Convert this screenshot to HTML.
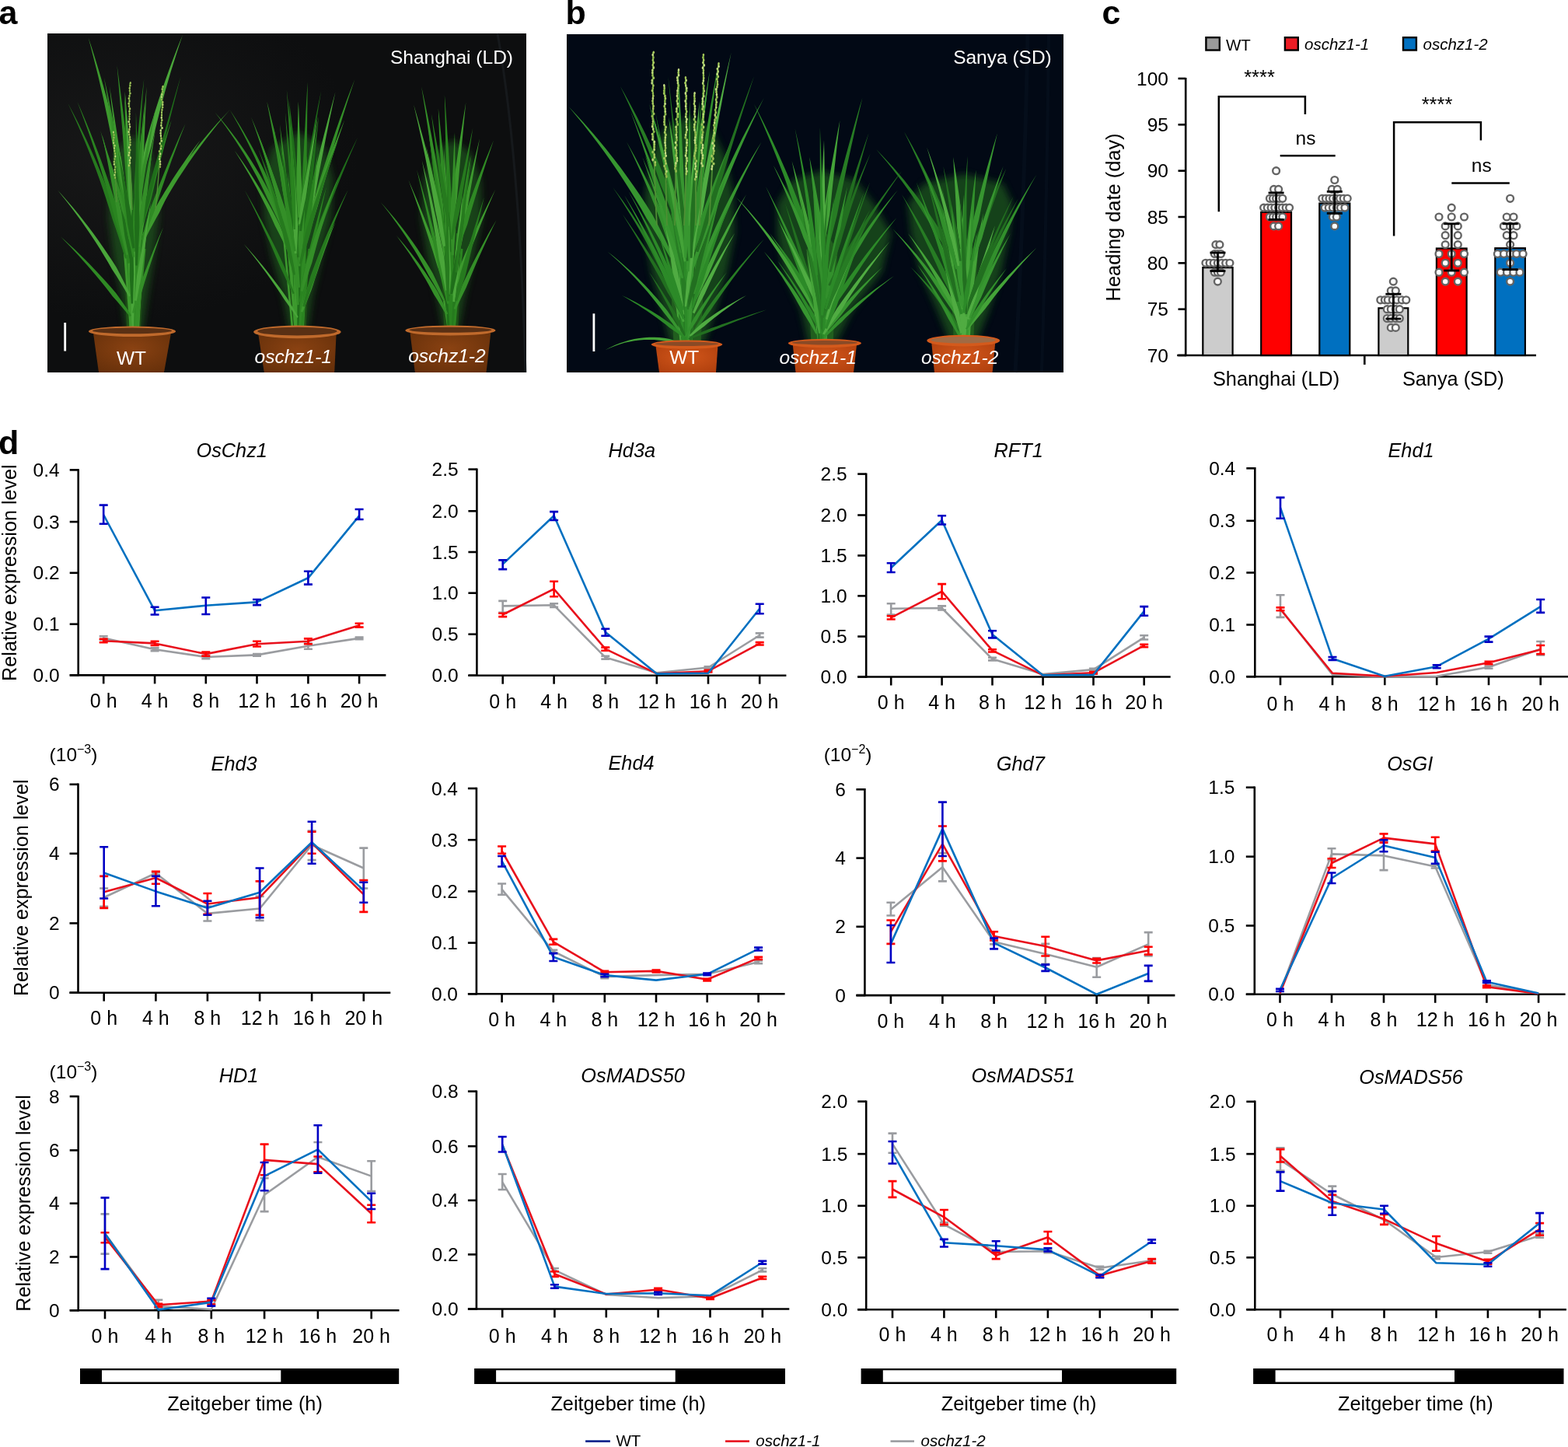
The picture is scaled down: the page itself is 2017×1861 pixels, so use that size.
<!DOCTYPE html>
<html><head><meta charset="utf-8"><title>Figure</title>
<style>
html,body{margin:0;padding:0;background:#fff;}
body{width:2017px;height:1861px;overflow:hidden;}
svg{display:block;font-family:'Liberation Sans', Arial, Helvetica, sans-serif;}
</style></head><body>
<svg width="2017" height="1861" viewBox="0 0 2017 1861">
<rect width="2017" height="1861" fill="#fff"/>
<text x="-1.5" y="31.0" font-size="43" text-anchor="start" fill="#000" font-weight="bold">a</text>
<text x="727.5" y="31.0" font-size="43" text-anchor="start" fill="#000" font-weight="bold">b</text>
<text x="1417.5" y="31.3" font-size="43" text-anchor="start" fill="#000" font-weight="bold">c</text>
<text x="-2.0" y="584.0" font-size="43" text-anchor="start" fill="#000" font-weight="bold">d</text>
<defs><clipPath id="cpa"><rect x="61" y="43" width="616" height="436"/></clipPath><filter id="blur6" x="-20%" y="-20%" width="140%" height="140%"><feGaussianBlur stdDeviation="5"/></filter><clipPath id="cpb"><rect x="729" y="44" width="639" height="435"/></clipPath><radialGradient id="potA" cx="0.5" cy="0.4" r="0.7"><stop offset="0" stop-color="#8a4212"/><stop offset="1" stop-color="#66300a"/></radialGradient><radialGradient id="potB" cx="0.5" cy="0.4" r="0.7"><stop offset="0" stop-color="#d2561a"/><stop offset="1" stop-color="#b0400e"/></radialGradient></defs>
<rect x="61" y="43" width="616" height="436" fill="#0d0e0f"/>
<radialGradient id="bgA" cx="0.15" cy="0.35" r="0.5"><stop offset="0" stop-color="#1c1c1c" stop-opacity="0.7"/><stop offset="1" stop-color="#1c1c1c" stop-opacity="0"/></radialGradient>
<rect x="61" y="43" width="616" height="436" fill="url(#bgA)"/>
<path d="M640,43 Q668,200 676,479" stroke="#1c2224" stroke-width="3" fill="none" opacity="0.6"/>
<g clip-path="url(#cpa)">
<path d="M162.0,423.0 L156.0,380.0 L146.0,330.0 L140.0,280.0 L142.0,230.0 L152.0,190.0 L172.0,175.0 L192.0,190.0 L202.0,230.0 L204.0,280.0 L198.0,330.0 L190.0,380.0 L184.0,423.0Z" fill="#1f541a" opacity="0.75" filter="url(#blur6)"/>
<path d="M162.9,423.0 L159.0,319.0 L172.0,293.0 L185.0,319.0 L181.1,423.0 Z" fill="#1d4f16"/>
<path d="M170.6,423.0 L161.3,258.0" stroke="#3d9a2e" stroke-width="2.7" fill="none"/>
<path d="M173.7,423.0 L179.9,235.5" stroke="#3d9a2e" stroke-width="3.0" fill="none"/>
<path d="M169.2,423.0 L171.3,296.9" stroke="#2a8420" stroke-width="3.4" fill="none"/>
<path d="M168.8,423.0 L162.6,332.1" stroke="#2a8420" stroke-width="2.6" fill="none"/>
<path d="M167.5,423.0 L166.0,338.6" stroke="#2a8420" stroke-width="2.9" fill="none"/>
<path d="M170.7,423.0 L166.9,381.0" stroke="#267a1e" stroke-width="2.9" fill="none"/>
<path d="M168.2,423.0 L168.0,406.4" stroke="#348f28" stroke-width="2.9" fill="none"/>
<path d="M171.4,423.0 L176.9,304.5" stroke="#267a1e" stroke-width="3.3" fill="none"/>
<path d="M176.9,423.0 L186.4,304.7" stroke="#3d9a2e" stroke-width="2.3" fill="none"/>
<path d="M177.7,423.0 L184.1,302.9" stroke="#3d9a2e" stroke-width="2.8" fill="none"/>
<path d="M174.3,423.0 L183.3,308.3" stroke="#348f28" stroke-width="2.3" fill="none"/>
<path d="M174.4,423.0 L183.1,289.1" stroke="#267a1e" stroke-width="2.8" fill="none"/>
<path d="M173.4,423.0 L172.8,322.8" stroke="#1f6e1a" stroke-width="2.2" fill="none"/>
<path d="M171.8,423.0 L162.5,284.8" stroke="#1f6e1a" stroke-width="2.6" fill="none"/>
<path d="M170.7,423.0 L163.9,327.7" stroke="#2a8420" stroke-width="3.1" fill="none"/>
<path d="M170.5,423.0 L171.1,402.5" stroke="#2f8a24" stroke-width="3.2" fill="none"/>
<path d="M172.5,423.0 L169.7,321.7" stroke="#267a1e" stroke-width="2.8" fill="none"/>
<path d="M174.8,423.0 L173.3,289.5" stroke="#267a1e" stroke-width="3.1" fill="none"/>
<path d="M171.2,423.0 L168.8,338.5" stroke="#4aa63a" stroke-width="2.8" fill="none"/>
<path d="M174.7,423.0 L178.4,317.2" stroke="#1f6e1a" stroke-width="3.2" fill="none"/>
<path d="M173.8,423.0 L168.4,279.2" stroke="#4aa63a" stroke-width="2.4" fill="none"/>
<path d="M170.6,423.0 L172.4,323.8" stroke="#3d9a2e" stroke-width="3.1" fill="none"/>
<path d="M169.3,423.0 L168.5,302.0" stroke="#1f6e1a" stroke-width="2.8" fill="none"/>
<path d="M172.7,423.0 L169.8,390.5" stroke="#2a8420" stroke-width="3.1" fill="none"/>
<path d="M172.6,423.0 L174.4,386.8" stroke="#348f28" stroke-width="3.0" fill="none"/>
<path d="M175.7,423.0 L175.2,313.3" stroke="#3d9a2e" stroke-width="3.2" fill="none"/>
<path d="M171.8,423.0 L166.9,307.0" stroke="#267a1e" stroke-width="3.3" fill="none"/>
<path d="M171.1,423.0 L171.8,330.6" stroke="#348f28" stroke-width="2.3" fill="none"/>
<path d="M172.5,423.0 L174.1,284.1" stroke="#267a1e" stroke-width="2.4" fill="none"/>
<path d="M174.4,423.0 L177.5,316.5" stroke="#1f6e1a" stroke-width="3.2" fill="none"/>
<path d="M172.9,423.0 L175.5,341.6" stroke="#2f8a24" stroke-width="2.6" fill="none"/>
<path d="M172.8,423.0 L171.8,319.3" stroke="#4aa63a" stroke-width="3.0" fill="none"/>
<path d="M169.9,423.0 L165.0,300.0" stroke="#3d9a2e" stroke-width="4" fill="none"/>
<path d="M172.0,423.0 L172.0,280.0" stroke="#4aa63a" stroke-width="4" fill="none"/>
<path d="M173.8,423.0 L178.0,300.0" stroke="#2f8a24" stroke-width="4" fill="none"/>
<path d="M170.8,423.0 L168.0,260.0" stroke="#4aa63a" stroke-width="3" fill="none"/>
<path d="M175.0,423.0 L182.0,270.0" stroke="#348f28" stroke-width="3" fill="none"/>
<path d="M168.4,423.0 L160.0,320.0" stroke="#3d9a2e" stroke-width="3" fill="none"/>
<path d="M176.2,423.0 L186.0,320.0" stroke="#348f28" stroke-width="3" fill="none"/>
<path d="M163.1,257.7 L161.5,244.3 L159.8,230.9 L158.0,217.5 L156.1,204.2 L153.2,191.0 L150.2,177.8 L147.1,164.7 L143.9,151.7 L140.5,138.6 L137.1,125.6 L133.5,112.6 L129.8,99.7 L125.9,86.8 L122.0,73.9 L117.9,61.1 L113.6,48.3 L113.6,48.3 L117.0,61.3 L120.4,74.4 L123.7,87.4 L126.9,100.5 L129.9,113.5 L132.9,126.6 L135.7,139.8 L138.5,152.9 L141.1,166.1 L143.6,179.2 L146.0,192.4 L148.2,205.7 L151.2,218.7 L154.1,231.9 L156.9,245.0 L159.5,258.2Z" fill="#3d9a2e"/>
<path d="M181.6,235.9 L184.7,223.9 L187.9,211.9 L191.3,199.9 L194.7,188.0 L197.5,175.9 L200.3,163.9 L203.3,151.9 L206.3,139.9 L209.5,127.9 L212.8,115.9 L216.3,104.0 L219.8,92.1 L223.5,80.3 L227.2,68.4 L231.1,56.6 L235.0,44.8 L235.0,44.8 L230.3,56.3 L225.7,67.9 L221.3,79.5 L217.0,91.2 L212.8,102.9 L208.8,114.7 L204.8,126.5 L201.0,138.3 L197.3,150.2 L193.7,162.1 L190.3,174.1 L187.0,186.1 L184.6,198.3 L182.3,210.6 L180.1,222.9 L178.1,235.2Z" fill="#4aa63a"/>
<path d="M172.8,296.8 L172.2,283.4 L171.5,270.0 L170.8,256.7 L170.1,243.3 L168.6,230.0 L167.1,216.7 L165.6,203.4 L164.0,190.1 L162.4,176.9 L160.8,163.6 L159.2,150.3 L157.5,137.0 L155.8,123.8 L154.1,110.5 L152.3,97.2 L150.5,84.0 L150.5,84.0 L151.6,97.3 L152.7,110.7 L153.8,124.0 L154.9,137.3 L156.0,150.6 L157.1,164.0 L158.1,177.3 L159.2,190.6 L160.2,203.9 L161.2,217.3 L162.2,230.6 L163.1,243.9 L164.8,257.2 L166.5,270.5 L168.1,283.7 L169.7,297.0Z" fill="#2f8a24"/>
<path d="M164.2,331.7 L161.2,318.6 L158.1,305.6 L154.7,292.6 L151.2,279.7 L146.9,267.0 L142.3,254.5 L137.6,242.0 L132.7,229.6 L127.7,217.2 L122.5,204.9 L117.1,192.7 L111.5,180.6 L105.7,168.6 L99.8,156.6 L93.7,144.7 L87.4,132.9 L87.4,132.9 L93.0,145.0 L98.6,157.2 L103.9,169.4 L109.1,181.7 L114.1,194.0 L119.0,206.4 L123.7,218.8 L128.2,231.3 L132.5,243.8 L136.7,256.4 L140.7,269.1 L144.6,281.8 L149.0,294.3 L153.2,307.0 L157.2,319.7 L161.1,332.5Z" fill="#267a1e"/>
<path d="M167.5,338.2 L164.8,324.8 L162.0,311.3 L159.0,298.0 L155.9,284.6 L152.0,271.5 L147.9,258.4 L143.6,245.4 L139.3,232.4 L134.8,219.5 L130.1,206.6 L125.3,193.8 L120.4,181.0 L115.4,168.3 L110.2,155.7 L104.8,143.0 L99.3,130.5 L99.3,130.5 L104.1,143.3 L108.9,156.2 L113.5,169.0 L118.0,181.9 L122.3,194.9 L126.6,207.8 L130.7,220.9 L134.6,233.9 L138.5,247.0 L142.2,260.1 L145.7,273.3 L149.2,286.5 L153.2,299.5 L157.1,312.6 L160.8,325.7 L164.5,338.9Z" fill="#2a8420"/>
<path d="M168.1,380.3 L163.6,371.0 L159.0,361.7 L154.3,352.5 L149.4,343.3 L143.8,334.6 L138.1,325.9 L132.3,317.4 L126.4,309.0 L120.3,300.6 L114.1,292.3 L107.8,284.2 L101.4,276.1 L94.8,268.1 L88.1,260.2 L81.3,252.5 L74.3,244.8 L74.3,244.8 L80.8,252.9 L87.2,261.0 L93.5,269.2 L99.6,277.5 L105.6,285.8 L111.5,294.2 L117.3,302.7 L122.9,311.3 L128.5,320.0 L133.8,328.7 L139.1,337.5 L144.2,346.4 L149.8,355.0 L155.2,363.8 L160.5,372.6 L165.7,381.6Z" fill="#4aa63a"/>
<path d="M169.1,405.7 L164.4,398.5 L159.5,391.4 L154.6,384.4 L149.6,377.5 L144.1,371.0 L138.4,364.5 L132.7,358.2 L126.9,351.9 L121.0,345.7 L115.1,339.6 L109.1,333.5 L103.0,327.5 L96.9,321.6 L90.6,315.7 L84.3,310.0 L77.9,304.3 L77.9,304.3 L83.9,310.4 L89.8,316.6 L95.6,322.8 L101.4,329.0 L107.1,335.4 L112.7,341.7 L118.3,348.2 L123.8,354.7 L129.2,361.2 L134.5,367.8 L139.8,374.5 L144.9,381.2 L150.6,387.6 L156.1,394.1 L161.6,400.6 L167.0,407.2Z" fill="#2f8a24"/>
<path d="M178.3,304.5 L179.3,292.5 L180.4,280.5 L181.5,268.4 L182.5,256.4 L183.0,244.3 L183.5,232.2 L183.9,220.1 L184.4,208.0 L184.9,196.0 L185.4,183.9 L186.0,171.8 L186.5,159.7 L187.0,147.6 L187.6,135.6 L188.1,123.5 L188.6,111.4 L188.6,111.4 L187.5,123.4 L186.4,135.5 L185.3,147.5 L184.3,159.6 L183.2,171.6 L182.2,183.7 L181.2,195.7 L180.3,207.8 L179.3,219.8 L178.4,231.9 L177.5,244.0 L176.5,256.0 L176.3,268.1 L176.0,280.2 L175.8,292.3 L175.6,304.4Z" fill="#3d9a2e"/>
<path d="M187.9,305.3 L191.9,297.3 L196.1,289.4 L200.4,281.5 L204.8,273.8 L208.6,265.7 L212.5,257.7 L216.6,249.8 L220.7,241.9 L225.0,234.0 L229.3,226.2 L233.8,218.5 L238.3,210.8 L243.0,203.2 L247.8,195.6 L252.7,188.0 L257.6,180.5 L257.6,180.5 L252.0,187.6 L246.6,194.8 L241.3,202.0 L236.2,209.4 L231.1,216.8 L226.1,224.3 L221.2,231.8 L216.5,239.4 L211.8,247.1 L207.3,254.9 L202.9,262.7 L198.5,270.6 L195.0,278.9 L191.5,287.2 L188.2,295.6 L185.0,304.1Z" fill="#3d9a2e"/>
<path d="M185.3,303.5 L191.3,292.7 L197.5,282.0 L203.8,271.5 L210.3,261.1 L216.5,250.5 L222.8,240.0 L229.3,229.6 L236.0,219.4 L242.8,209.2 L249.8,199.2 L257.1,189.2 L264.4,179.4 L272.0,169.7 L279.7,160.1 L287.6,150.6 L295.7,141.2 L295.7,141.2 L287.2,150.2 L278.8,159.3 L270.7,168.6 L262.7,178.0 L254.9,187.6 L247.3,197.2 L239.8,207.0 L232.5,217.0 L225.4,227.1 L218.5,237.3 L211.8,247.6 L205.2,258.0 L199.3,268.9 L193.7,280.0 L188.2,291.1 L182.9,302.3Z" fill="#3d9a2e"/>
<path d="M184.6,308.7 L188.0,299.4 L191.5,290.1 L195.0,280.8 L198.6,271.5 L201.6,262.0 L204.7,252.6 L207.9,243.1 L211.1,233.7 L214.3,224.3 L217.7,214.9 L221.0,205.6 L224.5,196.2 L227.9,186.9 L231.4,177.6 L235.0,168.3 L238.6,159.0 L238.6,159.0 L234.4,168.1 L230.3,177.1 L226.3,186.3 L222.4,195.4 L218.5,204.6 L214.7,213.8 L210.9,223.0 L207.2,232.3 L203.5,241.5 L199.9,250.9 L196.4,260.2 L192.9,269.5 L190.1,279.1 L187.4,288.7 L184.7,298.3 L182.0,307.9Z" fill="#2f8a24"/>
<path d="M184.4,289.4 L186.8,281.0 L189.3,272.6 L191.9,264.2 L194.4,255.9 L196.4,247.4 L198.5,238.9 L200.5,230.4 L202.6,221.9 L204.8,213.4 L206.9,204.9 L209.2,196.5 L211.4,188.0 L213.7,179.6 L216.0,171.2 L218.4,162.7 L220.7,154.3 L220.7,154.3 L217.7,162.5 L214.9,170.8 L212.0,179.1 L209.3,187.4 L206.5,195.7 L203.9,204.1 L201.2,212.4 L198.6,220.8 L196.1,229.1 L193.5,237.5 L191.1,245.9 L188.6,254.4 L186.8,262.9 L185.1,271.5 L183.4,280.1 L181.8,288.7Z" fill="#2a8420"/>
<path d="M174.1,322.9 L175.2,310.9 L176.4,298.9 L177.5,286.9 L178.7,274.9 L179.3,262.8 L179.8,250.8 L180.4,238.8 L181.0,226.8 L181.6,214.7 L182.2,202.7 L182.8,190.7 L183.5,178.6 L184.1,166.6 L184.7,154.6 L185.4,142.5 L186.0,130.5 L186.0,130.5 L184.7,142.5 L183.5,154.5 L182.4,166.5 L181.2,178.5 L180.1,190.5 L179.0,202.5 L177.9,214.5 L176.8,226.5 L175.8,238.5 L174.8,250.5 L173.7,262.5 L172.7,274.5 L172.4,286.6 L172.0,298.6 L171.7,310.7 L171.4,322.7Z" fill="#2f8a24"/>
<path d="M164.0,284.7 L163.2,272.9 L162.2,261.2 L161.3,249.5 L160.2,237.8 L158.4,226.2 L156.5,214.6 L154.5,203.1 L152.5,191.5 L150.4,180.0 L148.2,168.4 L146.0,156.9 L143.7,145.4 L141.3,133.9 L138.9,122.4 L136.4,110.9 L133.8,99.5 L133.8,99.5 L135.7,111.1 L137.5,122.7 L139.4,134.2 L141.1,145.8 L142.8,157.4 L144.5,169.0 L146.1,180.6 L147.7,192.2 L149.1,203.9 L150.6,215.5 L152.0,227.1 L153.3,238.7 L155.3,250.3 L157.2,261.8 L159.1,273.4 L160.9,285.0Z" fill="#348f28"/>
<path d="M165.5,327.4 L164.2,317.6 L162.8,307.8 L161.5,298.1 L160.1,288.3 L157.9,278.6 L155.7,269.0 L153.4,259.4 L151.2,249.8 L148.8,240.2 L146.5,230.6 L144.1,221.0 L141.6,211.4 L139.2,201.9 L136.6,192.3 L134.1,182.8 L131.4,173.3 L131.4,173.3 L133.3,183.0 L135.3,192.7 L137.2,202.3 L139.1,212.0 L141.0,221.7 L142.8,231.4 L144.6,241.1 L146.4,250.8 L148.1,260.5 L149.9,270.2 L151.5,279.9 L153.2,289.6 L155.5,299.2 L157.9,308.8 L160.1,318.4 L162.4,328.0Z" fill="#348f28"/>
<path d="M172.2,402.8 L174.7,396.0 L177.1,389.1 L179.7,382.3 L182.3,375.4 L184.4,368.4 L186.5,361.5 L188.7,354.5 L190.9,347.6 L193.2,340.7 L195.5,333.7 L197.8,326.8 L200.2,319.9 L202.6,313.0 L205.0,306.1 L207.5,299.3 L210.0,292.4 L210.0,292.4 L207.0,299.1 L204.1,305.8 L201.3,312.5 L198.4,319.3 L195.7,326.0 L193.0,332.8 L190.3,339.6 L187.6,346.4 L185.0,353.3 L182.5,360.1 L180.0,367.0 L177.5,373.9 L175.6,380.9 L173.7,388.0 L171.8,395.1 L170.0,402.2Z" fill="#348f28"/>
<path d="M171.3,321.6 L171.2,309.0 L171.2,296.3 L171.1,283.7 L171.0,271.1 L170.2,258.5 L169.4,245.9 L168.5,233.3 L167.6,220.7 L166.7,208.1 L165.8,195.5 L164.9,182.9 L164.0,170.3 L163.0,157.7 L162.1,145.2 L161.1,132.6 L160.0,120.0 L160.0,120.0 L160.3,132.6 L160.7,145.2 L161.0,157.9 L161.4,170.5 L161.7,183.1 L162.1,195.7 L162.4,208.3 L162.8,220.9 L163.1,233.5 L163.4,246.2 L163.7,258.8 L164.1,271.4 L165.1,284.0 L166.1,296.5 L167.1,309.1 L168.1,321.7Z" fill="#2a8420"/>
<path d="M174.6,289.7 L176.5,280.4 L178.4,271.1 L180.3,261.8 L182.2,252.5 L183.6,243.1 L184.9,233.7 L186.3,224.3 L187.8,215.0 L189.2,205.6 L190.7,196.2 L192.2,186.8 L193.7,177.5 L195.3,168.1 L196.8,158.7 L198.4,149.4 L200.0,140.0 L200.0,140.0 L197.8,149.2 L195.7,158.5 L193.6,167.8 L191.5,177.0 L189.5,186.3 L187.5,195.6 L185.6,204.9 L183.7,214.2 L181.8,223.5 L179.9,232.9 L178.1,242.2 L176.3,251.5 L175.2,261.0 L174.1,270.4 L173.0,279.8 L171.9,289.3Z" fill="#348f28"/>
<path d="M170.2,338.3 L169.3,329.6 L168.3,320.8 L167.4,312.1 L166.4,303.3 L164.8,294.7 L163.2,286.0 L161.5,277.4 L159.8,268.8 L158.0,260.1 L156.3,251.5 L154.5,242.9 L152.7,234.3 L150.8,225.7 L148.9,217.1 L147.0,208.6 L145.0,200.0 L145.0,200.0 L146.4,208.7 L147.7,217.4 L149.1,226.0 L150.5,234.7 L151.8,243.4 L153.1,252.1 L154.4,260.8 L155.7,269.5 L156.9,278.2 L158.1,286.9 L159.3,295.6 L160.5,304.3 L162.3,312.9 L164.0,321.5 L165.8,330.1 L167.5,338.7Z" fill="#1f6e1a"/>
<path d="M179.7,317.4 L181.0,310.1 L182.4,302.8 L183.7,295.5 L185.1,288.2 L185.8,280.9 L186.6,273.5 L187.4,266.2 L188.2,258.8 L189.0,251.5 L189.8,244.1 L190.7,236.8 L191.5,229.4 L192.4,222.1 L193.3,214.7 L194.1,207.4 L195.0,200.0 L195.0,200.0 L193.5,207.3 L192.1,214.5 L190.7,221.8 L189.3,229.1 L188.0,236.4 L186.6,243.6 L185.3,250.9 L184.0,258.2 L182.8,265.5 L181.5,272.8 L180.3,280.2 L179.1,287.5 L178.6,294.9 L178.0,302.3 L177.5,309.7 L177.0,317.1Z" fill="#3d9a2e"/>
<path d="M169.5,279.2 L169.6,269.0 L169.6,258.9 L169.6,248.7 L169.6,238.6 L169.0,228.5 L168.3,218.3 L167.7,208.2 L167.0,198.1 L166.3,187.9 L165.6,177.8 L164.9,167.7 L164.1,157.6 L163.3,147.5 L162.4,137.4 L161.6,127.3 L160.6,117.2 L160.6,117.2 L161.0,127.3 L161.4,137.4 L161.8,147.6 L162.2,157.7 L162.5,167.8 L162.9,178.0 L163.2,188.1 L163.5,198.2 L163.7,208.4 L164.0,218.5 L164.2,228.6 L164.4,238.8 L165.2,248.9 L165.9,259.0 L166.5,269.1 L167.2,279.3Z" fill="#4aa63a"/>
<path d="M173.8,323.8 L174.5,313.3 L175.2,302.8 L176.0,292.3 L176.9,281.8 L177.2,271.3 L177.5,260.8 L177.9,250.3 L178.4,239.8 L178.9,229.3 L179.5,218.8 L180.1,208.3 L180.8,197.8 L181.5,187.3 L182.3,176.8 L183.1,166.3 L183.9,155.8 L183.9,155.8 L182.5,166.3 L181.1,176.7 L179.8,187.2 L178.5,197.6 L177.4,208.1 L176.2,218.6 L175.2,229.0 L174.2,239.5 L173.3,250.0 L172.4,260.5 L171.6,271.0 L170.9,281.6 L170.8,292.1 L170.9,302.7 L170.9,313.2 L171.1,323.7Z" fill="#2f8a24"/>
<path d="M169.7,301.7 L167.6,293.2 L165.5,284.7 L163.4,276.3 L161.3,267.8 L158.7,259.4 L156.0,251.1 L153.4,242.8 L150.7,234.5 L148.1,226.2 L145.4,217.9 L142.7,209.5 L140.0,201.2 L137.3,192.9 L134.6,184.6 L131.9,176.3 L129.1,168.1 L129.1,168.1 L131.4,176.5 L133.6,184.9 L135.9,193.4 L138.2,201.8 L140.5,210.2 L142.7,218.6 L145.0,227.1 L147.3,235.5 L149.5,243.9 L151.8,252.4 L154.1,260.8 L156.3,269.2 L159.1,277.5 L161.9,285.8 L164.7,294.1 L167.4,302.3Z" fill="#348f28"/>
<path d="M171.1,390.5 L171.3,381.0 L171.5,371.5 L171.8,362.0 L172.1,352.6 L171.9,343.1 L171.7,333.6 L171.6,324.2 L171.5,314.7 L171.4,305.2 L171.3,295.7 L171.3,286.2 L171.3,276.8 L171.4,267.3 L171.5,257.8 L171.6,248.3 L171.7,238.8 L171.7,238.8 L171.0,248.3 L170.4,257.8 L169.8,267.2 L169.3,276.7 L168.8,286.2 L168.4,295.7 L168.0,305.1 L167.7,314.6 L167.4,324.1 L167.1,333.6 L166.9,343.1 L166.7,352.6 L167.1,362.1 L167.6,371.6 L168.1,381.0 L168.6,390.5Z" fill="#1f6e1a"/>
<path d="M175.7,387.0 L177.2,379.2 L178.7,371.3 L180.3,363.5 L181.8,355.6 L182.8,347.7 L183.8,339.8 L184.7,331.9 L185.7,323.9 L186.7,316.0 L187.8,308.1 L188.8,300.2 L189.8,292.3 L190.9,284.3 L191.9,276.4 L193.0,268.5 L194.0,260.6 L194.0,260.6 L192.4,268.4 L190.8,276.2 L189.2,284.1 L187.7,291.9 L186.2,299.8 L184.7,307.6 L183.2,315.5 L181.8,323.3 L180.3,331.2 L178.9,339.0 L177.5,346.9 L176.1,354.8 L175.3,362.7 L174.6,370.7 L173.9,378.7 L173.1,386.6Z" fill="#4aa63a"/>
<path d="M176.4,313.7 L180.2,300.3 L184.1,286.9 L188.0,273.6 L191.9,260.2 L195.2,246.7 L198.5,233.2 L201.9,219.7 L205.3,206.3 L208.6,192.8 L212.0,179.3 L215.4,165.8 L218.8,152.3 L222.2,138.8 L225.6,125.4 L229.0,111.9 L232.4,98.4 L232.4,98.4 L228.4,111.7 L224.5,125.1 L220.6,138.4 L216.8,151.8 L212.9,165.1 L209.1,178.5 L205.3,191.9 L201.5,205.3 L197.7,218.6 L194.0,232.0 L190.2,245.4 L186.5,258.8 L183.3,272.4 L180.2,285.9 L177.1,299.5 L174.0,313.0Z" fill="#1f6e1a"/>
<path d="M168.4,306.8 L167.2,294.5 L166.1,282.2 L164.9,269.9 L163.8,257.6 L161.9,245.4 L160.1,233.2 L158.2,221.0 L156.3,208.8 L154.4,196.6 L152.5,184.4 L150.6,172.2 L148.7,160.0 L146.8,147.8 L144.8,135.6 L142.9,123.4 L140.9,111.2 L140.9,111.2 L142.2,123.5 L143.5,135.8 L144.9,148.0 L146.3,160.3 L147.6,172.6 L149.0,184.8 L150.4,197.1 L151.8,209.4 L153.1,221.6 L154.5,233.9 L155.9,246.2 L157.2,258.4 L159.3,270.6 L161.3,282.8 L163.4,295.0 L165.4,307.2Z" fill="#3d9a2e"/>
<path d="M173.1,330.4 L172.1,321.8 L171.0,313.2 L170.0,304.6 L168.9,295.9 L167.1,287.4 L165.3,279.0 L163.5,270.5 L161.6,262.0 L159.7,253.6 L157.7,245.1 L155.7,236.7 L153.6,228.3 L151.5,219.8 L149.4,211.4 L147.2,203.1 L144.9,194.7 L144.9,194.7 L146.6,203.2 L148.3,211.7 L149.9,220.2 L151.5,228.7 L153.1,237.2 L154.7,245.7 L156.2,254.3 L157.7,262.8 L159.1,271.3 L160.5,279.9 L161.9,288.4 L163.2,297.0 L165.1,305.4 L166.9,313.9 L168.7,322.3 L170.5,330.8Z" fill="#2f8a24"/>
<path d="M175.3,284.1 L175.9,272.6 L176.6,261.2 L177.3,249.8 L178.1,238.4 L178.4,227.0 L178.7,215.5 L179.1,204.1 L179.6,192.7 L180.1,181.2 L180.7,169.8 L181.3,158.4 L182.0,147.0 L182.7,135.6 L183.5,124.1 L184.4,112.7 L185.3,101.3 L185.3,101.3 L183.8,112.7 L182.4,124.0 L181.2,135.4 L180.0,146.8 L178.8,158.2 L177.8,169.6 L176.8,181.0 L175.8,192.4 L174.9,203.9 L174.1,215.3 L173.4,226.7 L172.7,238.2 L172.7,249.6 L172.7,261.1 L172.8,272.6 L172.9,284.0Z" fill="#267a1e"/>
<path d="M178.8,316.7 L180.3,307.3 L181.9,298.0 L183.5,288.7 L185.1,279.4 L186.1,270.0 L187.2,260.6 L188.3,251.2 L189.4,241.9 L190.6,232.5 L191.8,223.1 L193.1,213.8 L194.4,204.4 L195.7,195.0 L197.1,185.7 L198.5,176.3 L199.8,167.0 L199.8,167.0 L197.8,176.2 L195.9,185.5 L194.0,194.7 L192.1,204.0 L190.3,213.3 L188.6,222.6 L186.9,231.9 L185.2,241.2 L183.6,250.6 L182.0,259.9 L180.5,269.2 L179.0,278.6 L178.2,288.0 L177.5,297.5 L176.7,306.9 L176.1,316.4Z" fill="#348f28"/>
<path d="M176.9,341.6 L177.6,329.2 L178.2,316.9 L178.8,304.5 L179.4,292.2 L179.3,279.8 L179.1,267.5 L178.8,255.1 L178.6,242.7 L178.3,230.4 L177.9,218.0 L177.5,205.7 L177.1,193.3 L176.6,181.0 L176.1,168.6 L175.5,156.3 L174.9,144.0 L174.9,144.0 L174.8,156.3 L174.8,168.7 L174.8,181.0 L174.7,193.4 L174.6,205.7 L174.5,218.1 L174.3,230.4 L174.1,242.8 L173.9,255.1 L173.6,267.4 L173.3,279.8 L173.0,292.1 L173.3,304.5 L173.6,316.8 L173.8,329.2 L174.0,341.5Z" fill="#1f6e1a"/>
<path d="M173.3,319.1 L172.7,311.1 L172.1,303.2 L171.4,295.2 L170.7,287.3 L169.3,279.4 L167.9,271.6 L166.4,263.7 L164.9,255.9 L163.4,248.0 L161.8,240.2 L160.2,232.4 L158.6,224.6 L157.0,216.8 L155.3,209.0 L153.6,201.2 L151.9,193.4 L151.9,193.4 L152.9,201.3 L154.0,209.2 L155.1,217.1 L156.2,225.0 L157.2,232.9 L158.3,240.8 L159.3,248.7 L160.3,256.6 L161.2,264.5 L162.2,272.4 L163.1,280.3 L164.0,288.2 L165.6,296.0 L167.2,303.9 L168.8,311.7 L170.3,319.5Z" fill="#1f6e1a"/>
</g>
<path d="M170.0,270.0 Q164.8,188.3 167.0,106.7" stroke="#4f8f34" stroke-width="1.4" fill="none"/>
<ellipse cx="165.9" cy="212.8" rx="1.1" ry="1.6" fill="#a9c95e"/>
<ellipse cx="167.2" cy="209.5" rx="1.1" ry="1.6" fill="#bcd675"/>
<ellipse cx="166.9" cy="206.2" rx="1.1" ry="1.6" fill="#bcd675"/>
<ellipse cx="167.9" cy="202.9" rx="1.1" ry="1.6" fill="#bcd675"/>
<ellipse cx="165.6" cy="199.6" rx="1.1" ry="1.6" fill="#bcd675"/>
<ellipse cx="166.3" cy="196.3" rx="1.1" ry="1.6" fill="#bcd675"/>
<ellipse cx="167.4" cy="192.9" rx="1.1" ry="1.6" fill="#92b84c"/>
<ellipse cx="166.1" cy="189.6" rx="1.1" ry="1.6" fill="#c6dc84"/>
<ellipse cx="167.5" cy="186.3" rx="1.1" ry="1.6" fill="#a9c95e"/>
<ellipse cx="167.6" cy="183.0" rx="1.1" ry="1.6" fill="#92b84c"/>
<ellipse cx="167.5" cy="179.7" rx="1.1" ry="1.6" fill="#9fc258"/>
<ellipse cx="167.2" cy="176.4" rx="1.1" ry="1.6" fill="#9fc258"/>
<ellipse cx="166.2" cy="173.0" rx="1.1" ry="1.6" fill="#9fc258"/>
<ellipse cx="165.5" cy="169.7" rx="1.1" ry="1.6" fill="#bcd675"/>
<ellipse cx="166.4" cy="166.4" rx="1.1" ry="1.6" fill="#a9c95e"/>
<ellipse cx="167.2" cy="163.1" rx="1.1" ry="1.6" fill="#bcd675"/>
<ellipse cx="166.6" cy="159.8" rx="1.1" ry="1.6" fill="#bcd675"/>
<ellipse cx="165.6" cy="156.5" rx="1.1" ry="1.6" fill="#c6dc84"/>
<ellipse cx="166.6" cy="153.1" rx="1.1" ry="1.6" fill="#a9c95e"/>
<ellipse cx="166.5" cy="149.8" rx="1.1" ry="1.6" fill="#92b84c"/>
<ellipse cx="166.8" cy="146.5" rx="1.1" ry="1.6" fill="#9fc258"/>
<ellipse cx="166.5" cy="143.2" rx="1.1" ry="1.6" fill="#a9c95e"/>
<ellipse cx="167.2" cy="139.9" rx="1.1" ry="1.6" fill="#a9c95e"/>
<ellipse cx="165.9" cy="136.6" rx="1.1" ry="1.6" fill="#92b84c"/>
<ellipse cx="165.6" cy="133.2" rx="1.1" ry="1.6" fill="#a9c95e"/>
<ellipse cx="166.5" cy="129.9" rx="1.1" ry="1.6" fill="#9fc258"/>
<ellipse cx="165.7" cy="126.6" rx="1.1" ry="1.6" fill="#a9c95e"/>
<ellipse cx="166.5" cy="123.3" rx="1.1" ry="1.6" fill="#9fc258"/>
<ellipse cx="167.6" cy="120.0" rx="1.1" ry="1.6" fill="#9fc258"/>
<ellipse cx="166.8" cy="116.7" rx="1.1" ry="1.6" fill="#92b84c"/>
<ellipse cx="166.7" cy="113.3" rx="1.1" ry="1.6" fill="#9fc258"/>
<ellipse cx="167.5" cy="110.0" rx="1.1" ry="1.6" fill="#9fc258"/>
<ellipse cx="167.8" cy="106.7" rx="1.1" ry="1.6" fill="#9fc258"/>
<path d="M200.0,270.0 Q208.2,190.7 208.8,111.4" stroke="#4f8f34" stroke-width="1.4" fill="none"/>
<ellipse cx="206.0" cy="214.5" rx="1.1" ry="1.6" fill="#92b84c"/>
<ellipse cx="206.2" cy="211.2" rx="1.1" ry="1.6" fill="#bcd675"/>
<ellipse cx="206.2" cy="207.8" rx="1.1" ry="1.6" fill="#bcd675"/>
<ellipse cx="205.2" cy="204.5" rx="1.1" ry="1.6" fill="#c6dc84"/>
<ellipse cx="205.5" cy="201.2" rx="1.1" ry="1.6" fill="#a9c95e"/>
<ellipse cx="206.3" cy="197.9" rx="1.1" ry="1.6" fill="#c6dc84"/>
<ellipse cx="204.9" cy="194.5" rx="1.1" ry="1.6" fill="#92b84c"/>
<ellipse cx="207.0" cy="191.2" rx="1.1" ry="1.6" fill="#bcd675"/>
<ellipse cx="207.6" cy="187.9" rx="1.1" ry="1.6" fill="#92b84c"/>
<ellipse cx="205.7" cy="184.6" rx="1.1" ry="1.6" fill="#bcd675"/>
<ellipse cx="207.9" cy="181.2" rx="1.1" ry="1.6" fill="#bcd675"/>
<ellipse cx="207.5" cy="177.9" rx="1.1" ry="1.6" fill="#a9c95e"/>
<ellipse cx="206.9" cy="174.6" rx="1.1" ry="1.6" fill="#c6dc84"/>
<ellipse cx="206.5" cy="171.3" rx="1.1" ry="1.6" fill="#bcd675"/>
<ellipse cx="206.6" cy="167.9" rx="1.1" ry="1.6" fill="#c6dc84"/>
<ellipse cx="208.7" cy="164.6" rx="1.1" ry="1.6" fill="#c6dc84"/>
<ellipse cx="207.3" cy="161.3" rx="1.1" ry="1.6" fill="#bcd675"/>
<ellipse cx="207.5" cy="158.0" rx="1.1" ry="1.6" fill="#a9c95e"/>
<ellipse cx="208.4" cy="154.6" rx="1.1" ry="1.6" fill="#a9c95e"/>
<ellipse cx="207.7" cy="151.3" rx="1.1" ry="1.6" fill="#c6dc84"/>
<ellipse cx="208.0" cy="148.0" rx="1.1" ry="1.6" fill="#a9c95e"/>
<ellipse cx="208.0" cy="144.7" rx="1.1" ry="1.6" fill="#9fc258"/>
<ellipse cx="208.5" cy="141.3" rx="1.1" ry="1.6" fill="#9fc258"/>
<ellipse cx="209.3" cy="138.0" rx="1.1" ry="1.6" fill="#a9c95e"/>
<ellipse cx="209.4" cy="134.7" rx="1.1" ry="1.6" fill="#bcd675"/>
<ellipse cx="209.4" cy="131.4" rx="1.1" ry="1.6" fill="#a9c95e"/>
<ellipse cx="207.8" cy="128.0" rx="1.1" ry="1.6" fill="#92b84c"/>
<ellipse cx="207.8" cy="124.7" rx="1.1" ry="1.6" fill="#bcd675"/>
<ellipse cx="208.3" cy="121.4" rx="1.1" ry="1.6" fill="#bcd675"/>
<ellipse cx="209.3" cy="118.1" rx="1.1" ry="1.6" fill="#92b84c"/>
<ellipse cx="208.6" cy="114.7" rx="1.1" ry="1.6" fill="#9fc258"/>
<ellipse cx="209.5" cy="111.4" rx="1.1" ry="1.6" fill="#9fc258"/>
<path d="M150.0,260.0 Q147.9,215.0 146.0,170.0" stroke="#4f8f34" stroke-width="1.3" fill="none"/>
<ellipse cx="148.1" cy="228.5" rx="1.0" ry="1.5" fill="#92b84c"/>
<ellipse cx="147.3" cy="225.1" rx="1.0" ry="1.5" fill="#bcd675"/>
<ellipse cx="148.1" cy="221.6" rx="1.0" ry="1.5" fill="#a9c95e"/>
<ellipse cx="147.6" cy="218.2" rx="1.0" ry="1.5" fill="#a9c95e"/>
<ellipse cx="148.3" cy="214.7" rx="1.0" ry="1.5" fill="#92b84c"/>
<ellipse cx="146.8" cy="211.3" rx="1.0" ry="1.5" fill="#bcd675"/>
<ellipse cx="146.7" cy="207.9" rx="1.0" ry="1.5" fill="#a9c95e"/>
<ellipse cx="147.4" cy="204.4" rx="1.0" ry="1.5" fill="#92b84c"/>
<ellipse cx="148.4" cy="201.0" rx="1.0" ry="1.5" fill="#c6dc84"/>
<ellipse cx="148.1" cy="197.5" rx="1.0" ry="1.5" fill="#92b84c"/>
<ellipse cx="147.3" cy="194.1" rx="1.0" ry="1.5" fill="#a9c95e"/>
<ellipse cx="147.0" cy="190.6" rx="1.0" ry="1.5" fill="#bcd675"/>
<ellipse cx="147.6" cy="187.2" rx="1.0" ry="1.5" fill="#bcd675"/>
<ellipse cx="146.2" cy="183.8" rx="1.0" ry="1.5" fill="#bcd675"/>
<ellipse cx="145.9" cy="180.3" rx="1.0" ry="1.5" fill="#92b84c"/>
<ellipse cx="146.5" cy="176.9" rx="1.0" ry="1.5" fill="#9fc258"/>
<ellipse cx="146.6" cy="173.4" rx="1.0" ry="1.5" fill="#92b84c"/>
<ellipse cx="145.9" cy="170.0" rx="1.0" ry="1.5" fill="#bcd675"/>
<g clip-path="url(#cpa)">
<path d="M372.0,423.0 L364.0,380.0 L350.0,330.0 L340.0,280.0 L338.0,230.0 L350.0,190.0 L384.0,170.0 L418.0,190.0 L428.0,230.0 L426.0,280.0 L414.0,330.0 L402.0,380.0 L396.0,423.0Z" fill="#1f541a" opacity="0.75" filter="url(#blur6)"/>
<path d="M374.0,423.3 L369.8,327.3 L383.8,303.3 L397.8,327.3 L393.6,423.3 Z" fill="#1d4f16"/>
<path d="M376.2,423.3 L364.2,295.3" stroke="#3d9a2e" stroke-width="2.5" fill="none"/>
<path d="M379.9,423.3 L370.3,307.9" stroke="#3d9a2e" stroke-width="2.8" fill="none"/>
<path d="M388.4,423.3 L393.6,312.1" stroke="#1f6e1a" stroke-width="2.4" fill="none"/>
<path d="M388.1,423.3 L388.7,328.4" stroke="#3d9a2e" stroke-width="2.2" fill="none"/>
<path d="M380.7,423.3 L374.4,286.4" stroke="#4aa63a" stroke-width="2.8" fill="none"/>
<path d="M386.9,423.3 L384.1,283.2" stroke="#267a1e" stroke-width="2.7" fill="none"/>
<path d="M389.0,423.3 L392.8,298.0" stroke="#348f28" stroke-width="2.3" fill="none"/>
<path d="M384.1,423.3 L392.9,305.3" stroke="#2f8a24" stroke-width="2.8" fill="none"/>
<path d="M389.5,423.3 L393.9,338.9" stroke="#348f28" stroke-width="2.9" fill="none"/>
<path d="M383.4,423.3 L379.8,338.3" stroke="#267a1e" stroke-width="3.3" fill="none"/>
<path d="M381.3,423.3 L371.3,322.9" stroke="#348f28" stroke-width="2.8" fill="none"/>
<path d="M384.2,423.3 L377.7,377.8" stroke="#3d9a2e" stroke-width="2.2" fill="none"/>
<path d="M380.6,423.3 L382.9,408.3" stroke="#3d9a2e" stroke-width="3.0" fill="none"/>
<path d="M384.5,423.3 L388.2,401.2" stroke="#2f8a24" stroke-width="2.4" fill="none"/>
<path d="M383.2,423.3 L384.9,279.7" stroke="#267a1e" stroke-width="2.3" fill="none"/>
<path d="M380.9,423.3 L377.6,344.6" stroke="#267a1e" stroke-width="3.1" fill="none"/>
<path d="M388.1,423.3 L391.3,308.5" stroke="#2a8420" stroke-width="3.3" fill="none"/>
<path d="M382.3,423.3 L384.8,342.3" stroke="#2a8420" stroke-width="3.3" fill="none"/>
<path d="M382.4,423.3 L383.3,392.2" stroke="#267a1e" stroke-width="2.3" fill="none"/>
<path d="M383.8,423.3 L385.9,388.6" stroke="#4aa63a" stroke-width="2.9" fill="none"/>
<path d="M383.3,423.3 L384.8,369.8" stroke="#3d9a2e" stroke-width="3.1" fill="none"/>
<path d="M384.4,423.3 L378.6,353.5" stroke="#267a1e" stroke-width="2.3" fill="none"/>
<path d="M384.6,423.3 L379.8,315.9" stroke="#267a1e" stroke-width="3.0" fill="none"/>
<path d="M383.7,423.3 L390.6,319.8" stroke="#267a1e" stroke-width="2.7" fill="none"/>
<path d="M382.7,423.3 L383.9,330.8" stroke="#4aa63a" stroke-width="2.6" fill="none"/>
<path d="M387.8,423.3 L388.0,374.6" stroke="#2a8420" stroke-width="3.2" fill="none"/>
<path d="M386.7,423.3 L390.7,394.3" stroke="#1f6e1a" stroke-width="2.9" fill="none"/>
<path d="M385.9,423.3 L386.4,339.4" stroke="#2a8420" stroke-width="3.3" fill="none"/>
<path d="M382.2,423.3 L380.2,325.9" stroke="#1f6e1a" stroke-width="3.1" fill="none"/>
<path d="M385.5,423.3 L386.7,297.2" stroke="#267a1e" stroke-width="2.8" fill="none"/>
<path d="M384.4,423.3 L377.4,315.3" stroke="#1f6e1a" stroke-width="2.4" fill="none"/>
<path d="M382.1,423.3 L378.7,295.1" stroke="#267a1e" stroke-width="2.5" fill="none"/>
<path d="M381.0,423.3 L379.4,323.0" stroke="#2f8a24" stroke-width="3.4" fill="none"/>
<path d="M382.7,423.3 L384.9,288.2" stroke="#2f8a24" stroke-width="2.5" fill="none"/>
<path d="M382.1,423.3 L378.0,300.0" stroke="#3d9a2e" stroke-width="4" fill="none"/>
<path d="M384.2,423.3 L385.0,290.0" stroke="#1f6e1a" stroke-width="4" fill="none"/>
<path d="M386.3,423.3 L392.0,300.0" stroke="#2f8a24" stroke-width="4" fill="none"/>
<path d="M380.3,423.3 L372.0,320.0" stroke="#3d9a2e" stroke-width="3" fill="none"/>
<path d="M388.1,423.3 L398.0,320.0" stroke="#2a8420" stroke-width="3" fill="none"/>
<path d="M365.4,294.8 L361.8,284.3 L358.0,274.0 L354.0,263.7 L349.8,253.6 L344.8,243.8 L339.6,234.2 L334.2,224.6 L328.6,215.3 L322.8,206.0 L316.9,196.9 L310.7,187.9 L304.3,179.0 L297.7,170.2 L290.9,161.6 L283.9,153.1 L276.7,144.8 L276.7,144.8 L283.4,153.5 L290.0,162.3 L296.3,171.3 L302.5,180.3 L308.4,189.4 L314.1,198.6 L319.7,207.9 L325.0,217.4 L330.2,226.9 L335.1,236.5 L339.8,246.3 L344.4,256.1 L349.3,265.8 L354.0,275.7 L358.5,285.6 L362.9,295.7Z" fill="#348f28"/>
<path d="M371.6,307.5 L368.7,296.4 L365.6,285.3 L362.3,274.2 L358.8,263.3 L354.5,252.6 L350.1,242.0 L345.4,231.5 L340.6,221.1 L335.7,210.8 L330.5,200.6 L325.2,190.5 L319.6,180.4 L313.9,170.5 L308.0,160.6 L302.0,150.9 L295.7,141.2 L295.7,141.2 L301.4,151.2 L307.0,161.2 L312.4,171.3 L317.7,181.5 L322.7,191.7 L327.6,202.0 L332.3,212.4 L336.8,222.8 L341.2,233.4 L345.4,243.9 L349.3,254.6 L353.2,265.3 L357.4,275.9 L361.4,286.6 L365.3,297.4 L369.0,308.3Z" fill="#2f8a24"/>
<path d="M395.2,312.5 L398.8,299.2 L402.6,286.0 L406.4,272.9 L410.3,259.8 L413.7,246.5 L417.1,233.2 L420.6,220.0 L424.2,206.8 L427.9,193.6 L431.7,180.4 L435.6,167.3 L439.6,154.2 L443.7,141.1 L447.8,128.0 L452.1,114.9 L456.4,101.9 L456.4,101.9 L451.4,114.7 L446.5,127.5 L441.8,140.4 L437.1,153.3 L432.6,166.3 L428.1,179.3 L423.8,192.3 L419.5,205.4 L415.4,218.5 L411.3,231.6 L407.4,244.8 L403.6,258.0 L400.6,271.4 L397.6,284.8 L394.8,298.3 L392.1,311.8Z" fill="#348f28"/>
<path d="M390.3,328.5 L391.1,314.5 L392.0,300.6 L392.9,286.7 L393.8,272.8 L393.9,258.8 L394.1,244.9 L394.2,231.0 L394.4,217.0 L394.6,203.1 L394.7,189.1 L394.9,175.2 L395.1,161.3 L395.2,147.3 L395.4,133.4 L395.6,119.4 L395.7,105.5 L395.7,105.5 L394.8,119.4 L394.0,133.3 L393.2,147.3 L392.5,161.2 L391.7,175.1 L391.0,189.0 L390.2,202.9 L389.5,216.9 L388.8,230.8 L388.1,244.7 L387.4,258.6 L386.8,272.6 L386.8,286.5 L386.9,300.5 L387.0,314.4 L387.1,328.4Z" fill="#2a8420"/>
<path d="M376.0,286.1 L374.7,276.2 L373.5,266.3 L372.2,256.5 L370.9,246.6 L368.8,236.9 L366.7,227.1 L364.5,217.4 L362.3,207.7 L360.1,198.0 L357.8,188.4 L355.5,178.7 L353.2,169.0 L350.8,159.4 L348.3,149.7 L345.9,140.1 L343.3,130.5 L343.3,130.5 L345.1,140.3 L347.0,150.0 L348.8,159.8 L350.6,169.6 L352.4,179.3 L354.1,189.1 L355.9,198.9 L357.5,208.7 L359.2,218.5 L360.8,228.3 L362.4,238.1 L364.0,247.9 L366.3,257.5 L368.5,267.2 L370.7,276.9 L372.9,286.6Z" fill="#348f28"/>
<path d="M385.7,283.1 L385.5,273.5 L385.3,263.8 L385.1,254.1 L384.9,244.5 L383.9,234.9 L382.9,225.3 L381.9,215.6 L380.8,206.0 L379.8,196.4 L378.7,186.8 L377.7,177.2 L376.6,167.6 L375.4,158.1 L374.3,148.5 L373.1,138.9 L371.9,129.3 L371.9,129.3 L372.4,138.9 L372.9,148.6 L373.4,158.2 L374.0,167.9 L374.5,177.5 L375.0,187.1 L375.5,196.8 L376.0,206.4 L376.5,216.1 L377.0,225.7 L377.4,235.3 L377.9,245.0 L379.1,254.6 L380.2,264.2 L381.4,273.7 L382.5,283.3Z" fill="#1f6e1a"/>
<path d="M394.3,298.3 L396.9,287.1 L399.5,275.9 L402.2,264.8 L404.9,253.6 L406.9,242.3 L408.9,231.1 L411.0,219.8 L413.1,208.5 L415.3,197.3 L417.5,186.0 L419.7,174.8 L422.0,163.5 L424.3,152.3 L426.7,141.1 L429.0,129.8 L431.4,118.6 L431.4,118.6 L428.3,129.7 L425.3,140.7 L422.4,151.8 L419.5,162.9 L416.6,174.1 L413.8,185.2 L411.1,196.3 L408.4,207.5 L405.7,218.7 L403.1,229.9 L400.5,241.0 L398.0,252.2 L396.2,263.6 L394.5,275.0 L392.8,286.3 L391.2,297.7Z" fill="#4aa63a"/>
<path d="M394.4,305.8 L397.6,296.3 L400.9,286.9 L404.2,277.5 L407.6,268.2 L410.3,258.6 L413.1,249.1 L415.9,239.5 L418.7,230.0 L421.6,220.5 L424.6,211.0 L427.6,201.5 L430.7,192.1 L433.8,182.6 L436.9,173.2 L440.1,163.7 L443.3,154.3 L443.3,154.3 L439.4,163.5 L435.6,172.7 L431.9,181.9 L428.2,191.2 L424.6,200.5 L421.1,209.8 L417.6,219.1 L414.1,228.5 L410.7,237.9 L407.4,247.3 L404.1,256.7 L400.9,266.1 L398.4,275.8 L396.0,285.5 L393.7,295.2 L391.4,304.9Z" fill="#3d9a2e"/>
<path d="M395.2,339.3 L399.2,329.2 L403.3,319.0 L407.4,308.9 L411.6,298.8 L415.3,288.5 L419.0,278.3 L422.9,268.0 L426.7,257.8 L430.7,247.6 L434.7,237.5 L438.8,227.3 L442.9,217.2 L447.1,207.1 L451.3,197.0 L455.7,187.0 L460.0,176.9 L460.0,176.9 L455.1,186.7 L450.3,196.5 L445.5,206.4 L440.8,216.3 L436.2,226.2 L431.7,236.2 L427.3,246.2 L422.9,256.2 L418.6,266.3 L414.3,276.4 L410.1,286.5 L406.0,296.7 L402.5,307.1 L399.2,317.5 L395.9,328.0 L392.6,338.5Z" fill="#1f6e1a"/>
<path d="M381.3,338.0 L379.1,325.8 L376.8,313.8 L374.4,301.7 L371.8,289.7 L368.4,277.8 L364.9,266.1 L361.3,254.3 L357.5,242.7 L353.7,231.0 L349.7,219.4 L345.6,207.8 L341.3,196.3 L337.0,184.8 L332.5,173.4 L327.9,162.0 L323.1,150.7 L323.1,150.7 L327.2,162.3 L331.2,173.9 L335.1,185.5 L338.9,197.2 L342.5,208.8 L346.1,220.6 L349.6,232.3 L352.9,244.1 L356.1,255.9 L359.2,267.7 L362.2,279.5 L365.0,291.4 L368.5,303.1 L371.9,314.9 L375.1,326.8 L378.2,338.6Z" fill="#348f28"/>
<path d="M372.6,322.3 L369.4,313.7 L366.1,305.0 L362.7,296.4 L359.2,287.9 L355.0,279.7 L350.7,271.5 L346.3,263.4 L341.8,255.4 L337.2,247.4 L332.4,239.5 L327.6,231.7 L322.6,223.9 L317.6,216.2 L312.4,208.6 L307.1,201.1 L301.7,193.6 L301.7,193.6 L306.6,201.4 L311.4,209.3 L316.1,217.2 L320.7,225.1 L325.2,233.1 L329.6,241.1 L333.9,249.2 L338.1,257.4 L342.2,265.6 L346.2,273.8 L350.0,282.1 L353.8,290.4 L358.0,298.6 L362.1,306.8 L366.2,315.0 L370.1,323.4Z" fill="#3d9a2e"/>
<path d="M378.7,377.3 L375.6,368.7 L372.4,360.0 L369.1,351.4 L365.7,342.8 L361.9,334.5 L357.9,326.1 L353.9,317.8 L349.8,309.6 L345.7,301.4 L341.4,293.2 L337.2,285.0 L332.8,276.9 L328.4,268.8 L324.0,260.8 L319.4,252.8 L314.8,244.8 L314.8,244.8 L319.0,253.0 L323.1,261.2 L327.2,269.5 L331.2,277.8 L335.1,286.0 L339.0,294.4 L342.9,302.7 L346.7,311.1 L350.4,319.5 L354.0,327.9 L357.6,336.3 L361.2,344.8 L365.1,353.1 L369.0,361.4 L372.9,369.8 L376.6,378.2Z" fill="#267a1e"/>
<path d="M383.7,407.8 L380.1,401.4 L376.3,395.1 L372.6,388.8 L368.7,382.5 L364.5,376.5 L360.2,370.6 L355.8,364.7 L351.3,358.8 L346.8,353.0 L342.3,347.2 L337.7,341.5 L333.0,335.9 L328.2,330.3 L323.4,324.7 L318.6,319.2 L313.6,313.8 L313.6,313.8 L318.2,319.5 L322.8,325.2 L327.3,331.0 L331.8,336.8 L336.2,342.7 L340.6,348.5 L344.9,354.5 L349.1,360.4 L353.3,366.5 L357.4,372.5 L361.4,378.6 L365.4,384.7 L369.7,390.7 L373.9,396.7 L378.1,402.7 L382.2,408.8Z" fill="#4aa63a"/>
<path d="M389.4,401.6 L392.2,394.4 L395.0,387.2 L397.8,380.0 L400.7,372.8 L403.1,365.4 L405.4,358.1 L407.9,350.7 L410.3,343.4 L412.8,336.1 L415.4,328.8 L417.9,321.5 L420.6,314.2 L423.2,307.0 L425.9,299.7 L428.7,292.5 L431.4,285.2 L431.4,285.2 L428.1,292.2 L424.8,299.2 L421.6,306.3 L418.5,313.4 L415.4,320.5 L412.4,327.6 L409.4,334.8 L406.4,342.0 L403.5,349.2 L400.6,356.4 L397.8,363.6 L395.1,370.8 L392.9,378.3 L390.9,385.8 L388.8,393.3 L386.9,400.8Z" fill="#3d9a2e"/>
<path d="M386.5,279.7 L386.9,270.4 L387.4,261.1 L387.8,251.7 L388.2,242.4 L387.9,233.1 L387.5,223.7 L387.2,214.4 L386.8,205.1 L386.5,195.8 L386.1,186.4 L385.8,177.1 L385.4,167.8 L385.0,158.5 L384.7,149.1 L384.3,139.8 L383.8,130.5 L383.8,130.5 L383.5,139.8 L383.3,149.2 L383.0,158.5 L382.8,167.8 L382.6,177.1 L382.4,186.5 L382.2,195.8 L382.0,205.1 L381.8,214.5 L381.6,223.8 L381.4,233.1 L381.2,242.4 L381.7,251.8 L382.3,261.1 L382.8,270.4 L383.4,279.7Z" fill="#3d9a2e"/>
<path d="M379.2,344.5 L378.7,332.9 L378.2,321.3 L377.7,309.7 L377.2,298.1 L375.9,286.6 L374.6,275.1 L373.2,263.6 L371.9,252.0 L370.5,240.5 L369.1,229.0 L367.6,217.5 L366.2,206.0 L364.7,194.5 L363.2,183.0 L361.6,171.5 L360.0,160.0 L360.0,160.0 L360.9,171.6 L361.8,183.1 L362.7,194.7 L363.6,206.3 L364.5,217.8 L365.3,229.4 L366.2,240.9 L367.0,252.5 L367.8,264.1 L368.6,275.6 L369.4,287.2 L370.2,298.8 L371.7,310.3 L373.2,321.8 L374.6,333.3 L376.1,344.8Z" fill="#348f28"/>
<path d="M392.9,308.6 L394.4,298.8 L395.9,288.9 L397.4,279.0 L399.0,269.2 L399.8,259.2 L400.7,249.3 L401.5,239.4 L402.4,229.4 L403.3,219.5 L404.3,209.6 L405.2,199.7 L406.1,189.7 L407.1,179.8 L408.1,169.9 L409.1,159.9 L410.0,150.0 L410.0,150.0 L408.3,159.8 L406.7,169.7 L405.1,179.5 L403.6,189.4 L402.0,199.3 L400.5,209.1 L399.1,219.0 L397.6,228.9 L396.2,238.8 L394.8,248.6 L393.4,258.5 L392.0,268.4 L391.4,278.4 L390.9,288.4 L390.3,298.3 L389.8,308.3Z" fill="#1f6e1a"/>
<path d="M386.4,342.4 L387.4,333.5 L388.5,324.6 L389.5,315.8 L390.6,306.9 L390.9,298.0 L391.3,289.1 L391.6,280.2 L392.0,271.3 L392.4,262.4 L392.7,253.5 L393.1,244.6 L393.5,235.6 L393.9,226.7 L394.3,217.8 L394.7,208.9 L395.0,200.0 L395.0,200.0 L393.9,208.9 L392.9,217.7 L391.9,226.6 L390.9,235.5 L389.9,244.3 L389.0,253.2 L388.1,262.1 L387.1,270.9 L386.2,279.8 L385.3,288.7 L384.5,297.6 L383.6,306.5 L383.5,315.4 L383.4,324.3 L383.3,333.2 L383.3,342.2Z" fill="#348f28"/>
<path d="M384.7,392.1 L384.3,381.3 L384.0,370.5 L383.7,359.7 L383.3,348.9 L382.3,338.2 L381.3,327.4 L380.3,316.7 L379.2,305.9 L378.1,295.2 L377.0,284.4 L375.9,273.7 L374.8,262.9 L373.6,252.2 L372.5,241.5 L371.3,230.7 L370.0,220.0 L370.0,220.0 L370.6,230.8 L371.3,241.6 L371.9,252.3 L372.6,263.1 L373.2,273.9 L373.8,284.7 L374.4,295.5 L375.0,306.2 L375.6,317.0 L376.2,327.8 L376.8,338.6 L377.3,349.4 L378.5,360.1 L379.7,370.8 L380.8,381.6 L382.0,392.3Z" fill="#348f28"/>
<path d="M387.2,388.8 L389.4,379.6 L391.7,370.3 L394.1,361.1 L396.5,351.8 L398.2,342.5 L400.1,333.1 L401.9,323.8 L403.8,314.5 L405.7,305.1 L407.7,295.8 L409.7,286.5 L411.7,277.2 L413.7,267.9 L415.8,258.6 L417.9,249.3 L420.0,240.0 L420.0,240.0 L417.3,249.1 L414.6,258.3 L412.1,267.5 L409.5,276.7 L407.0,285.9 L404.5,295.1 L402.1,304.3 L399.7,313.5 L397.4,322.8 L395.1,332.0 L392.8,341.3 L390.6,350.6 L389.0,360.0 L387.5,369.4 L386.0,378.9 L384.5,388.3Z" fill="#2a8420"/>
<path d="M386.0,369.6 L385.4,361.3 L384.8,353.0 L384.1,344.7 L383.3,336.4 L381.9,328.1 L380.5,319.9 L379.0,311.7 L377.4,303.5 L375.8,295.4 L374.1,287.2 L372.4,279.1 L370.5,270.9 L368.6,262.8 L366.7,254.7 L364.6,246.6 L362.5,238.6 L362.5,238.6 L364.1,246.8 L365.7,254.9 L367.2,263.1 L368.7,271.3 L370.1,279.5 L371.4,287.7 L372.7,295.9 L374.0,304.1 L375.1,312.3 L376.2,320.6 L377.3,328.8 L378.3,337.0 L379.7,345.2 L381.1,353.4 L382.4,361.6 L383.7,369.9Z" fill="#348f28"/>
<path d="M379.9,353.3 L378.2,342.8 L376.3,332.3 L374.3,321.9 L372.3,311.5 L369.5,301.3 L366.6,291.1 L363.6,280.9 L360.5,270.8 L357.3,260.7 L354.1,250.6 L350.7,240.5 L347.2,230.5 L343.6,220.6 L339.9,210.6 L336.1,200.8 L332.2,190.9 L332.2,190.9 L335.5,201.0 L338.8,211.0 L342.0,221.1 L345.1,231.2 L348.1,241.4 L351.0,251.5 L353.8,261.7 L356.5,271.9 L359.1,282.1 L361.6,292.4 L364.1,302.6 L366.4,312.9 L369.3,323.1 L372.0,333.3 L374.7,343.5 L377.3,353.8Z" fill="#267a1e"/>
<path d="M381.2,315.8 L380.6,307.3 L380.0,298.8 L379.4,290.3 L378.7,281.8 L377.3,273.4 L375.9,265.0 L374.4,256.6 L372.9,248.2 L371.4,239.9 L369.8,231.5 L368.2,223.2 L366.6,214.8 L364.9,206.5 L363.1,198.1 L361.3,189.8 L359.5,181.5 L359.5,181.5 L360.7,189.9 L361.9,198.4 L363.1,206.8 L364.3,215.2 L365.4,223.6 L366.5,232.0 L367.6,240.5 L368.6,248.9 L369.6,257.3 L370.6,265.8 L371.5,274.2 L372.5,282.6 L374.0,291.0 L375.5,299.3 L377.0,307.7 L378.4,316.1Z" fill="#1f6e1a"/>
<path d="M392.1,320.1 L393.8,312.5 L395.5,304.9 L397.1,297.3 L398.8,289.8 L399.7,282.1 L400.6,274.4 L401.5,266.7 L402.4,259.0 L403.2,251.3 L404.1,243.6 L404.9,235.9 L405.7,228.2 L406.6,220.5 L407.3,212.8 L408.1,205.1 L408.8,197.3 L408.8,197.3 L407.4,205.0 L406.0,212.6 L404.6,220.2 L403.2,227.8 L401.8,235.4 L400.4,243.0 L399.0,250.7 L397.6,258.3 L396.2,265.9 L394.8,273.5 L393.4,281.1 L391.9,288.7 L391.2,296.4 L390.5,304.1 L389.8,311.8 L389.0,319.6Z" fill="#2a8420"/>
<path d="M385.1,330.7 L384.3,319.0 L383.5,307.3 L382.8,295.7 L382.0,284.0 L380.7,272.4 L379.4,260.7 L378.1,249.1 L376.9,237.5 L375.6,225.9 L374.3,214.2 L373.1,202.6 L371.9,191.0 L370.6,179.3 L369.4,167.7 L368.2,156.1 L366.9,144.4 L366.9,144.4 L367.6,156.1 L368.3,167.8 L369.1,179.5 L369.9,191.1 L370.7,202.8 L371.5,214.5 L372.3,226.2 L373.1,237.8 L374.0,249.5 L374.9,261.2 L375.8,272.8 L376.7,284.5 L378.1,296.1 L379.6,307.7 L381.2,319.3 L382.7,330.9Z" fill="#267a1e"/>
<path d="M389.5,375.0 L392.3,365.7 L395.3,356.4 L398.2,347.1 L401.3,337.9 L403.8,328.5 L406.3,319.2 L408.9,309.8 L411.6,300.5 L414.3,291.2 L417.2,281.9 L420.1,272.7 L423.1,263.4 L426.2,254.2 L429.3,245.0 L432.6,235.8 L435.8,226.6 L435.8,226.6 L431.9,235.5 L428.0,244.5 L424.3,253.5 L420.7,262.5 L417.1,271.6 L413.6,280.7 L410.2,289.8 L406.9,299.0 L403.7,308.2 L400.6,317.5 L397.6,326.7 L394.6,336.0 L392.4,345.6 L390.4,355.1 L388.4,364.7 L386.5,374.2Z" fill="#348f28"/>
<path d="M392.1,394.7 L395.3,385.1 L398.6,375.6 L402.0,366.2 L405.5,356.8 L408.4,347.2 L411.5,337.6 L414.7,328.1 L418.0,318.6 L421.3,309.2 L424.8,299.8 L428.4,290.4 L432.1,281.0 L435.9,271.7 L439.8,262.4 L443.8,253.2 L447.8,243.9 L447.8,243.9 L443.2,252.9 L438.7,261.9 L434.3,271.0 L430.0,280.1 L425.8,289.3 L421.7,298.5 L417.8,307.8 L413.9,317.1 L410.2,326.4 L406.5,335.9 L403.0,345.3 L399.5,354.8 L396.8,364.5 L394.2,374.3 L391.7,384.1 L389.3,393.9Z" fill="#267a1e"/>
<path d="M387.8,339.7 L390.6,329.6 L393.4,319.5 L396.4,309.4 L399.4,299.4 L401.9,289.2 L404.5,279.1 L407.2,269.0 L410.0,258.9 L412.9,248.8 L415.9,238.8 L418.9,228.7 L422.1,218.7 L425.3,208.7 L428.7,198.8 L432.1,188.8 L435.6,178.9 L435.6,178.9 L431.5,188.6 L427.5,198.4 L423.6,208.1 L419.9,218.0 L416.2,227.8 L412.6,237.7 L409.2,247.6 L405.8,257.6 L402.5,267.6 L399.4,277.6 L396.3,287.7 L393.3,297.8 L391.1,308.1 L389.0,318.4 L386.9,328.7 L385.0,339.1Z" fill="#267a1e"/>
<path d="M381.6,325.9 L382.1,317.5 L382.5,309.0 L382.9,300.5 L383.2,292.1 L382.9,283.6 L382.5,275.2 L382.0,266.7 L381.5,258.3 L381.0,249.9 L380.4,241.4 L379.7,233.0 L379.1,224.6 L378.3,216.2 L377.5,207.8 L376.7,199.4 L375.7,191.0 L375.7,191.0 L376.0,199.4 L376.3,207.8 L376.5,216.3 L376.7,224.7 L376.9,233.1 L377.1,241.6 L377.2,250.0 L377.2,258.4 L377.2,266.9 L377.2,275.3 L377.2,283.7 L377.0,292.2 L377.6,300.6 L378.0,309.0 L378.4,317.4 L378.8,325.9Z" fill="#4aa63a"/>
<path d="M387.9,297.3 L389.5,286.1 L391.1,274.8 L392.8,263.6 L394.5,252.3 L395.7,241.0 L397.0,229.8 L398.3,218.5 L399.8,207.2 L401.2,195.9 L402.8,184.7 L404.3,173.4 L406.0,162.2 L407.7,150.9 L409.5,139.7 L411.3,128.5 L413.1,117.2 L413.1,117.2 L410.7,128.4 L408.4,139.5 L406.1,150.7 L404.0,161.8 L401.9,173.0 L399.8,184.2 L397.9,195.4 L396.0,206.6 L394.1,217.9 L392.3,229.1 L390.6,240.4 L389.0,251.7 L388.0,263.0 L387.1,274.4 L386.2,285.7 L385.4,297.1Z" fill="#1f6e1a"/>
<path d="M378.9,314.9 L376.7,305.5 L374.4,296.1 L372.2,286.7 L369.8,277.3 L366.7,268.1 L363.6,259.0 L360.5,249.8 L357.3,240.7 L354.1,231.6 L350.8,222.5 L347.5,213.4 L344.2,204.4 L340.8,195.3 L337.4,186.3 L334.0,177.3 L330.4,168.3 L330.4,168.3 L333.3,177.5 L336.1,186.7 L338.9,196.0 L341.8,205.2 L344.5,214.4 L347.3,223.7 L350.0,232.9 L352.7,242.2 L355.4,251.5 L358.0,260.7 L360.6,270.0 L363.1,279.3 L366.4,288.4 L369.6,297.5 L372.8,306.6 L375.9,315.8Z" fill="#348f28"/>
<path d="M379.9,295.0 L380.1,283.8 L380.2,272.5 L380.2,261.3 L380.2,250.0 L379.6,238.8 L378.9,227.5 L378.2,216.3 L377.4,205.1 L376.5,193.9 L375.6,182.7 L374.6,171.5 L373.6,160.3 L372.5,149.1 L371.3,137.9 L370.1,126.7 L368.8,115.5 L368.8,115.5 L369.6,126.7 L370.3,138.0 L370.9,149.2 L371.6,160.4 L372.1,171.6 L372.7,182.8 L373.2,194.1 L373.6,205.3 L374.0,216.5 L374.3,227.7 L374.6,239.0 L374.8,250.2 L375.5,261.4 L376.2,272.6 L376.9,283.8 L377.5,295.1Z" fill="#2a8420"/>
<path d="M380.6,322.8 L379.2,312.8 L377.8,302.8 L376.4,292.8 L375.0,282.8 L373.0,272.8 L371.1,262.9 L369.1,253.0 L367.2,243.1 L365.3,233.2 L363.4,223.2 L361.4,213.3 L359.5,203.4 L357.7,193.4 L355.8,183.5 L353.9,173.6 L352.0,163.7 L352.0,163.7 L353.3,173.7 L354.7,183.7 L356.1,193.7 L357.5,203.7 L359.0,213.7 L360.4,223.7 L361.9,233.7 L363.4,243.7 L364.9,253.7 L366.4,263.7 L368.0,273.7 L369.5,283.7 L371.6,293.6 L373.8,303.5 L376.0,313.4 L378.2,323.3Z" fill="#2f8a24"/>
<path d="M386.1,288.4 L387.9,279.8 L389.7,271.2 L391.5,262.6 L393.4,254.0 L394.7,245.3 L396.0,236.6 L397.2,227.9 L398.5,219.2 L399.8,210.5 L401.1,201.9 L402.4,193.2 L403.7,184.5 L405.0,175.8 L406.2,167.1 L407.5,158.4 L408.7,149.7 L408.7,149.7 L406.9,158.3 L405.2,166.9 L403.5,175.5 L401.8,184.1 L400.1,192.8 L398.4,201.4 L396.7,210.0 L395.0,218.6 L393.3,227.2 L391.6,235.9 L389.9,244.5 L388.3,253.1 L387.1,261.8 L386.0,270.5 L384.9,279.2 L383.8,288.0Z" fill="#4aa63a"/>
</g>
<g clip-path="url(#cpa)">
<path d="M570.0,423.0 L562.0,380.0 L550.0,330.0 L542.0,280.0 L545.0,230.0 L560.0,195.0 L582.0,180.0 L604.0,195.0 L618.0,230.0 L620.0,280.0 L610.0,330.0 L598.0,380.0 L590.0,423.0Z" fill="#1f541a" opacity="0.75" filter="url(#blur6)"/>
<path d="M571.1,422.1 L567.2,334.1 L580.2,312.1 L593.2,334.1 L589.3,422.1 Z" fill="#1d4f16"/>
<path d="M578.9,422.1 L572.6,314.3" stroke="#3d9a2e" stroke-width="3.2" fill="none"/>
<path d="M583.1,422.1 L580.3,321.5" stroke="#3d9a2e" stroke-width="2.4" fill="none"/>
<path d="M577.2,422.1 L580.0,296.2" stroke="#267a1e" stroke-width="2.3" fill="none"/>
<path d="M580.9,422.1 L584.2,350.0" stroke="#2a8420" stroke-width="2.9" fill="none"/>
<path d="M583.8,422.1 L587.1,323.5" stroke="#3d9a2e" stroke-width="2.6" fill="none"/>
<path d="M582.4,422.1 L581.1,379.2" stroke="#4aa63a" stroke-width="3.2" fill="none"/>
<path d="M579.2,422.1 L585.0,397.6" stroke="#2f8a24" stroke-width="2.8" fill="none"/>
<path d="M576.7,422.1 L571.1,386.3" stroke="#3d9a2e" stroke-width="2.4" fill="none"/>
<path d="M577.8,422.1 L575.0,404.2" stroke="#3d9a2e" stroke-width="2.2" fill="none"/>
<path d="M578.8,422.1 L577.3,379.3" stroke="#4aa63a" stroke-width="3.0" fill="none"/>
<path d="M577.8,422.1 L574.1,334.8" stroke="#3d9a2e" stroke-width="2.2" fill="none"/>
<path d="M577.8,422.1 L580.9,324.1" stroke="#2a8420" stroke-width="2.5" fill="none"/>
<path d="M580.6,422.1 L576.5,390.5" stroke="#1f6e1a" stroke-width="2.6" fill="none"/>
<path d="M579.5,422.1 L582.3,328.2" stroke="#1f6e1a" stroke-width="2.3" fill="none"/>
<path d="M583.2,422.1 L585.4,350.2" stroke="#2f8a24" stroke-width="2.6" fill="none"/>
<path d="M577.9,422.1 L577.0,381.0" stroke="#2a8420" stroke-width="3.1" fill="none"/>
<path d="M581.8,422.1 L583.8,388.2" stroke="#4aa63a" stroke-width="3.0" fill="none"/>
<path d="M581.9,422.1 L576.9,346.0" stroke="#2a8420" stroke-width="3.2" fill="none"/>
<path d="M576.6,422.1 L576.0,295.6" stroke="#2f8a24" stroke-width="3.3" fill="none"/>
<path d="M581.3,422.1 L574.7,373.5" stroke="#3d9a2e" stroke-width="3.1" fill="none"/>
<path d="M581.5,422.1 L576.2,339.3" stroke="#4aa63a" stroke-width="2.8" fill="none"/>
<path d="M581.7,422.1 L576.8,378.5" stroke="#348f28" stroke-width="2.2" fill="none"/>
<path d="M580.2,422.1 L571.7,316.8" stroke="#267a1e" stroke-width="3.2" fill="none"/>
<path d="M580.7,422.1 L576.4,387.2" stroke="#1f6e1a" stroke-width="2.5" fill="none"/>
<path d="M584.3,422.1 L586.5,386.9" stroke="#3d9a2e" stroke-width="2.6" fill="none"/>
<path d="M581.2,422.1 L577.9,291.3" stroke="#2a8420" stroke-width="2.8" fill="none"/>
<path d="M579.7,422.1 L580.7,378.4" stroke="#348f28" stroke-width="2.5" fill="none"/>
<path d="M579.5,422.1 L586.6,350.4" stroke="#2a8420" stroke-width="2.8" fill="none"/>
<path d="M580.7,422.1 L580.8,307.8" stroke="#348f28" stroke-width="3.4" fill="none"/>
<path d="M578.6,422.1 L575.0,300.0" stroke="#2a8420" stroke-width="4" fill="none"/>
<path d="M580.7,422.1 L582.0,290.0" stroke="#2a8420" stroke-width="4" fill="none"/>
<path d="M582.8,422.1 L589.0,300.0" stroke="#267a1e" stroke-width="4" fill="none"/>
<path d="M577.1,422.1 L570.0,320.0" stroke="#1f6e1a" stroke-width="3" fill="none"/>
<path d="M584.3,422.1 L594.0,320.0" stroke="#2a8420" stroke-width="3" fill="none"/>
<path d="M574.2,314.2 L573.2,301.3 L572.2,288.5 L571.1,275.7 L570.0,262.9 L568.1,250.2 L566.0,237.5 L564.0,224.9 L561.8,212.2 L559.6,199.5 L557.3,186.9 L555.0,174.3 L552.6,161.7 L550.1,149.1 L547.5,136.5 L544.9,123.9 L542.1,111.4 L542.1,111.4 L544.1,124.1 L546.1,136.8 L548.1,149.4 L550.0,162.1 L551.8,174.8 L553.6,187.5 L555.4,200.2 L557.0,212.9 L558.6,225.6 L560.2,238.4 L561.6,251.1 L563.1,263.8 L565.1,276.5 L567.2,289.1 L569.1,301.8 L571.0,314.5Z" fill="#348f28"/>
<path d="M581.9,321.4 L581.9,308.9 L581.9,296.5 L581.9,284.0 L581.9,271.5 L581.2,259.0 L580.4,246.6 L579.6,234.1 L578.8,221.7 L578.0,209.2 L577.2,196.8 L576.4,184.3 L575.5,171.9 L574.7,159.4 L573.8,147.0 L572.9,134.5 L571.9,122.1 L571.9,122.1 L572.1,134.6 L572.4,147.0 L572.7,159.5 L572.9,172.0 L573.2,184.5 L573.5,196.9 L573.7,209.4 L574.0,221.9 L574.2,234.4 L574.5,246.8 L574.7,259.3 L574.9,271.8 L575.9,284.2 L576.9,296.6 L577.8,309.1 L578.7,321.5Z" fill="#2a8420"/>
<path d="M581.6,296.3 L583.1,286.1 L584.6,275.8 L586.2,265.6 L587.8,255.4 L588.7,245.1 L589.6,234.7 L590.5,224.4 L591.4,214.1 L592.3,203.8 L593.3,193.5 L594.3,183.2 L595.3,172.9 L596.3,162.6 L597.3,152.3 L598.3,142.0 L599.3,131.7 L599.3,131.7 L597.6,141.9 L595.9,152.1 L594.3,162.4 L592.7,172.6 L591.1,182.8 L589.6,193.1 L588.1,203.3 L586.6,213.6 L585.1,223.8 L583.7,234.1 L582.2,244.3 L580.8,254.6 L580.2,265.0 L579.6,275.3 L579.0,285.6 L578.4,296.0Z" fill="#3d9a2e"/>
<path d="M585.8,350.3 L588.0,339.5 L590.3,328.8 L592.7,318.2 L595.0,307.5 L596.7,296.7 L598.4,285.9 L600.1,275.1 L601.9,264.3 L603.7,253.5 L605.5,242.7 L607.4,231.9 L609.3,221.2 L611.2,210.4 L613.2,199.6 L615.1,188.9 L617.1,178.1 L617.1,178.1 L614.4,188.7 L611.8,199.3 L609.3,210.0 L606.8,220.7 L604.3,231.3 L601.9,242.0 L599.5,252.7 L597.1,263.4 L594.8,274.1 L592.6,284.8 L590.3,295.5 L588.1,306.3 L586.7,317.1 L585.3,328.0 L584.0,338.9 L582.7,349.7Z" fill="#3d9a2e"/>
<path d="M588.6,323.9 L591.7,315.0 L594.9,306.1 L598.0,297.2 L601.3,288.4 L603.8,279.3 L606.4,270.3 L609.1,261.2 L611.8,252.2 L614.5,243.2 L617.3,234.2 L620.2,225.3 L623.1,216.3 L626.0,207.3 L629.0,198.4 L632.0,189.4 L635.0,180.5 L635.0,180.5 L631.3,189.2 L627.7,197.9 L624.1,206.6 L620.6,215.4 L617.2,224.2 L613.8,233.0 L610.5,241.8 L607.2,250.7 L603.9,259.6 L600.8,268.4 L597.6,277.4 L594.6,286.3 L592.3,295.5 L590.0,304.6 L587.8,313.8 L585.6,323.0Z" fill="#2f8a24"/>
<path d="M582.4,379.7 L585.8,371.2 L589.4,362.7 L593.0,354.3 L596.6,345.8 L599.7,337.2 L602.9,328.6 L606.1,320.0 L609.3,311.5 L612.7,302.9 L616.1,294.4 L619.5,285.9 L623.0,277.4 L626.5,268.9 L630.1,260.5 L633.7,252.0 L637.4,243.6 L637.4,243.6 L633.2,251.8 L629.0,260.0 L624.9,268.2 L620.9,276.5 L617.0,284.8 L613.1,293.1 L609.3,301.5 L605.5,309.9 L601.8,318.3 L598.1,326.7 L594.5,335.2 L591.0,343.7 L588.1,352.4 L585.3,361.2 L582.5,370.0 L579.8,378.8Z" fill="#3d9a2e"/>
<path d="M586.2,398.1 L589.5,390.9 L592.9,383.8 L596.4,376.6 L599.8,369.5 L602.8,362.2 L605.8,354.9 L608.9,347.6 L612.0,340.3 L615.1,333.1 L618.3,325.9 L621.6,318.7 L624.9,311.5 L628.3,304.3 L631.7,297.2 L635.1,290.0 L638.6,282.9 L638.6,282.9 L634.6,289.7 L630.6,296.6 L626.7,303.5 L622.9,310.5 L619.2,317.5 L615.4,324.5 L611.8,331.5 L608.2,338.6 L604.6,345.7 L601.2,352.8 L597.7,360.0 L594.3,367.2 L591.6,374.6 L588.9,382.1 L586.3,389.6 L583.7,397.1Z" fill="#348f28"/>
<path d="M572.3,385.7 L568.6,377.0 L564.7,368.3 L560.7,359.7 L556.6,351.2 L551.8,343.1 L546.8,335.1 L541.7,327.2 L536.5,319.3 L531.1,311.6 L525.6,304.0 L520.0,296.4 L514.2,289.0 L508.3,281.6 L502.3,274.4 L496.1,267.2 L489.8,260.2 L489.8,260.2 L495.6,267.6 L501.4,275.1 L507.0,282.7 L512.4,290.3 L517.8,298.0 L523.0,305.8 L528.0,313.7 L533.0,321.6 L537.8,329.6 L542.4,337.7 L547.0,345.9 L551.3,354.1 L556.2,362.2 L560.9,370.3 L565.4,378.5 L569.9,386.8Z" fill="#348f28"/>
<path d="M576.2,403.6 L573.2,396.6 L570.0,389.7 L566.8,382.9 L563.5,376.0 L559.6,369.6 L555.5,363.2 L551.4,356.9 L547.2,350.6 L542.8,344.5 L538.4,338.3 L533.9,332.3 L529.3,326.3 L524.7,320.4 L519.9,314.5 L515.0,308.8 L510.0,303.1 L510.0,303.1 L514.5,309.2 L518.9,315.3 L523.3,321.4 L527.5,327.6 L531.7,333.9 L535.8,340.2 L539.8,346.5 L543.7,352.9 L547.5,359.3 L551.2,365.8 L554.8,372.4 L558.3,379.0 L562.3,385.3 L566.2,391.7 L570.0,398.2 L573.8,404.8Z" fill="#348f28"/>
<path d="M578.6,378.9 L576.1,369.4 L573.6,359.9 L571.1,350.5 L568.5,341.0 L565.2,331.8 L561.9,322.6 L558.5,313.4 L555.1,304.2 L551.6,295.1 L548.0,285.9 L544.4,276.8 L540.8,267.8 L537.1,258.7 L533.3,249.7 L529.4,240.7 L525.5,231.7 L525.5,231.7 L528.8,240.9 L532.2,250.1 L535.4,259.3 L538.7,268.5 L541.9,277.8 L545.0,287.0 L548.1,296.3 L551.1,305.6 L554.1,314.9 L557.1,324.2 L559.9,333.5 L562.8,342.9 L566.2,352.1 L569.5,361.2 L572.8,370.5 L576.0,379.7Z" fill="#3d9a2e"/>
<path d="M575.6,334.5 L574.7,325.2 L573.7,315.9 L572.7,306.6 L571.7,297.3 L569.9,288.1 L568.1,278.9 L566.3,269.8 L564.4,260.6 L562.5,251.5 L560.5,242.3 L558.6,233.2 L556.5,224.0 L554.5,214.9 L552.4,205.8 L550.3,196.7 L548.1,187.6 L548.1,187.6 L549.6,196.8 L551.1,206.1 L552.5,215.3 L554.0,224.5 L555.4,233.7 L556.8,243.0 L558.2,252.2 L559.6,261.5 L560.9,270.7 L562.2,279.9 L563.5,289.2 L564.8,298.4 L566.8,307.6 L568.7,316.7 L570.6,325.9 L572.5,335.0Z" fill="#3d9a2e"/>
<path d="M582.5,323.9 L582.0,315.6 L581.4,307.2 L580.9,298.9 L580.3,290.6 L578.9,282.4 L577.5,274.2 L576.1,266.0 L574.7,257.8 L573.3,249.6 L571.8,241.4 L570.3,233.2 L568.8,225.1 L567.3,216.9 L565.7,208.7 L564.1,200.5 L562.4,192.4 L562.4,192.4 L563.3,200.7 L564.3,208.9 L565.3,217.2 L566.2,225.4 L567.2,233.7 L568.1,242.0 L569.0,250.2 L569.9,258.5 L570.8,266.7 L571.6,275.0 L572.5,283.3 L573.3,291.5 L574.9,299.7 L576.4,307.9 L577.9,316.1 L579.4,324.2Z" fill="#1f6e1a"/>
<path d="M577.8,390.3 L576.0,379.4 L574.2,368.5 L572.3,357.6 L570.4,346.7 L567.8,335.9 L565.2,325.2 L562.5,314.5 L559.8,303.8 L557.0,293.1 L554.2,282.4 L551.3,271.7 L548.4,261.1 L545.4,250.4 L542.4,239.8 L539.4,229.2 L536.2,218.6 L536.2,218.6 L538.7,229.4 L541.3,240.1 L543.8,250.9 L546.2,261.6 L548.7,272.4 L551.0,283.2 L553.4,293.9 L555.7,304.7 L558.0,315.5 L560.2,326.3 L562.4,337.1 L564.5,347.9 L567.3,358.6 L569.9,369.3 L572.6,380.1 L575.2,390.8Z" fill="#2f8a24"/>
<path d="M583.9,328.2 L584.5,318.3 L585.1,308.5 L585.8,298.6 L586.4,288.7 L586.3,278.8 L586.2,268.9 L586.1,259.0 L586.0,249.1 L585.9,239.2 L585.8,229.4 L585.7,219.5 L585.6,209.6 L585.4,199.7 L585.3,189.8 L585.2,179.9 L585.0,170.0 L585.0,170.0 L584.4,179.9 L583.9,189.8 L583.4,199.6 L582.9,209.5 L582.5,219.4 L582.0,229.3 L581.6,239.2 L581.1,249.1 L580.7,258.9 L580.2,268.8 L579.8,278.7 L579.4,288.6 L579.7,298.5 L580.0,308.4 L580.4,318.3 L580.7,328.2Z" fill="#348f28"/>
<path d="M587.0,350.4 L588.5,341.1 L590.1,331.7 L591.6,322.4 L593.3,313.0 L594.1,303.6 L595.0,294.2 L596.0,284.8 L596.9,275.3 L597.9,265.9 L598.9,256.5 L599.9,247.1 L600.9,237.7 L601.9,228.3 L602.9,218.8 L604.0,209.4 L605.0,200.0 L605.0,200.0 L603.2,209.3 L601.6,218.6 L599.9,228.0 L598.3,237.3 L596.7,246.7 L595.1,256.0 L593.6,265.4 L592.1,274.7 L590.6,284.1 L589.2,293.4 L587.7,302.8 L586.3,312.2 L585.7,321.7 L585.0,331.1 L584.4,340.6 L583.8,350.1Z" fill="#2f8a24"/>
<path d="M578.4,380.9 L578.4,372.1 L578.4,363.3 L578.5,354.4 L578.5,345.6 L577.8,336.8 L577.2,328.0 L576.5,319.2 L575.8,310.4 L575.2,301.6 L574.5,292.8 L573.8,284.0 L573.1,275.2 L572.3,266.4 L571.6,257.6 L570.8,248.8 L570.0,240.0 L570.0,240.0 L570.2,248.8 L570.4,257.7 L570.6,266.5 L570.8,275.3 L571.0,284.1 L571.3,292.9 L571.5,301.8 L571.7,310.6 L571.9,319.4 L572.1,328.2 L572.3,337.1 L572.5,345.9 L573.3,354.7 L574.1,363.5 L574.9,372.3 L575.7,381.1Z" fill="#1f6e1a"/>
<path d="M585.1,388.3 L586.1,379.7 L587.2,371.1 L588.2,362.5 L589.3,353.9 L589.7,345.2 L590.2,336.6 L590.6,327.9 L591.1,319.3 L591.5,310.6 L592.0,301.9 L592.5,293.3 L593.0,284.6 L593.5,276.0 L594.0,267.3 L594.5,258.7 L595.0,250.0 L595.0,250.0 L593.9,258.6 L592.8,267.2 L591.8,275.8 L590.8,284.4 L589.8,293.1 L588.8,301.7 L587.9,310.3 L586.9,318.9 L586.0,327.5 L585.1,336.2 L584.2,344.8 L583.3,353.4 L583.1,362.1 L582.8,370.8 L582.6,379.5 L582.4,388.1Z" fill="#4aa63a"/>
<path d="M578.2,346.0 L578.3,336.3 L578.4,326.7 L578.5,317.1 L578.6,307.4 L578.1,297.8 L577.5,288.2 L576.9,278.6 L576.4,269.0 L575.8,259.4 L575.2,249.7 L574.6,240.1 L574.0,230.5 L573.3,220.9 L572.7,211.3 L572.0,201.7 L571.3,192.1 L571.3,192.1 L571.4,201.7 L571.5,211.3 L571.7,221.0 L571.8,230.6 L572.0,240.2 L572.1,249.9 L572.3,259.5 L572.4,269.1 L572.5,278.7 L572.6,288.4 L572.7,298.0 L572.9,307.6 L573.6,317.2 L574.3,326.8 L575.0,336.4 L575.6,346.1Z" fill="#4aa63a"/>
<path d="M577.5,295.5 L577.2,285.7 L576.9,275.9 L576.5,266.1 L576.2,256.3 L575.2,246.5 L574.1,236.8 L573.1,227.0 L572.0,217.3 L571.0,207.5 L570.0,197.8 L569.0,188.1 L567.9,178.3 L566.9,168.6 L565.9,158.8 L564.9,149.1 L563.8,139.3 L563.8,139.3 L564.1,149.1 L564.5,158.9 L564.9,168.7 L565.4,178.5 L565.8,188.3 L566.3,198.1 L566.8,207.9 L567.2,217.7 L567.7,227.5 L568.2,237.2 L568.8,247.0 L569.3,256.8 L570.6,266.6 L571.8,276.3 L573.1,286.0 L574.4,295.7Z" fill="#2f8a24"/>
<path d="M576.2,373.3 L575.0,362.6 L573.8,352.0 L572.5,341.3 L571.2,330.7 L569.1,320.2 L566.9,309.7 L564.7,299.2 L562.5,288.8 L560.2,278.3 L557.9,267.9 L555.5,257.4 L553.0,247.0 L550.5,236.6 L547.9,226.2 L545.3,215.9 L542.6,205.5 L542.6,205.5 L544.6,216.0 L546.6,226.5 L548.6,237.0 L550.6,247.5 L552.5,258.1 L554.3,268.6 L556.1,279.1 L557.9,289.7 L559.6,300.2 L561.3,310.7 L563.0,321.3 L564.5,331.9 L566.8,342.3 L569.0,352.8 L571.1,363.2 L573.2,373.7Z" fill="#4aa63a"/>
<path d="M577.5,339.2 L576.4,328.6 L575.2,318.0 L574.1,307.4 L573.0,296.7 L571.2,286.2 L569.4,275.7 L567.7,265.2 L565.9,254.7 L564.1,244.2 L562.4,233.7 L560.6,223.2 L558.8,212.7 L557.0,202.2 L555.3,191.7 L553.4,181.2 L551.6,170.7 L551.6,170.7 L552.8,181.2 L554.1,191.8 L555.4,202.4 L556.7,213.0 L558.0,223.6 L559.3,234.1 L560.6,244.7 L561.9,255.3 L563.2,265.9 L564.6,276.4 L565.9,287.0 L567.2,297.6 L569.1,308.1 L571.1,318.6 L573.0,329.0 L574.9,339.5Z" fill="#2a8420"/>
<path d="M578.3,378.6 L578.8,372.0 L579.3,365.4 L579.8,358.8 L580.2,352.1 L579.9,345.5 L579.6,338.9 L579.2,332.3 L578.8,325.8 L578.4,319.2 L578.0,312.6 L577.5,306.0 L577.0,299.4 L576.5,292.8 L575.9,286.2 L575.3,279.7 L574.6,273.1 L574.6,273.1 L574.6,279.7 L574.5,286.3 L574.5,292.9 L574.5,299.5 L574.4,306.1 L574.4,312.7 L574.3,319.3 L574.2,325.8 L574.0,332.4 L573.9,339.0 L573.7,345.6 L573.5,352.2 L574.0,358.8 L574.4,365.3 L574.9,371.9 L575.3,378.5Z" fill="#4aa63a"/>
<path d="M573.2,316.5 L571.7,305.0 L570.1,293.4 L568.5,281.9 L566.8,270.3 L564.3,258.9 L561.7,247.6 L559.1,236.2 L556.4,224.9 L553.6,213.5 L550.8,202.2 L547.9,191.0 L544.9,179.7 L541.8,168.4 L538.7,157.2 L535.5,146.0 L532.2,134.8 L532.2,134.8 L534.8,146.2 L537.4,157.5 L539.9,168.9 L542.4,180.3 L544.9,191.7 L547.2,203.0 L549.5,214.4 L551.8,225.9 L554.0,237.3 L556.1,248.7 L558.1,260.2 L560.1,271.6 L562.7,282.9 L565.3,294.3 L567.8,305.7 L570.2,317.1Z" fill="#4aa63a"/>
<path d="M577.7,387.1 L577.8,376.5 L577.9,366.0 L578.1,355.4 L578.3,344.8 L577.9,334.3 L577.6,323.7 L577.4,313.2 L577.2,302.6 L577.0,292.1 L576.9,281.5 L576.9,270.9 L576.9,260.4 L576.9,249.8 L577.0,239.2 L577.2,228.7 L577.3,218.1 L577.3,218.1 L576.6,228.6 L575.9,239.2 L575.3,249.7 L574.7,260.3 L574.3,270.9 L573.8,281.4 L573.5,292.0 L573.2,302.6 L572.9,313.2 L572.7,323.8 L572.6,334.3 L572.5,344.9 L573.1,355.5 L573.7,366.1 L574.4,376.6 L575.1,387.2Z" fill="#267a1e"/>
<path d="M588.0,387.3 L590.7,379.1 L593.3,370.9 L596.0,362.7 L598.7,354.5 L600.7,346.1 L602.7,337.7 L604.6,329.3 L606.6,320.9 L608.6,312.6 L610.6,304.2 L612.7,295.8 L614.7,287.4 L616.7,279.0 L618.7,270.6 L620.7,262.2 L622.7,253.8 L622.7,253.8 L620.0,262.0 L617.4,270.3 L614.8,278.5 L612.2,286.7 L609.6,294.9 L607.1,303.2 L604.5,311.4 L602.0,319.7 L599.5,327.9 L597.0,336.2 L594.5,344.4 L592.0,352.7 L590.2,361.2 L588.5,369.6 L586.7,378.1 L585.0,386.5Z" fill="#267a1e"/>
<path d="M579.2,291.1 L578.1,282.0 L577.0,272.8 L576.0,263.7 L574.9,254.6 L573.2,245.6 L571.6,236.6 L569.9,227.5 L568.2,218.5 L566.5,209.5 L564.9,200.5 L563.2,191.5 L561.6,182.4 L559.9,173.4 L558.2,164.4 L556.6,155.4 L554.8,146.4 L554.8,146.4 L555.9,155.5 L557.0,164.6 L558.2,173.7 L559.3,182.8 L560.5,191.9 L561.7,201.0 L562.9,210.1 L564.1,219.2 L565.3,228.3 L566.5,237.4 L567.7,246.5 L569.0,255.6 L570.8,264.6 L572.7,273.5 L574.6,282.5 L576.5,291.5Z" fill="#267a1e"/>
<path d="M582.1,378.6 L583.6,372.0 L585.0,365.3 L586.6,358.7 L588.1,352.1 L588.9,345.3 L589.8,338.6 L590.6,331.9 L591.5,325.1 L592.3,318.4 L593.2,311.7 L594.0,304.9 L594.9,298.2 L595.7,291.5 L596.6,284.7 L597.4,278.0 L598.2,271.2 L598.2,271.2 L596.7,277.9 L595.3,284.5 L593.9,291.2 L592.6,297.8 L591.2,304.5 L589.8,311.1 L588.5,317.8 L587.1,324.4 L585.8,331.1 L584.5,337.8 L583.2,344.4 L581.8,351.1 L581.2,357.8 L580.5,364.6 L579.9,371.4 L579.3,378.2Z" fill="#1f6e1a"/>
<path d="M587.8,350.5 L589.2,341.1 L590.7,331.6 L592.2,322.2 L593.7,312.7 L594.7,303.2 L595.7,293.7 L596.7,284.2 L597.8,274.7 L598.8,265.1 L599.9,255.6 L601.0,246.1 L602.1,236.6 L603.2,227.1 L604.3,217.6 L605.4,208.1 L606.5,198.6 L606.5,198.6 L604.8,208.0 L603.3,217.5 L601.7,226.9 L600.2,236.4 L598.7,245.8 L597.2,255.3 L595.7,264.7 L594.3,274.2 L592.9,283.7 L591.4,293.1 L590.1,302.6 L588.7,312.1 L587.9,321.6 L587.1,331.2 L586.3,340.7 L585.5,350.3Z" fill="#267a1e"/>
<path d="M582.2,308.1 L584.4,299.3 L586.6,290.4 L588.8,281.6 L590.9,272.7 L592.5,263.8 L594.0,254.8 L595.4,245.8 L596.9,236.8 L598.4,227.8 L599.8,218.9 L601.3,209.9 L602.7,200.9 L604.1,191.9 L605.5,182.9 L606.9,173.9 L608.2,164.9 L608.2,164.9 L606.2,173.8 L604.3,182.7 L602.4,191.6 L600.4,200.4 L598.5,209.3 L596.5,218.2 L594.6,227.1 L592.6,236.0 L590.7,244.9 L588.7,253.8 L586.7,262.7 L584.8,271.5 L583.4,280.6 L582.1,289.6 L580.8,298.6 L579.4,307.6Z" fill="#267a1e"/>
</g>
<path d="M120.0,428.2 L127.0,479.0 L211.0,479.0 L220.0,428.2 Z" fill="url(#potA)"/>
<ellipse cx="170.0" cy="426.2" rx="56.0" ry="6.8" fill="#c06a2c"/>
<ellipse cx="170.0" cy="425.4" rx="51.0" ry="3.8" fill="#5a3014"/>
<path d="M332.2,428.9 L339.8,479.0 L430.2,479.0 L432.6,428.9 Z" fill="url(#potA)"/>
<ellipse cx="382.4" cy="426.9" rx="56.2" ry="8.3" fill="#c06a2c"/>
<ellipse cx="382.4" cy="426.1" rx="51.2" ry="5.3" fill="#5a3014"/>
<path d="M527.4,427.1 L533.8,479.0 L625.5,479.0 L631.4,427.1 Z" fill="url(#potA)"/>
<ellipse cx="579.4" cy="425.1" rx="58.0" ry="6.5" fill="#c06a2c"/>
<ellipse cx="579.4" cy="424.3" rx="53.0" ry="3.5" fill="#5a3014"/>
<rect x="82.3" y="415" width="2.8" height="36.5" fill="#fff"/>
<text x="169.0" y="469.0" font-size="24.5" text-anchor="middle" fill="#fff">WT</text>
<text x="377.3" y="467.4" font-size="24.5" text-anchor="middle" fill="#fff" font-style="italic">oschz1-1</text>
<text x="574.9" y="466.2" font-size="24.5" text-anchor="middle" fill="#fff" font-style="italic">oschz1-2</text>
<text x="660.0" y="81.7" font-size="24.5" text-anchor="end" fill="#fff">Shanghai (LD)</text>
<rect x="729" y="44" width="639" height="435" fill="#020915"/>
<path d="M1322,44 Q1318,250 1306,479" stroke="#0b1626" stroke-width="5" fill="none" opacity="0.4"/>
<path d="M1349,44 Q1347,250 1340,479" stroke="#0b1626" stroke-width="4" fill="none" opacity="0.4"/>
<g clip-path="url(#cpb)">
<path d="M862.0,442.0 L852.0,400.0 L838.0,350.0 L830.0,300.0 L830.0,250.0 L838.0,200.0 L855.0,165.0 L885.0,150.0 L915.0,165.0 L932.0,200.0 L943.0,250.0 L945.0,300.0 L935.0,350.0 L920.0,400.0 L906.0,442.0Z" fill="#1c561c" opacity="0.75" filter="url(#blur6)"/>
<path d="M866.5,442.0 L859.0,282.0 L884.0,242.0 L909.0,282.0 L901.5,442.0 Z" fill="#215e1e"/>
<path d="M876.1,442.0 L863.7,330.4" stroke="#44a338" stroke-width="2.4" fill="none"/>
<path d="M882.1,442.0 L868.8,280.8" stroke="#32902c" stroke-width="2.6" fill="none"/>
<path d="M882.0,442.0 L879.6,330.8" stroke="#50ac42" stroke-width="3.1" fill="none"/>
<path d="M883.7,442.0 L890.6,329.6" stroke="#226f20" stroke-width="2.3" fill="none"/>
<path d="M888.3,442.0 L891.3,311.1" stroke="#50ac42" stroke-width="2.7" fill="none"/>
<path d="M886.3,442.0 L891.1,344.4" stroke="#32902c" stroke-width="3.3" fill="none"/>
<path d="M885.5,442.0 L896.9,361.2" stroke="#226f20" stroke-width="3.0" fill="none"/>
<path d="M880.5,442.0 L874.6,346.7" stroke="#50ac42" stroke-width="2.6" fill="none"/>
<path d="M879.8,442.0 L872.6,389.6" stroke="#277c24" stroke-width="2.9" fill="none"/>
<path d="M881.1,442.0 L877.1,430.5" stroke="#50ac42" stroke-width="2.3" fill="none"/>
<path d="M881.3,442.0 L880.6,443.3" stroke="#226f20" stroke-width="3.1" fill="none"/>
<path d="M883.2,442.0 L890.2,430.7" stroke="#50ac42" stroke-width="2.8" fill="none"/>
<path d="M883.4,442.0 L885.8,435.7" stroke="#50ac42" stroke-width="2.9" fill="none"/>
<path d="M883.2,442.0 L878.0,307.4" stroke="#277c24" stroke-width="3.1" fill="none"/>
<path d="M884.6,442.0 L881.1,303.0" stroke="#379630" stroke-width="2.4" fill="none"/>
<path d="M885.8,442.0 L887.6,295.8" stroke="#44a338" stroke-width="2.7" fill="none"/>
<path d="M885.3,442.0 L891.2,324.9" stroke="#2c8a28" stroke-width="2.4" fill="none"/>
<path d="M880.3,442.0 L877.3,349.1" stroke="#32902c" stroke-width="2.3" fill="none"/>
<path d="M883.9,442.0 L892.7,377.8" stroke="#226f20" stroke-width="2.6" fill="none"/>
<path d="M880.1,442.0 L878.8,404.9" stroke="#277c24" stroke-width="2.8" fill="none"/>
<path d="M883.8,442.0 L885.0,395.2" stroke="#277c24" stroke-width="2.9" fill="none"/>
<path d="M884.8,442.0 L892.7,388.9" stroke="#226f20" stroke-width="3.2" fill="none"/>
<path d="M880.6,442.0 L879.4,413.8" stroke="#2c8a28" stroke-width="3.3" fill="none"/>
<path d="M884.9,442.0 L892.1,402.6" stroke="#379630" stroke-width="2.7" fill="none"/>
<path d="M880.6,442.0 L881.3,432.3" stroke="#379630" stroke-width="3.2" fill="none"/>
<path d="M885.0,442.0 L881.8,433.0" stroke="#44a338" stroke-width="3.2" fill="none"/>
<path d="M886.0,442.0 L881.3,434.3" stroke="#2c8a28" stroke-width="3.0" fill="none"/>
<path d="M885.4,442.0 L887.5,432.0" stroke="#277c24" stroke-width="2.9" fill="none"/>
<path d="M882.9,442.0 L878.7,354.4" stroke="#226f20" stroke-width="3.3" fill="none"/>
<path d="M884.5,442.0 L880.9,336.4" stroke="#379630" stroke-width="2.4" fill="none"/>
<path d="M878.4,442.0 L875.3,325.0" stroke="#2c8a28" stroke-width="2.8" fill="none"/>
<path d="M883.4,442.0 L883.7,346.4" stroke="#379630" stroke-width="2.4" fill="none"/>
<path d="M885.3,442.0 L880.0,409.2" stroke="#2c8a28" stroke-width="2.2" fill="none"/>
<path d="M884.7,442.0 L885.3,397.9" stroke="#379630" stroke-width="2.4" fill="none"/>
<path d="M881.6,442.0 L881.9,394.3" stroke="#226f20" stroke-width="3.0" fill="none"/>
<path d="M885.3,442.0 L885.2,349.3" stroke="#44a338" stroke-width="3.2" fill="none"/>
<path d="M882.4,442.0 L885.3,290.4" stroke="#277c24" stroke-width="2.3" fill="none"/>
<path d="M884.9,442.0 L884.4,335.7" stroke="#32902c" stroke-width="3.1" fill="none"/>
<path d="M889.1,442.0 L896.8,323.9" stroke="#2c8a28" stroke-width="2.7" fill="none"/>
<path d="M885.6,442.0 L890.6,396.5" stroke="#44a338" stroke-width="2.3" fill="none"/>
<path d="M886.5,442.0 L889.1,331.7" stroke="#379630" stroke-width="2.5" fill="none"/>
<path d="M881.0,442.0 L881.8,331.7" stroke="#379630" stroke-width="3.0" fill="none"/>
<path d="M879.9,442.0 L877.8,357.8" stroke="#32902c" stroke-width="3.3" fill="none"/>
<path d="M885.2,442.0 L879.1,410.4" stroke="#277c24" stroke-width="3.1" fill="none"/>
<path d="M881.1,442.0 L878.9,398.6" stroke="#226f20" stroke-width="3.0" fill="none"/>
<path d="M883.2,442.0 L877.7,406.5" stroke="#226f20" stroke-width="3.4" fill="none"/>
<path d="M881.6,442.0 L876.0,300.0" stroke="#277c24" stroke-width="4" fill="none"/>
<path d="M884.0,442.0 L884.0,280.0" stroke="#32902c" stroke-width="4" fill="none"/>
<path d="M886.4,442.0 L892.0,300.0" stroke="#379630" stroke-width="4" fill="none"/>
<path d="M879.8,442.0 L870.0,330.0" stroke="#2c8a28" stroke-width="3" fill="none"/>
<path d="M888.2,442.0 L898.0,330.0" stroke="#226f20" stroke-width="3" fill="none"/>
<path d="M882.8,442.0 L880.0,250.0" stroke="#2c8a28" stroke-width="3" fill="none"/>
<path d="M865.5,329.5 L859.3,316.0 L853.0,302.7 L846.4,289.5 L839.5,276.4 L831.7,263.9 L823.6,251.6 L815.3,239.4 L806.8,227.4 L798.2,215.5 L789.3,203.9 L780.1,192.3 L770.8,180.9 L761.3,169.7 L751.6,158.7 L741.6,147.8 L731.4,137.1 L731.4,137.1 L740.9,148.4 L750.2,159.8 L759.3,171.4 L768.2,183.0 L776.9,194.8 L785.4,206.7 L793.6,218.8 L801.7,230.9 L809.5,243.2 L817.2,255.7 L824.6,268.2 L831.8,280.9 L839.6,293.3 L847.2,305.8 L854.7,318.5 L861.9,331.3Z" fill="#379630"/>
<path d="M870.5,280.2 L867.5,269.1 L864.4,257.9 L861.2,246.8 L857.8,235.7 L853.5,225.0 L849.1,214.3 L844.6,203.7 L839.9,193.2 L835.1,182.7 L830.2,172.3 L825.1,161.9 L820.0,151.6 L814.7,141.4 L809.2,131.2 L803.6,121.1 L797.9,111.1 L797.9,111.1 L802.9,121.5 L807.8,131.9 L812.6,142.4 L817.3,152.9 L821.8,163.5 L826.3,174.0 L830.6,184.7 L834.8,195.3 L838.8,206.1 L842.8,216.8 L846.6,227.6 L850.3,238.5 L854.7,249.1 L858.9,259.8 L863.1,270.5 L867.1,281.3Z" fill="#277c24"/>
<path d="M881.2,330.8 L881.3,315.6 L881.4,300.4 L881.5,285.3 L881.5,270.1 L880.9,255.0 L880.2,239.8 L879.5,224.7 L878.8,209.5 L878.0,194.4 L877.3,179.2 L876.5,164.1 L875.8,149.0 L875.0,133.8 L874.2,118.7 L873.4,103.5 L872.5,88.4 L872.5,88.4 L872.6,103.6 L872.8,118.7 L873.0,133.9 L873.2,149.0 L873.4,164.2 L873.5,179.4 L873.7,194.5 L873.9,209.7 L874.1,224.8 L874.2,240.0 L874.4,255.1 L874.5,270.3 L875.4,285.4 L876.3,300.6 L877.2,315.7 L878.1,330.9Z" fill="#379630"/>
<path d="M892.1,329.9 L895.3,313.5 L898.6,297.1 L901.9,280.8 L905.3,264.4 L907.9,247.9 L910.7,231.5 L913.5,215.0 L916.3,198.6 L919.2,182.2 L922.1,165.7 L925.1,149.3 L928.2,132.9 L931.2,116.5 L934.4,100.1 L937.5,83.7 L940.7,67.3 L940.7,67.3 L936.8,83.5 L933.0,99.8 L929.3,116.1 L925.6,132.4 L922.0,148.7 L918.4,165.0 L915.0,181.3 L911.5,197.7 L908.2,214.0 L904.8,230.4 L901.6,246.8 L898.4,263.2 L895.9,279.7 L893.6,296.3 L891.3,312.8 L889.0,329.4Z" fill="#50ac42"/>
<path d="M892.9,311.3 L895.1,296.8 L897.5,282.3 L899.8,267.8 L902.2,253.4 L903.9,238.8 L905.6,224.2 L907.4,209.7 L909.2,195.1 L911.0,180.5 L912.8,166.0 L914.7,151.4 L916.6,136.9 L918.6,122.3 L920.5,107.8 L922.5,93.2 L924.5,78.7 L924.5,78.7 L921.8,93.1 L919.2,107.6 L916.6,122.0 L914.0,136.5 L911.6,151.0 L909.1,165.4 L906.7,179.9 L904.3,194.4 L902.0,208.9 L899.7,223.4 L897.5,237.9 L895.3,252.4 L893.8,267.1 L892.4,281.7 L891.1,296.3 L889.7,310.9Z" fill="#32902c"/>
<path d="M892.8,344.9 L897.9,330.9 L903.1,317.0 L908.4,303.2 L913.9,289.5 L918.8,275.5 L923.9,261.6 L929.1,247.7 L934.4,234.0 L939.9,220.2 L945.6,206.6 L951.4,192.9 L957.4,179.4 L963.6,165.9 L969.9,152.5 L976.3,139.1 L982.9,125.7 L982.9,125.7 L975.6,138.7 L968.5,151.7 L961.5,164.9 L954.7,178.1 L948.1,191.4 L941.7,204.8 L935.4,218.3 L929.3,231.8 L923.3,245.4 L917.5,259.1 L911.9,272.9 L906.4,286.7 L901.9,300.9 L897.6,315.2 L893.4,329.5 L889.4,343.9Z" fill="#379630"/>
<path d="M898.4,361.7 L902.9,350.3 L907.7,338.9 L912.5,327.5 L917.5,316.3 L921.9,304.9 L926.5,293.5 L931.2,282.1 L936.0,270.8 L941.0,259.6 L946.1,248.4 L951.4,237.3 L956.8,226.2 L962.3,215.2 L967.9,204.3 L973.7,193.4 L979.6,182.5 L979.6,182.5 L973.1,193.0 L966.7,203.6 L960.5,214.3 L954.5,225.0 L948.5,235.9 L942.8,246.8 L937.1,257.7 L931.6,268.8 L926.3,279.9 L921.0,291.1 L915.9,302.4 L911.0,313.7 L906.9,325.4 L902.9,337.1 L899.1,348.9 L895.4,360.7Z" fill="#379630"/>
<path d="M876.1,346.2 L873.1,335.4 L870.1,324.7 L866.9,313.9 L863.6,303.2 L859.5,292.9 L855.2,282.5 L850.9,272.3 L846.4,262.0 L841.8,251.9 L837.0,241.8 L832.2,231.8 L827.2,221.8 L822.1,211.9 L816.9,202.0 L811.5,192.2 L806.0,182.5 L806.0,182.5 L810.9,192.6 L815.6,202.6 L820.3,212.7 L824.9,222.9 L829.3,233.1 L833.6,243.3 L837.8,253.6 L841.9,263.9 L845.9,274.3 L849.7,284.7 L853.4,295.1 L857.0,305.6 L861.2,315.9 L865.3,326.3 L869.2,336.7 L873.1,347.2Z" fill="#32902c"/>
<path d="M873.9,389.1 L869.9,379.0 L865.8,369.1 L861.6,359.2 L857.3,349.4 L852.2,339.9 L847.0,330.5 L841.7,321.2 L836.3,311.9 L830.7,302.8 L825.0,293.7 L819.2,284.7 L813.3,275.7 L807.2,266.9 L801.0,258.1 L794.7,249.5 L788.2,240.9 L788.2,240.9 L794.2,249.8 L800.0,258.8 L805.8,267.9 L811.4,276.9 L816.9,286.1 L822.3,295.3 L827.5,304.6 L832.7,314.0 L837.7,323.4 L842.5,332.9 L847.3,342.4 L851.9,352.0 L856.9,361.4 L861.9,370.9 L866.7,380.5 L871.4,390.1Z" fill="#277c24"/>
<path d="M878.0,429.9 L873.3,422.1 L868.4,414.5 L863.4,407.0 L858.3,399.5 L852.6,392.6 L846.8,385.7 L840.8,378.9 L834.8,372.3 L828.6,365.8 L822.3,359.4 L815.8,353.1 L809.3,347.0 L802.6,341.0 L795.7,335.1 L788.8,329.3 L781.7,323.7 L781.7,323.7 L788.4,329.7 L795.1,335.8 L801.6,342.0 L808.0,348.3 L814.2,354.7 L820.3,361.3 L826.3,367.9 L832.2,374.6 L837.9,381.4 L843.5,388.4 L849.0,395.4 L854.3,402.6 L859.9,409.5 L865.4,416.6 L870.8,423.8 L876.1,431.1Z" fill="#379630"/>
<path d="M880.9,442.5 L874.3,440.0 L867.8,437.9 L861.3,436.1 L854.7,434.7 L848.1,434.0 L841.6,433.7 L835.1,433.8 L828.6,434.2 L822.2,435.0 L815.8,436.1 L809.5,437.6 L803.2,439.4 L796.9,441.6 L790.7,444.1 L784.5,447.0 L778.4,450.3 L778.4,450.3 L784.7,447.4 L791.0,444.9 L797.3,442.7 L803.6,440.8 L809.9,439.4 L816.2,438.2 L822.5,437.4 L828.8,437.0 L835.1,436.9 L841.5,437.1 L847.8,437.7 L854.1,438.6 L860.6,439.5 L867.1,440.7 L873.6,442.2 L880.2,444.2Z" fill="#44a338"/>
<path d="M891.2,431.3 L896.6,423.3 L902.2,415.4 L907.8,407.6 L913.5,399.8 L918.8,391.8 L924.3,383.9 L929.8,376.0 L935.4,368.2 L941.0,360.4 L946.8,352.7 L952.6,345.0 L958.5,337.4 L964.5,329.9 L970.6,322.4 L976.7,314.9 L982.9,307.5 L982.9,307.5 L976.3,314.6 L969.8,321.7 L963.4,328.9 L957.1,336.2 L950.8,343.6 L944.7,351.0 L938.6,358.5 L932.6,366.1 L926.7,373.7 L920.8,381.4 L915.1,389.2 L909.4,397.0 L904.2,405.2 L899.2,413.4 L894.2,421.7 L889.3,430.1Z" fill="#277c24"/>
<path d="M886.2,436.6 L892.5,434.3 L898.8,432.0 L905.1,429.8 L911.4,427.6 L917.6,425.1 L923.8,422.5 L930.0,420.0 L936.2,417.5 L942.4,415.1 L948.6,412.6 L954.8,410.2 L961.1,407.8 L967.3,405.4 L973.6,403.0 L979.8,400.7 L986.1,398.3 L986.1,398.3 L979.7,400.3 L973.3,402.3 L966.9,404.3 L960.6,406.4 L954.2,408.5 L947.9,410.6 L941.5,412.7 L935.2,414.9 L928.9,417.1 L922.5,419.4 L916.2,421.6 L909.9,423.9 L903.8,426.6 L897.7,429.4 L891.6,432.1 L885.5,434.9Z" fill="#226f20"/>
<path d="M879.8,307.0 L878.0,296.0 L876.2,284.9 L874.3,273.9 L872.3,262.8 L869.5,252.0 L866.6,241.2 L863.7,230.4 L860.8,219.6 L857.8,208.8 L854.7,198.0 L851.6,187.3 L848.4,176.6 L845.2,165.8 L842.0,155.1 L838.6,144.5 L835.2,133.8 L835.2,133.8 L837.8,144.7 L840.4,155.6 L843.0,166.4 L845.6,177.3 L848.1,188.2 L850.6,199.1 L853.0,210.0 L855.4,220.9 L857.7,231.8 L860.0,242.8 L862.3,253.7 L864.5,264.6 L867.5,275.4 L870.5,286.2 L873.4,297.0 L876.3,307.8Z" fill="#379630"/>
<path d="M882.9,302.8 L882.3,293.1 L881.7,283.5 L881.0,273.8 L880.4,264.2 L878.8,254.6 L877.3,245.1 L875.7,235.5 L874.0,226.0 L872.4,216.5 L870.7,207.0 L869.0,197.5 L867.3,188.0 L865.5,178.5 L863.7,169.0 L861.9,159.5 L860.0,150.0 L860.0,150.0 L861.1,159.6 L862.2,169.2 L863.3,178.8 L864.4,188.4 L865.4,198.0 L866.5,207.6 L867.5,217.2 L868.5,226.8 L869.5,236.4 L870.5,246.0 L871.5,255.6 L872.4,265.2 L874.2,274.7 L875.9,284.2 L877.6,293.7 L879.3,303.2Z" fill="#44a338"/>
<path d="M889.4,296.0 L890.6,285.6 L891.8,275.3 L893.1,265.0 L894.4,254.6 L894.8,244.3 L895.2,233.9 L895.7,223.5 L896.1,213.1 L896.6,202.7 L897.1,192.3 L897.6,181.9 L898.1,171.6 L898.6,161.2 L899.1,150.8 L899.5,140.4 L900.0,130.0 L900.0,130.0 L898.7,140.3 L897.5,150.7 L896.3,161.0 L895.1,171.3 L893.9,181.7 L892.8,192.0 L891.7,202.3 L890.6,212.7 L889.5,223.0 L888.5,233.4 L887.4,243.7 L886.4,254.1 L886.2,264.5 L886.1,274.9 L885.9,285.3 L885.8,295.7Z" fill="#50ac42"/>
<path d="M892.9,325.4 L896.6,315.1 L900.4,304.9 L904.3,294.6 L908.2,284.4 L911.4,274.0 L914.6,263.5 L917.9,253.1 L921.3,242.7 L924.7,232.3 L928.1,221.9 L931.6,211.6 L935.2,201.2 L938.9,190.9 L942.5,180.6 L946.3,170.3 L950.0,160.0 L950.0,160.0 L945.5,170.0 L941.1,180.0 L936.7,190.1 L932.4,200.2 L928.2,210.3 L924.1,220.4 L920.0,230.6 L916.0,240.8 L912.1,251.1 L908.2,261.3 L904.4,271.6 L900.6,281.9 L897.7,292.5 L894.9,303.1 L892.1,313.7 L889.4,324.4Z" fill="#32902c"/>
<path d="M879.0,348.6 L876.9,339.0 L874.8,329.4 L872.7,319.9 L870.5,310.3 L867.4,301.0 L864.3,291.7 L861.1,282.4 L857.9,273.2 L854.6,264.0 L851.2,254.8 L847.9,245.6 L844.4,236.4 L840.9,227.3 L837.4,218.1 L833.7,209.1 L830.0,200.0 L830.0,200.0 L832.9,209.3 L835.8,218.7 L838.7,228.0 L841.6,237.4 L844.4,246.7 L847.2,256.1 L849.9,265.5 L852.6,274.9 L855.2,284.3 L857.8,293.7 L860.3,303.1 L862.8,312.5 L866.0,321.8 L869.3,331.0 L872.4,340.3 L875.5,349.5Z" fill="#32902c"/>
<path d="M894.2,378.2 L897.0,368.3 L899.8,358.5 L902.7,348.7 L905.6,338.9 L907.8,329.0 L910.1,319.0 L912.4,309.1 L914.8,299.1 L917.2,289.2 L919.6,279.3 L922.1,269.4 L924.6,259.5 L927.2,249.6 L929.8,239.8 L932.4,229.9 L935.0,220.0 L935.0,220.0 L931.7,229.7 L928.4,239.4 L925.2,249.1 L922.1,258.8 L919.0,268.6 L916.0,278.3 L913.0,288.1 L910.1,297.9 L907.2,307.7 L904.3,317.5 L901.5,327.4 L898.8,337.2 L896.8,347.3 L894.9,357.3 L893.0,367.4 L891.1,377.5Z" fill="#32902c"/>
<path d="M880.3,404.6 L879.2,395.4 L878.1,386.3 L876.9,377.1 L875.8,367.9 L873.8,358.8 L871.8,349.8 L869.8,340.8 L867.8,331.8 L865.7,322.8 L863.6,313.8 L861.4,304.8 L859.2,295.8 L857.0,286.8 L854.7,277.9 L852.4,268.9 L850.0,260.0 L850.0,260.0 L851.7,269.1 L853.3,278.2 L855.0,287.3 L856.7,296.3 L858.3,305.4 L859.9,314.5 L861.4,323.6 L863.0,332.7 L864.5,341.8 L866.0,350.9 L867.4,360.0 L868.9,369.2 L871.0,378.1 L873.1,387.1 L875.2,396.1 L877.2,405.2Z" fill="#50ac42"/>
<path d="M886.5,395.5 L888.9,387.7 L891.3,380.0 L893.7,372.2 L896.2,364.5 L898.0,356.6 L899.9,348.7 L901.7,340.8 L903.6,332.9 L905.6,325.0 L907.6,317.1 L909.6,309.3 L911.6,301.4 L913.7,293.6 L915.8,285.7 L917.9,277.9 L920.0,270.0 L920.0,270.0 L917.2,277.6 L914.4,285.3 L911.8,293.0 L909.1,300.7 L906.5,308.4 L904.0,316.1 L901.4,323.8 L899.0,331.6 L896.5,339.4 L894.1,347.1 L891.8,354.9 L889.5,362.7 L887.9,370.7 L886.4,378.8 L884.9,386.8 L883.4,394.8Z" fill="#226f20"/>
<path d="M894.0,389.4 L898.1,380.7 L902.2,372.0 L906.4,363.3 L910.7,354.7 L914.5,345.8 L918.3,336.9 L922.2,328.1 L926.1,319.3 L930.1,310.6 L934.2,301.9 L938.4,293.2 L942.6,284.5 L946.9,275.8 L951.2,267.2 L955.6,258.6 L960.0,250.0 L960.0,250.0 L955.0,258.3 L950.1,266.6 L945.3,275.0 L940.6,283.4 L935.9,291.9 L931.4,300.4 L926.8,309.0 L922.4,317.5 L918.0,326.1 L913.7,334.8 L909.4,343.5 L905.2,352.2 L901.7,361.2 L898.2,370.3 L894.8,379.3 L891.5,388.4Z" fill="#44a338"/>
<path d="M880.6,413.3 L878.3,405.9 L875.9,398.5 L873.5,391.1 L871.0,383.7 L867.9,376.6 L864.7,369.5 L861.5,362.4 L858.2,355.4 L854.8,348.4 L851.5,341.4 L848.0,334.4 L844.5,327.5 L841.0,320.5 L837.4,313.7 L833.7,306.8 L830.0,300.0 L830.0,300.0 L833.2,307.1 L836.3,314.2 L839.4,321.3 L842.5,328.4 L845.5,335.5 L848.5,342.7 L851.5,349.9 L854.4,357.0 L857.2,364.2 L860.0,371.5 L862.7,378.7 L865.4,385.9 L868.7,393.0 L871.9,400.1 L875.0,407.1 L878.1,414.3Z" fill="#44a338"/>
<path d="M893.4,403.2 L896.7,396.7 L900.0,390.3 L903.4,384.0 L906.8,377.6 L909.7,371.0 L912.7,364.5 L915.7,357.9 L918.8,351.4 L921.9,344.9 L925.1,338.4 L928.3,332.0 L931.5,325.6 L934.8,319.1 L938.2,312.8 L941.6,306.4 L945.0,300.0 L945.0,300.0 L941.0,306.1 L937.2,312.2 L933.3,318.3 L929.6,324.5 L925.9,330.7 L922.2,336.9 L918.6,343.2 L915.1,349.5 L911.6,355.8 L908.1,362.2 L904.8,368.6 L901.4,375.0 L898.7,381.8 L896.1,388.5 L893.5,395.3 L890.9,402.1Z" fill="#50ac42"/>
<path d="M882.3,431.9 L880.1,426.4 L877.8,420.9 L875.4,415.4 L873.0,410.0 L870.1,404.8 L867.1,399.7 L864.1,394.6 L861.1,389.5 L858.0,384.5 L854.8,379.5 L851.7,374.5 L848.4,369.5 L845.2,364.6 L841.8,359.7 L838.5,354.8 L835.0,350.0 L835.0,350.0 L838.0,355.1 L841.0,360.2 L843.9,365.3 L846.8,370.5 L849.7,375.6 L852.5,380.8 L855.3,386.0 L858.1,391.2 L860.8,396.5 L863.4,401.7 L866.0,407.0 L868.6,412.3 L871.6,417.4 L874.5,422.5 L877.4,427.7 L880.3,432.8Z" fill="#226f20"/>
<path d="M882.8,433.5 L886.0,428.3 L889.3,423.1 L892.7,417.9 L896.1,412.8 L899.0,407.4 L902.1,402.0 L905.2,396.7 L908.3,391.4 L911.5,386.2 L914.7,380.9 L918.0,375.7 L921.3,370.5 L924.7,365.4 L928.1,360.2 L931.5,355.1 L935.0,350.0 L935.0,350.0 L931.1,354.8 L927.3,359.6 L923.5,364.5 L919.8,369.5 L916.1,374.4 L912.5,379.4 L908.9,384.5 L905.4,389.6 L901.9,394.7 L898.5,399.8 L895.1,405.0 L891.8,410.2 L888.9,415.7 L886.2,421.3 L883.4,426.9 L880.8,432.5Z" fill="#32902c"/>
<path d="M882.0,433.4 L877.5,429.2 L872.9,425.0 L868.3,421.0 L863.7,416.9 L858.6,413.4 L853.5,410.0 L848.4,406.6 L843.2,403.3 L838.0,400.1 L832.7,397.0 L827.3,394.0 L822.0,391.0 L816.6,388.1 L811.1,385.3 L805.6,382.6 L800.0,380.0 L800.0,380.0 L805.3,383.1 L810.6,386.2 L815.8,389.4 L821.0,392.6 L826.2,395.9 L831.3,399.3 L836.3,402.7 L841.3,406.2 L846.2,409.8 L851.1,413.4 L855.9,417.1 L860.6,420.9 L865.7,424.4 L870.7,427.9 L875.6,431.5 L880.6,435.1Z" fill="#2c8a28"/>
<path d="M888.2,432.8 L892.6,429.4 L897.1,426.0 L901.6,422.7 L906.1,419.4 L910.3,415.8 L914.6,412.3 L918.9,408.8 L923.3,405.4 L927.7,402.0 L932.2,398.7 L936.7,395.4 L941.3,392.2 L945.9,389.1 L950.5,386.0 L955.3,383.0 L960.0,380.0 L960.0,380.0 L955.0,382.5 L950.0,385.2 L945.1,387.9 L940.3,390.7 L935.4,393.5 L930.7,396.5 L925.9,399.5 L921.3,402.5 L916.6,405.7 L912.0,408.9 L907.4,412.2 L902.9,415.5 L898.8,419.3 L894.7,423.2 L890.7,427.2 L886.7,431.2Z" fill="#50ac42"/>
<path d="M879.9,354.2 L878.2,341.0 L876.6,327.8 L874.9,314.6 L873.2,301.4 L870.9,288.3 L868.5,275.2 L866.1,262.1 L863.7,249.0 L861.3,236.0 L858.8,222.9 L856.3,209.8 L853.8,196.8 L851.2,183.7 L848.6,170.7 L845.9,157.7 L843.2,144.7 L843.2,144.7 L845.4,157.8 L847.5,170.9 L849.7,184.0 L851.8,197.1 L853.9,210.3 L856.0,223.4 L858.0,236.5 L860.1,249.7 L862.1,262.8 L864.0,275.9 L866.0,289.1 L867.9,302.2 L870.3,315.3 L872.7,328.4 L875.1,341.5 L877.5,354.5Z" fill="#2c8a28"/>
<path d="M882.1,336.3 L880.6,324.3 L879.0,312.4 L877.3,300.5 L875.5,288.6 L873.1,276.9 L870.5,265.1 L867.9,253.4 L865.2,241.7 L862.4,230.1 L859.5,218.4 L856.5,206.8 L853.4,195.2 L850.2,183.6 L846.9,172.1 L843.6,160.6 L840.0,149.1 L840.0,149.1 L843.0,160.7 L845.9,172.4 L848.7,184.0 L851.5,195.7 L854.1,207.4 L856.7,219.1 L859.2,230.8 L861.6,242.5 L863.9,254.3 L866.1,266.0 L868.2,277.8 L870.2,289.6 L872.7,301.3 L875.1,313.1 L877.4,324.8 L879.7,336.6Z" fill="#44a338"/>
<path d="M876.6,324.6 L873.2,313.0 L869.8,301.4 L866.4,289.8 L863.0,278.2 L858.9,266.8 L854.7,255.5 L850.5,244.1 L846.3,232.8 L842.1,221.5 L837.8,210.2 L833.4,199.0 L829.0,187.7 L824.6,176.5 L820.1,165.2 L815.6,154.0 L811.0,142.8 L811.0,142.8 L815.0,154.3 L819.0,165.6 L823.0,177.1 L826.9,188.5 L830.8,199.9 L834.7,211.3 L838.5,222.8 L842.4,234.2 L846.1,245.7 L849.9,257.2 L853.6,268.7 L857.2,280.1 L861.5,291.5 L865.7,302.8 L869.8,314.1 L874.0,325.5Z" fill="#32902c"/>
<path d="M884.9,346.5 L886.6,331.8 L888.4,317.1 L890.2,302.4 L892.1,287.7 L893.5,273.0 L894.8,258.3 L896.3,243.6 L897.7,228.8 L899.2,214.1 L900.7,199.4 L902.3,184.7 L903.9,170.0 L905.5,155.2 L907.1,140.5 L908.8,125.8 L910.4,111.1 L910.4,111.1 L908.2,125.8 L906.1,140.4 L904.0,155.1 L902.0,169.7 L900.0,184.4 L898.0,199.1 L896.1,213.7 L894.2,228.4 L892.4,243.1 L890.6,257.8 L888.8,272.5 L887.0,287.2 L885.9,302.0 L884.7,316.7 L883.6,331.5 L882.6,346.3Z" fill="#379630"/>
<path d="M881.2,408.6 L877.0,399.8 L872.7,391.0 L868.4,382.3 L864.0,373.5 L859.1,365.2 L854.0,356.8 L849.0,348.5 L843.8,340.2 L838.6,332.0 L833.4,323.8 L828.1,315.6 L822.8,307.5 L817.4,299.4 L811.9,291.4 L806.4,283.4 L800.8,275.4 L800.8,275.4 L805.8,283.7 L810.9,292.0 L815.9,300.3 L820.9,308.7 L825.8,317.1 L830.7,325.5 L835.5,333.9 L840.3,342.3 L845.0,350.8 L849.7,359.3 L854.3,367.9 L858.9,376.4 L864.0,384.7 L869.0,393.0 L873.9,401.4 L878.8,409.8Z" fill="#226f20"/>
<path d="M886.4,397.7 L885.4,389.9 L884.4,382.1 L883.4,374.3 L882.4,366.5 L880.9,358.8 L879.3,351.1 L877.8,343.4 L876.3,335.7 L874.7,328.0 L873.1,320.3 L871.6,312.6 L870.0,304.9 L868.4,297.2 L866.8,289.5 L865.2,281.8 L863.6,274.1 L863.6,274.1 L864.7,281.9 L865.8,289.7 L867.0,297.5 L868.1,305.2 L869.3,313.0 L870.4,320.8 L871.6,328.5 L872.8,336.3 L873.9,344.1 L875.1,351.8 L876.2,359.6 L877.4,367.4 L879.1,375.1 L880.8,382.7 L882.5,390.4 L884.1,398.1Z" fill="#277c24"/>
<path d="M883.1,394.4 L884.3,386.3 L885.6,378.1 L887.0,370.0 L888.4,361.9 L889.3,353.7 L890.2,345.5 L891.2,337.3 L892.3,329.1 L893.3,321.0 L894.5,312.8 L895.6,304.6 L896.9,296.5 L898.1,288.3 L899.4,280.2 L900.7,272.0 L902.1,263.9 L902.1,263.9 L900.2,271.9 L898.4,280.0 L896.7,288.1 L895.0,296.1 L893.3,304.2 L891.8,312.3 L890.2,320.5 L888.7,328.6 L887.3,336.7 L885.9,344.9 L884.6,353.0 L883.3,361.2 L882.6,369.4 L881.9,377.7 L881.3,385.9 L880.7,394.2Z" fill="#50ac42"/>
<path d="M886.7,349.3 L887.4,335.5 L888.0,321.6 L888.7,307.7 L889.3,293.8 L889.2,280.0 L889.1,266.1 L889.0,252.2 L888.9,238.3 L888.7,224.5 L888.6,210.6 L888.4,196.7 L888.2,182.8 L888.0,169.0 L887.7,155.1 L887.5,141.2 L887.2,127.3 L887.2,127.3 L886.8,141.2 L886.4,155.1 L886.1,168.9 L885.7,182.8 L885.4,196.7 L885.0,210.6 L884.7,224.4 L884.3,238.3 L883.9,252.2 L883.5,266.0 L883.1,279.9 L882.7,293.8 L883.0,307.6 L883.3,321.5 L883.5,335.4 L883.8,349.3Z" fill="#379630"/>
<path d="M886.7,290.6 L888.8,278.2 L890.9,265.8 L893.0,253.4 L895.1,241.0 L896.5,228.5 L898.0,216.1 L899.4,203.6 L900.9,191.1 L902.4,178.6 L903.9,166.2 L905.4,153.7 L906.9,141.2 L908.5,128.8 L910.0,116.3 L911.5,103.8 L913.0,91.3 L913.0,91.3 L910.8,103.7 L908.7,116.1 L906.6,128.5 L904.6,140.9 L902.5,153.3 L900.5,165.7 L898.5,178.1 L896.5,190.5 L894.5,202.9 L892.6,215.3 L890.6,227.7 L888.7,240.1 L887.5,252.7 L886.2,265.2 L885.0,277.7 L883.8,290.2Z" fill="#44a338"/>
<path d="M885.6,335.6 L884.4,320.7 L883.2,305.8 L882.0,290.9 L880.8,276.0 L879.1,261.1 L877.3,246.3 L875.6,231.4 L873.8,216.6 L872.0,201.7 L870.3,186.9 L868.5,172.1 L866.7,157.2 L864.9,142.4 L863.1,127.5 L861.3,112.7 L859.4,97.9 L859.4,97.9 L860.8,112.8 L862.1,127.6 L863.5,142.5 L864.8,157.4 L866.2,172.3 L867.6,187.2 L868.9,202.1 L870.3,216.9 L871.7,231.8 L873.0,246.7 L874.4,261.6 L875.7,276.5 L877.6,291.3 L879.5,306.1 L881.4,321.0 L883.3,335.8Z" fill="#226f20"/>
<path d="M898.3,324.3 L903.0,310.3 L907.7,296.2 L912.5,282.1 L917.3,268.1 L921.5,253.9 L925.7,239.7 L930.0,225.4 L934.3,211.2 L938.6,197.1 L943.0,182.9 L947.4,168.7 L951.9,154.6 L956.3,140.4 L960.9,126.3 L965.4,112.2 L970.0,98.0 L970.0,98.0 L964.7,111.9 L959.6,125.8 L954.5,139.8 L949.4,153.8 L944.5,167.7 L939.5,181.7 L934.6,195.8 L929.8,209.8 L925.0,223.8 L920.2,237.9 L915.5,252.0 L910.8,266.1 L906.9,280.4 L903.0,294.8 L899.1,309.1 L895.3,323.5Z" fill="#226f20"/>
<path d="M891.8,396.8 L894.8,388.4 L897.8,380.0 L900.8,371.6 L903.9,363.2 L906.5,354.7 L909.2,346.2 L911.9,337.7 L914.6,329.2 L917.4,320.8 L920.3,312.3 L923.2,303.9 L926.2,295.5 L929.2,287.1 L932.3,278.7 L935.4,270.3 L938.5,262.0 L938.5,262.0 L934.8,270.1 L931.2,278.3 L927.6,286.5 L924.2,294.7 L920.7,303.0 L917.4,311.3 L914.1,319.6 L910.8,327.9 L907.7,336.2 L904.5,344.6 L901.5,353.0 L898.5,361.5 L896.1,370.1 L893.8,378.7 L891.5,387.4 L889.4,396.1Z" fill="#2c8a28"/>
<path d="M890.5,331.7 L891.3,317.6 L892.2,303.5 L893.2,289.4 L894.2,275.4 L894.7,261.3 L895.3,247.2 L896.0,233.1 L896.7,219.0 L897.6,204.9 L898.5,190.8 L899.5,176.7 L900.6,162.7 L901.7,148.6 L902.9,134.5 L904.2,120.4 L905.6,106.4 L905.6,106.4 L903.6,120.4 L901.8,134.4 L900.0,148.4 L898.3,162.4 L896.8,176.5 L895.3,190.5 L893.9,204.6 L892.6,218.7 L891.4,232.8 L890.3,246.9 L889.2,261.0 L888.2,275.1 L888.0,289.2 L887.9,303.4 L887.8,317.5 L887.8,331.7Z" fill="#226f20"/>
<path d="M883.2,331.7 L883.9,322.0 L884.5,312.2 L885.1,302.5 L885.7,292.7 L885.6,283.0 L885.5,273.2 L885.3,263.5 L885.1,253.7 L884.8,244.0 L884.6,234.2 L884.3,224.4 L883.9,214.7 L883.6,204.9 L883.2,195.2 L882.7,185.5 L882.2,175.7 L882.2,175.7 L882.0,185.5 L881.9,195.2 L881.8,205.0 L881.6,214.7 L881.4,224.5 L881.2,234.2 L880.9,244.0 L880.7,253.7 L880.4,263.4 L880.1,273.2 L879.7,282.9 L879.4,292.6 L879.7,302.4 L879.9,312.1 L880.1,321.9 L880.3,331.6Z" fill="#379630"/>
<path d="M879.1,357.4 L876.7,347.4 L874.3,337.4 L871.9,327.4 L869.3,317.5 L866.1,307.7 L862.9,298.0 L859.5,288.3 L856.1,278.6 L852.7,268.9 L849.1,259.3 L845.5,249.7 L841.8,240.1 L838.1,230.6 L834.2,221.1 L830.3,211.6 L826.3,202.1 L826.3,202.1 L829.7,211.8 L833.1,221.5 L836.5,231.2 L839.8,240.9 L843.0,250.6 L846.2,260.3 L849.3,270.1 L852.3,279.9 L855.3,289.6 L858.2,299.5 L861.0,309.3 L863.8,319.1 L867.1,328.8 L870.3,338.6 L873.5,348.3 L876.6,358.1Z" fill="#379630"/>
<path d="M880.4,410.1 L879.1,402.9 L877.7,395.6 L876.3,388.4 L874.8,381.1 L872.7,374.1 L870.5,367.0 L868.3,360.0 L866.0,353.0 L863.7,346.0 L861.4,339.0 L859.0,332.0 L856.5,325.1 L854.0,318.2 L851.4,311.3 L848.8,304.4 L846.1,297.5 L846.1,297.5 L848.2,304.6 L850.3,311.6 L852.4,318.7 L854.4,325.8 L856.4,332.8 L858.4,339.9 L860.3,347.0 L862.2,354.1 L864.0,361.2 L865.8,368.4 L867.5,375.5 L869.2,382.6 L871.4,389.6 L873.6,396.6 L875.8,403.7 L877.9,410.7Z" fill="#2c8a28"/>
<path d="M880.1,398.2 L876.9,388.1 L873.6,378.2 L870.1,368.2 L866.6,358.3 L862.4,348.7 L858.0,339.1 L853.6,329.6 L849.0,320.1 L844.4,310.7 L839.6,301.4 L834.8,292.1 L829.8,282.9 L824.7,273.7 L819.5,264.6 L814.2,255.5 L808.7,246.5 L808.7,246.5 L813.6,255.8 L818.5,265.1 L823.2,274.5 L827.9,283.9 L832.4,293.3 L836.8,302.8 L841.1,312.3 L845.4,321.8 L849.5,331.4 L853.5,341.1 L857.4,350.8 L861.2,360.5 L865.5,370.1 L869.6,379.7 L873.7,389.3 L877.7,399.0Z" fill="#2c8a28"/>
<path d="M879.0,406.0 L875.6,395.8 L871.9,385.6 L868.2,375.4 L864.4,365.2 L859.9,355.4 L855.3,345.6 L850.5,335.9 L845.7,326.2 L840.7,316.6 L835.7,307.1 L830.5,297.6 L825.3,288.2 L819.9,278.8 L814.4,269.4 L808.8,260.2 L803.1,251.0 L803.1,251.0 L808.2,260.5 L813.3,270.1 L818.3,279.6 L823.2,289.3 L828.0,298.9 L832.7,308.6 L837.3,318.4 L841.7,328.1 L846.1,338.0 L850.4,347.8 L854.6,357.8 L858.6,367.7 L863.2,377.5 L867.7,387.3 L872.1,397.1 L876.4,407.1Z" fill="#2c8a28"/>
</g>
<path d="M845.0,290.0 Q838.6,178.7 840.0,67.3" stroke="#4f8f34" stroke-width="1.7" fill="none"/>
<ellipse cx="842.9" cy="212.1" rx="1.3" ry="1.9" fill="#92b84c"/>
<ellipse cx="842.9" cy="208.8" rx="1.3" ry="1.9" fill="#a9c95e"/>
<ellipse cx="839.7" cy="205.5" rx="1.3" ry="1.9" fill="#bcd675"/>
<ellipse cx="841.8" cy="202.2" rx="1.3" ry="1.9" fill="#a9c95e"/>
<ellipse cx="841.7" cy="198.9" rx="1.3" ry="1.9" fill="#a9c95e"/>
<ellipse cx="839.6" cy="195.6" rx="1.3" ry="1.9" fill="#9fc258"/>
<ellipse cx="841.7" cy="192.3" rx="1.3" ry="1.9" fill="#bcd675"/>
<ellipse cx="841.8" cy="189.0" rx="1.3" ry="1.9" fill="#9fc258"/>
<ellipse cx="841.9" cy="185.7" rx="1.3" ry="1.9" fill="#a9c95e"/>
<ellipse cx="841.8" cy="182.4" rx="1.3" ry="1.9" fill="#c6dc84"/>
<ellipse cx="839.4" cy="179.2" rx="1.3" ry="1.9" fill="#bcd675"/>
<ellipse cx="839.6" cy="175.9" rx="1.3" ry="1.9" fill="#a9c95e"/>
<ellipse cx="839.0" cy="172.6" rx="1.3" ry="1.9" fill="#a9c95e"/>
<ellipse cx="841.3" cy="169.3" rx="1.3" ry="1.9" fill="#92b84c"/>
<ellipse cx="840.2" cy="166.0" rx="1.3" ry="1.9" fill="#bcd675"/>
<ellipse cx="839.1" cy="162.7" rx="1.3" ry="1.9" fill="#bcd675"/>
<ellipse cx="839.6" cy="159.4" rx="1.3" ry="1.9" fill="#92b84c"/>
<ellipse cx="839.9" cy="156.1" rx="1.3" ry="1.9" fill="#a9c95e"/>
<ellipse cx="839.7" cy="152.8" rx="1.3" ry="1.9" fill="#92b84c"/>
<ellipse cx="838.8" cy="149.5" rx="1.3" ry="1.9" fill="#92b84c"/>
<ellipse cx="841.1" cy="146.3" rx="1.3" ry="1.9" fill="#9fc258"/>
<ellipse cx="839.9" cy="143.0" rx="1.3" ry="1.9" fill="#92b84c"/>
<ellipse cx="840.2" cy="139.7" rx="1.3" ry="1.9" fill="#a9c95e"/>
<ellipse cx="840.6" cy="136.4" rx="1.3" ry="1.9" fill="#a9c95e"/>
<ellipse cx="839.7" cy="133.1" rx="1.3" ry="1.9" fill="#a9c95e"/>
<ellipse cx="839.4" cy="129.8" rx="1.3" ry="1.9" fill="#a9c95e"/>
<ellipse cx="839.9" cy="126.5" rx="1.3" ry="1.9" fill="#bcd675"/>
<ellipse cx="840.3" cy="123.2" rx="1.3" ry="1.9" fill="#a9c95e"/>
<ellipse cx="839.9" cy="119.9" rx="1.3" ry="1.9" fill="#92b84c"/>
<ellipse cx="839.0" cy="116.6" rx="1.3" ry="1.9" fill="#a9c95e"/>
<ellipse cx="839.8" cy="113.4" rx="1.3" ry="1.9" fill="#92b84c"/>
<ellipse cx="840.4" cy="110.1" rx="1.3" ry="1.9" fill="#a9c95e"/>
<ellipse cx="838.6" cy="106.8" rx="1.3" ry="1.9" fill="#c6dc84"/>
<ellipse cx="838.8" cy="103.5" rx="1.3" ry="1.9" fill="#bcd675"/>
<ellipse cx="840.8" cy="100.2" rx="1.3" ry="1.9" fill="#9fc258"/>
<ellipse cx="839.4" cy="96.9" rx="1.3" ry="1.9" fill="#9fc258"/>
<ellipse cx="839.2" cy="93.6" rx="1.3" ry="1.9" fill="#bcd675"/>
<ellipse cx="839.3" cy="90.3" rx="1.3" ry="1.9" fill="#bcd675"/>
<ellipse cx="840.8" cy="87.0" rx="1.3" ry="1.9" fill="#bcd675"/>
<ellipse cx="839.8" cy="83.7" rx="1.3" ry="1.9" fill="#a9c95e"/>
<ellipse cx="840.8" cy="80.5" rx="1.3" ry="1.9" fill="#a9c95e"/>
<ellipse cx="839.9" cy="77.2" rx="1.3" ry="1.9" fill="#9fc258"/>
<ellipse cx="840.5" cy="73.9" rx="1.3" ry="1.9" fill="#92b84c"/>
<ellipse cx="839.7" cy="70.6" rx="1.3" ry="1.9" fill="#c6dc84"/>
<ellipse cx="840.8" cy="67.3" rx="1.3" ry="1.9" fill="#a9c95e"/>
<path d="M868.0,290.0 Q869.5,190.0 872.5,90.0" stroke="#4f8f34" stroke-width="1.7" fill="none"/>
<ellipse cx="869.7" cy="220.0" rx="1.3" ry="1.9" fill="#92b84c"/>
<ellipse cx="868.3" cy="216.7" rx="1.3" ry="1.9" fill="#92b84c"/>
<ellipse cx="869.1" cy="213.3" rx="1.3" ry="1.9" fill="#9fc258"/>
<ellipse cx="869.4" cy="210.0" rx="1.3" ry="1.9" fill="#c6dc84"/>
<ellipse cx="871.0" cy="206.7" rx="1.3" ry="1.9" fill="#bcd675"/>
<ellipse cx="870.9" cy="203.3" rx="1.3" ry="1.9" fill="#bcd675"/>
<ellipse cx="869.7" cy="200.0" rx="1.3" ry="1.9" fill="#9fc258"/>
<ellipse cx="870.2" cy="196.7" rx="1.3" ry="1.9" fill="#92b84c"/>
<ellipse cx="870.0" cy="193.3" rx="1.3" ry="1.9" fill="#9fc258"/>
<ellipse cx="868.8" cy="190.0" rx="1.3" ry="1.9" fill="#c6dc84"/>
<ellipse cx="870.4" cy="186.7" rx="1.3" ry="1.9" fill="#92b84c"/>
<ellipse cx="869.1" cy="183.3" rx="1.3" ry="1.9" fill="#c6dc84"/>
<ellipse cx="870.6" cy="180.0" rx="1.3" ry="1.9" fill="#92b84c"/>
<ellipse cx="870.4" cy="176.7" rx="1.3" ry="1.9" fill="#bcd675"/>
<ellipse cx="869.8" cy="173.3" rx="1.3" ry="1.9" fill="#bcd675"/>
<ellipse cx="870.3" cy="170.0" rx="1.3" ry="1.9" fill="#92b84c"/>
<ellipse cx="869.9" cy="166.7" rx="1.3" ry="1.9" fill="#9fc258"/>
<ellipse cx="869.6" cy="163.3" rx="1.3" ry="1.9" fill="#bcd675"/>
<ellipse cx="871.8" cy="160.0" rx="1.3" ry="1.9" fill="#92b84c"/>
<ellipse cx="870.9" cy="156.7" rx="1.3" ry="1.9" fill="#92b84c"/>
<ellipse cx="869.9" cy="153.3" rx="1.3" ry="1.9" fill="#92b84c"/>
<ellipse cx="872.0" cy="150.0" rx="1.3" ry="1.9" fill="#92b84c"/>
<ellipse cx="872.1" cy="146.7" rx="1.3" ry="1.9" fill="#a9c95e"/>
<ellipse cx="870.2" cy="143.3" rx="1.3" ry="1.9" fill="#a9c95e"/>
<ellipse cx="870.3" cy="140.0" rx="1.3" ry="1.9" fill="#bcd675"/>
<ellipse cx="872.4" cy="136.7" rx="1.3" ry="1.9" fill="#92b84c"/>
<ellipse cx="871.8" cy="133.3" rx="1.3" ry="1.9" fill="#c6dc84"/>
<ellipse cx="870.8" cy="130.0" rx="1.3" ry="1.9" fill="#a9c95e"/>
<ellipse cx="871.8" cy="126.7" rx="1.3" ry="1.9" fill="#a9c95e"/>
<ellipse cx="871.0" cy="123.3" rx="1.3" ry="1.9" fill="#c6dc84"/>
<ellipse cx="871.5" cy="120.0" rx="1.3" ry="1.9" fill="#a9c95e"/>
<ellipse cx="871.5" cy="116.7" rx="1.3" ry="1.9" fill="#c6dc84"/>
<ellipse cx="872.2" cy="113.3" rx="1.3" ry="1.9" fill="#9fc258"/>
<ellipse cx="873.0" cy="110.0" rx="1.3" ry="1.9" fill="#92b84c"/>
<ellipse cx="871.9" cy="106.7" rx="1.3" ry="1.9" fill="#bcd675"/>
<ellipse cx="871.6" cy="103.3" rx="1.3" ry="1.9" fill="#c6dc84"/>
<ellipse cx="871.2" cy="100.0" rx="1.3" ry="1.9" fill="#bcd675"/>
<ellipse cx="873.1" cy="96.7" rx="1.3" ry="1.9" fill="#c6dc84"/>
<ellipse cx="872.8" cy="93.3" rx="1.3" ry="1.9" fill="#9fc258"/>
<ellipse cx="873.0" cy="90.0" rx="1.3" ry="1.9" fill="#c6dc84"/>
<path d="M880.0,290.0 Q884.5,195.0 882.0,100.0" stroke="#4f8f34" stroke-width="1.7" fill="none"/>
<ellipse cx="882.8" cy="223.5" rx="1.3" ry="1.9" fill="#9fc258"/>
<ellipse cx="883.5" cy="220.2" rx="1.3" ry="1.9" fill="#bcd675"/>
<ellipse cx="882.9" cy="216.8" rx="1.3" ry="1.9" fill="#c6dc84"/>
<ellipse cx="882.3" cy="213.5" rx="1.3" ry="1.9" fill="#92b84c"/>
<ellipse cx="882.9" cy="210.1" rx="1.3" ry="1.9" fill="#a9c95e"/>
<ellipse cx="883.8" cy="206.8" rx="1.3" ry="1.9" fill="#bcd675"/>
<ellipse cx="883.5" cy="203.5" rx="1.3" ry="1.9" fill="#bcd675"/>
<ellipse cx="881.9" cy="200.1" rx="1.3" ry="1.9" fill="#c6dc84"/>
<ellipse cx="882.7" cy="196.8" rx="1.3" ry="1.9" fill="#a9c95e"/>
<ellipse cx="883.1" cy="193.5" rx="1.3" ry="1.9" fill="#c6dc84"/>
<ellipse cx="882.8" cy="190.1" rx="1.3" ry="1.9" fill="#bcd675"/>
<ellipse cx="883.9" cy="186.8" rx="1.3" ry="1.9" fill="#92b84c"/>
<ellipse cx="883.6" cy="183.4" rx="1.3" ry="1.9" fill="#c6dc84"/>
<ellipse cx="883.8" cy="180.1" rx="1.3" ry="1.9" fill="#a9c95e"/>
<ellipse cx="881.6" cy="176.8" rx="1.3" ry="1.9" fill="#9fc258"/>
<ellipse cx="882.1" cy="173.4" rx="1.3" ry="1.9" fill="#bcd675"/>
<ellipse cx="882.9" cy="170.1" rx="1.3" ry="1.9" fill="#a9c95e"/>
<ellipse cx="883.8" cy="166.8" rx="1.3" ry="1.9" fill="#c6dc84"/>
<ellipse cx="883.0" cy="163.4" rx="1.3" ry="1.9" fill="#c6dc84"/>
<ellipse cx="882.9" cy="160.1" rx="1.3" ry="1.9" fill="#92b84c"/>
<ellipse cx="882.9" cy="156.7" rx="1.3" ry="1.9" fill="#c6dc84"/>
<ellipse cx="883.5" cy="153.4" rx="1.3" ry="1.9" fill="#c6dc84"/>
<ellipse cx="882.1" cy="150.1" rx="1.3" ry="1.9" fill="#bcd675"/>
<ellipse cx="882.5" cy="146.7" rx="1.3" ry="1.9" fill="#a9c95e"/>
<ellipse cx="883.3" cy="143.4" rx="1.3" ry="1.9" fill="#9fc258"/>
<ellipse cx="882.4" cy="140.1" rx="1.3" ry="1.9" fill="#a9c95e"/>
<ellipse cx="882.1" cy="136.7" rx="1.3" ry="1.9" fill="#c6dc84"/>
<ellipse cx="882.4" cy="133.4" rx="1.3" ry="1.9" fill="#a9c95e"/>
<ellipse cx="881.6" cy="130.0" rx="1.3" ry="1.9" fill="#c6dc84"/>
<ellipse cx="882.8" cy="126.7" rx="1.3" ry="1.9" fill="#92b84c"/>
<ellipse cx="882.7" cy="123.4" rx="1.3" ry="1.9" fill="#a9c95e"/>
<ellipse cx="881.8" cy="120.0" rx="1.3" ry="1.9" fill="#c6dc84"/>
<ellipse cx="883.3" cy="116.7" rx="1.3" ry="1.9" fill="#9fc258"/>
<ellipse cx="883.3" cy="113.4" rx="1.3" ry="1.9" fill="#c6dc84"/>
<ellipse cx="882.2" cy="110.0" rx="1.3" ry="1.9" fill="#bcd675"/>
<ellipse cx="881.4" cy="106.7" rx="1.3" ry="1.9" fill="#a9c95e"/>
<ellipse cx="882.7" cy="103.3" rx="1.3" ry="1.9" fill="#bcd675"/>
<ellipse cx="881.9" cy="100.0" rx="1.3" ry="1.9" fill="#9fc258"/>
<path d="M900.0,290.0 Q904.7,180.3 905.0,70.6" stroke="#4f8f34" stroke-width="1.7" fill="none"/>
<ellipse cx="903.8" cy="213.2" rx="1.3" ry="1.9" fill="#bcd675"/>
<ellipse cx="902.4" cy="209.9" rx="1.3" ry="1.9" fill="#c6dc84"/>
<ellipse cx="902.8" cy="206.6" rx="1.3" ry="1.9" fill="#92b84c"/>
<ellipse cx="903.9" cy="203.3" rx="1.3" ry="1.9" fill="#bcd675"/>
<ellipse cx="904.0" cy="199.9" rx="1.3" ry="1.9" fill="#c6dc84"/>
<ellipse cx="902.8" cy="196.6" rx="1.3" ry="1.9" fill="#bcd675"/>
<ellipse cx="902.6" cy="193.3" rx="1.3" ry="1.9" fill="#c6dc84"/>
<ellipse cx="903.9" cy="190.0" rx="1.3" ry="1.9" fill="#c6dc84"/>
<ellipse cx="904.0" cy="186.7" rx="1.3" ry="1.9" fill="#c6dc84"/>
<ellipse cx="902.0" cy="183.4" rx="1.3" ry="1.9" fill="#92b84c"/>
<ellipse cx="903.2" cy="180.0" rx="1.3" ry="1.9" fill="#92b84c"/>
<ellipse cx="903.2" cy="176.7" rx="1.3" ry="1.9" fill="#c6dc84"/>
<ellipse cx="903.5" cy="173.4" rx="1.3" ry="1.9" fill="#a9c95e"/>
<ellipse cx="904.3" cy="170.1" rx="1.3" ry="1.9" fill="#92b84c"/>
<ellipse cx="902.9" cy="166.8" rx="1.3" ry="1.9" fill="#92b84c"/>
<ellipse cx="905.0" cy="163.5" rx="1.3" ry="1.9" fill="#a9c95e"/>
<ellipse cx="902.9" cy="160.1" rx="1.3" ry="1.9" fill="#9fc258"/>
<ellipse cx="905.2" cy="156.8" rx="1.3" ry="1.9" fill="#bcd675"/>
<ellipse cx="904.2" cy="153.5" rx="1.3" ry="1.9" fill="#92b84c"/>
<ellipse cx="904.6" cy="150.2" rx="1.3" ry="1.9" fill="#a9c95e"/>
<ellipse cx="904.7" cy="146.9" rx="1.3" ry="1.9" fill="#bcd675"/>
<ellipse cx="905.5" cy="143.6" rx="1.3" ry="1.9" fill="#92b84c"/>
<ellipse cx="903.7" cy="140.2" rx="1.3" ry="1.9" fill="#a9c95e"/>
<ellipse cx="904.6" cy="136.9" rx="1.3" ry="1.9" fill="#bcd675"/>
<ellipse cx="903.7" cy="133.6" rx="1.3" ry="1.9" fill="#c6dc84"/>
<ellipse cx="904.1" cy="130.3" rx="1.3" ry="1.9" fill="#bcd675"/>
<ellipse cx="903.8" cy="127.0" rx="1.3" ry="1.9" fill="#c6dc84"/>
<ellipse cx="905.3" cy="123.7" rx="1.3" ry="1.9" fill="#bcd675"/>
<ellipse cx="904.9" cy="120.3" rx="1.3" ry="1.9" fill="#9fc258"/>
<ellipse cx="905.8" cy="117.0" rx="1.3" ry="1.9" fill="#a9c95e"/>
<ellipse cx="905.1" cy="113.7" rx="1.3" ry="1.9" fill="#9fc258"/>
<ellipse cx="905.4" cy="110.4" rx="1.3" ry="1.9" fill="#92b84c"/>
<ellipse cx="904.1" cy="107.1" rx="1.3" ry="1.9" fill="#bcd675"/>
<ellipse cx="904.9" cy="103.8" rx="1.3" ry="1.9" fill="#c6dc84"/>
<ellipse cx="905.2" cy="100.4" rx="1.3" ry="1.9" fill="#a9c95e"/>
<ellipse cx="905.0" cy="97.1" rx="1.3" ry="1.9" fill="#92b84c"/>
<ellipse cx="904.7" cy="93.8" rx="1.3" ry="1.9" fill="#bcd675"/>
<ellipse cx="904.9" cy="90.5" rx="1.3" ry="1.9" fill="#9fc258"/>
<ellipse cx="904.0" cy="87.2" rx="1.3" ry="1.9" fill="#c6dc84"/>
<ellipse cx="905.8" cy="83.9" rx="1.3" ry="1.9" fill="#c6dc84"/>
<ellipse cx="904.4" cy="80.5" rx="1.3" ry="1.9" fill="#bcd675"/>
<ellipse cx="905.1" cy="77.2" rx="1.3" ry="1.9" fill="#a9c95e"/>
<ellipse cx="904.3" cy="73.9" rx="1.3" ry="1.9" fill="#92b84c"/>
<ellipse cx="904.9" cy="70.6" rx="1.3" ry="1.9" fill="#9fc258"/>
<path d="M912.0,290.0 Q918.0,186.0 924.0,82.0" stroke="#4f8f34" stroke-width="1.7" fill="none"/>
<ellipse cx="915.5" cy="217.2" rx="1.3" ry="1.9" fill="#c6dc84"/>
<ellipse cx="916.0" cy="213.9" rx="1.3" ry="1.9" fill="#c6dc84"/>
<ellipse cx="918.2" cy="210.6" rx="1.3" ry="1.9" fill="#a9c95e"/>
<ellipse cx="915.7" cy="207.3" rx="1.3" ry="1.9" fill="#92b84c"/>
<ellipse cx="917.4" cy="204.0" rx="1.3" ry="1.9" fill="#a9c95e"/>
<ellipse cx="915.6" cy="200.7" rx="1.3" ry="1.9" fill="#a9c95e"/>
<ellipse cx="917.9" cy="197.4" rx="1.3" ry="1.9" fill="#92b84c"/>
<ellipse cx="918.5" cy="194.1" rx="1.3" ry="1.9" fill="#a9c95e"/>
<ellipse cx="917.7" cy="190.8" rx="1.3" ry="1.9" fill="#c6dc84"/>
<ellipse cx="918.7" cy="187.5" rx="1.3" ry="1.9" fill="#bcd675"/>
<ellipse cx="916.7" cy="184.2" rx="1.3" ry="1.9" fill="#c6dc84"/>
<ellipse cx="918.6" cy="180.9" rx="1.3" ry="1.9" fill="#92b84c"/>
<ellipse cx="917.3" cy="177.6" rx="1.3" ry="1.9" fill="#92b84c"/>
<ellipse cx="918.2" cy="174.3" rx="1.3" ry="1.9" fill="#9fc258"/>
<ellipse cx="919.0" cy="171.0" rx="1.3" ry="1.9" fill="#bcd675"/>
<ellipse cx="918.4" cy="167.7" rx="1.3" ry="1.9" fill="#92b84c"/>
<ellipse cx="919.0" cy="164.4" rx="1.3" ry="1.9" fill="#9fc258"/>
<ellipse cx="918.2" cy="161.1" rx="1.3" ry="1.9" fill="#92b84c"/>
<ellipse cx="919.1" cy="157.8" rx="1.3" ry="1.9" fill="#c6dc84"/>
<ellipse cx="919.5" cy="154.5" rx="1.3" ry="1.9" fill="#9fc258"/>
<ellipse cx="921.3" cy="151.2" rx="1.3" ry="1.9" fill="#9fc258"/>
<ellipse cx="919.8" cy="148.0" rx="1.3" ry="1.9" fill="#bcd675"/>
<ellipse cx="920.8" cy="144.7" rx="1.3" ry="1.9" fill="#a9c95e"/>
<ellipse cx="920.1" cy="141.4" rx="1.3" ry="1.9" fill="#92b84c"/>
<ellipse cx="921.3" cy="138.1" rx="1.3" ry="1.9" fill="#bcd675"/>
<ellipse cx="921.2" cy="134.8" rx="1.3" ry="1.9" fill="#a9c95e"/>
<ellipse cx="921.8" cy="131.5" rx="1.3" ry="1.9" fill="#a9c95e"/>
<ellipse cx="921.1" cy="128.2" rx="1.3" ry="1.9" fill="#9fc258"/>
<ellipse cx="922.4" cy="124.9" rx="1.3" ry="1.9" fill="#9fc258"/>
<ellipse cx="921.9" cy="121.6" rx="1.3" ry="1.9" fill="#c6dc84"/>
<ellipse cx="921.4" cy="118.3" rx="1.3" ry="1.9" fill="#a9c95e"/>
<ellipse cx="921.1" cy="115.0" rx="1.3" ry="1.9" fill="#c6dc84"/>
<ellipse cx="922.5" cy="111.7" rx="1.3" ry="1.9" fill="#a9c95e"/>
<ellipse cx="923.1" cy="108.4" rx="1.3" ry="1.9" fill="#9fc258"/>
<ellipse cx="922.9" cy="105.1" rx="1.3" ry="1.9" fill="#9fc258"/>
<ellipse cx="922.1" cy="101.8" rx="1.3" ry="1.9" fill="#9fc258"/>
<ellipse cx="923.8" cy="98.5" rx="1.3" ry="1.9" fill="#a9c95e"/>
<ellipse cx="922.6" cy="95.2" rx="1.3" ry="1.9" fill="#c6dc84"/>
<ellipse cx="923.7" cy="91.9" rx="1.3" ry="1.9" fill="#bcd675"/>
<ellipse cx="922.8" cy="88.6" rx="1.3" ry="1.9" fill="#bcd675"/>
<ellipse cx="924.6" cy="85.3" rx="1.3" ry="1.9" fill="#c6dc84"/>
<ellipse cx="924.5" cy="82.0" rx="1.3" ry="1.9" fill="#a9c95e"/>
<path d="M858.0,290.0 Q855.2,200.0 855.0,110.0" stroke="#4f8f34" stroke-width="1.7" fill="none"/>
<ellipse cx="857.4" cy="227.0" rx="1.3" ry="1.9" fill="#92b84c"/>
<ellipse cx="856.5" cy="223.7" rx="1.3" ry="1.9" fill="#92b84c"/>
<ellipse cx="857.4" cy="220.3" rx="1.3" ry="1.9" fill="#bcd675"/>
<ellipse cx="855.9" cy="217.0" rx="1.3" ry="1.9" fill="#92b84c"/>
<ellipse cx="854.6" cy="213.6" rx="1.3" ry="1.9" fill="#9fc258"/>
<ellipse cx="856.5" cy="210.3" rx="1.3" ry="1.9" fill="#a9c95e"/>
<ellipse cx="856.0" cy="206.9" rx="1.3" ry="1.9" fill="#9fc258"/>
<ellipse cx="854.5" cy="203.6" rx="1.3" ry="1.9" fill="#a9c95e"/>
<ellipse cx="856.7" cy="200.3" rx="1.3" ry="1.9" fill="#c6dc84"/>
<ellipse cx="856.0" cy="196.9" rx="1.3" ry="1.9" fill="#c6dc84"/>
<ellipse cx="855.6" cy="193.6" rx="1.3" ry="1.9" fill="#a9c95e"/>
<ellipse cx="856.2" cy="190.2" rx="1.3" ry="1.9" fill="#9fc258"/>
<ellipse cx="855.9" cy="186.9" rx="1.3" ry="1.9" fill="#bcd675"/>
<ellipse cx="855.5" cy="183.5" rx="1.3" ry="1.9" fill="#c6dc84"/>
<ellipse cx="855.7" cy="180.2" rx="1.3" ry="1.9" fill="#a9c95e"/>
<ellipse cx="855.9" cy="176.9" rx="1.3" ry="1.9" fill="#bcd675"/>
<ellipse cx="856.5" cy="173.5" rx="1.3" ry="1.9" fill="#a9c95e"/>
<ellipse cx="855.2" cy="170.2" rx="1.3" ry="1.9" fill="#a9c95e"/>
<ellipse cx="855.9" cy="166.8" rx="1.3" ry="1.9" fill="#a9c95e"/>
<ellipse cx="856.6" cy="163.5" rx="1.3" ry="1.9" fill="#a9c95e"/>
<ellipse cx="854.6" cy="160.1" rx="1.3" ry="1.9" fill="#a9c95e"/>
<ellipse cx="854.3" cy="156.8" rx="1.3" ry="1.9" fill="#a9c95e"/>
<ellipse cx="854.7" cy="153.5" rx="1.3" ry="1.9" fill="#9fc258"/>
<ellipse cx="854.6" cy="150.1" rx="1.3" ry="1.9" fill="#bcd675"/>
<ellipse cx="856.2" cy="146.8" rx="1.3" ry="1.9" fill="#92b84c"/>
<ellipse cx="855.8" cy="143.4" rx="1.3" ry="1.9" fill="#bcd675"/>
<ellipse cx="855.7" cy="140.1" rx="1.3" ry="1.9" fill="#a9c95e"/>
<ellipse cx="854.6" cy="136.7" rx="1.3" ry="1.9" fill="#9fc258"/>
<ellipse cx="855.6" cy="133.4" rx="1.3" ry="1.9" fill="#c6dc84"/>
<ellipse cx="855.4" cy="130.1" rx="1.3" ry="1.9" fill="#92b84c"/>
<ellipse cx="856.0" cy="126.7" rx="1.3" ry="1.9" fill="#a9c95e"/>
<ellipse cx="855.5" cy="123.4" rx="1.3" ry="1.9" fill="#a9c95e"/>
<ellipse cx="854.1" cy="120.0" rx="1.3" ry="1.9" fill="#9fc258"/>
<ellipse cx="854.2" cy="116.7" rx="1.3" ry="1.9" fill="#92b84c"/>
<ellipse cx="854.6" cy="113.3" rx="1.3" ry="1.9" fill="#9fc258"/>
<ellipse cx="854.3" cy="110.0" rx="1.3" ry="1.9" fill="#c6dc84"/>
<path d="M895.0,290.0 Q895.1,205.0 893.0,120.0" stroke="#4f8f34" stroke-width="1.7" fill="none"/>
<ellipse cx="894.2" cy="230.5" rx="1.3" ry="1.9" fill="#9fc258"/>
<ellipse cx="895.5" cy="227.2" rx="1.3" ry="1.9" fill="#c6dc84"/>
<ellipse cx="895.3" cy="223.8" rx="1.3" ry="1.9" fill="#bcd675"/>
<ellipse cx="896.2" cy="220.5" rx="1.3" ry="1.9" fill="#a9c95e"/>
<ellipse cx="894.3" cy="217.1" rx="1.3" ry="1.9" fill="#bcd675"/>
<ellipse cx="895.0" cy="213.8" rx="1.3" ry="1.9" fill="#c6dc84"/>
<ellipse cx="894.5" cy="210.4" rx="1.3" ry="1.9" fill="#c6dc84"/>
<ellipse cx="895.9" cy="207.1" rx="1.3" ry="1.9" fill="#9fc258"/>
<ellipse cx="894.0" cy="203.7" rx="1.3" ry="1.9" fill="#92b84c"/>
<ellipse cx="893.2" cy="200.4" rx="1.3" ry="1.9" fill="#9fc258"/>
<ellipse cx="894.0" cy="197.0" rx="1.3" ry="1.9" fill="#9fc258"/>
<ellipse cx="895.0" cy="193.7" rx="1.3" ry="1.9" fill="#a9c95e"/>
<ellipse cx="895.3" cy="190.3" rx="1.3" ry="1.9" fill="#9fc258"/>
<ellipse cx="895.2" cy="187.0" rx="1.3" ry="1.9" fill="#9fc258"/>
<ellipse cx="894.1" cy="183.6" rx="1.3" ry="1.9" fill="#bcd675"/>
<ellipse cx="893.9" cy="180.3" rx="1.3" ry="1.9" fill="#c6dc84"/>
<ellipse cx="894.4" cy="176.9" rx="1.3" ry="1.9" fill="#bcd675"/>
<ellipse cx="894.9" cy="173.6" rx="1.3" ry="1.9" fill="#92b84c"/>
<ellipse cx="894.5" cy="170.2" rx="1.3" ry="1.9" fill="#92b84c"/>
<ellipse cx="893.4" cy="166.9" rx="1.3" ry="1.9" fill="#c6dc84"/>
<ellipse cx="893.1" cy="163.5" rx="1.3" ry="1.9" fill="#a9c95e"/>
<ellipse cx="893.3" cy="160.2" rx="1.3" ry="1.9" fill="#bcd675"/>
<ellipse cx="894.6" cy="156.8" rx="1.3" ry="1.9" fill="#9fc258"/>
<ellipse cx="892.9" cy="153.5" rx="1.3" ry="1.9" fill="#9fc258"/>
<ellipse cx="894.1" cy="150.1" rx="1.3" ry="1.9" fill="#c6dc84"/>
<ellipse cx="893.3" cy="146.8" rx="1.3" ry="1.9" fill="#a9c95e"/>
<ellipse cx="893.6" cy="143.4" rx="1.3" ry="1.9" fill="#c6dc84"/>
<ellipse cx="894.1" cy="140.1" rx="1.3" ry="1.9" fill="#bcd675"/>
<ellipse cx="894.0" cy="136.7" rx="1.3" ry="1.9" fill="#bcd675"/>
<ellipse cx="892.9" cy="133.4" rx="1.3" ry="1.9" fill="#a9c95e"/>
<ellipse cx="893.6" cy="130.0" rx="1.3" ry="1.9" fill="#c6dc84"/>
<ellipse cx="893.6" cy="126.7" rx="1.3" ry="1.9" fill="#92b84c"/>
<ellipse cx="893.3" cy="123.3" rx="1.3" ry="1.9" fill="#a9c95e"/>
<ellipse cx="893.6" cy="120.0" rx="1.3" ry="1.9" fill="#c6dc84"/>
<g clip-path="url(#cpb)">
<path d="M1040.0,442.0 L1031.0,400.0 L1008.0,350.0 L1000.0,300.0 L1000.0,262.0 L1018.0,232.0 L1057.0,220.0 L1100.0,232.0 L1124.0,262.0 L1146.0,300.0 L1134.0,350.0 L1096.0,400.0 L1075.0,442.0Z" fill="#1c561c" opacity="0.75" filter="url(#blur6)"/>
<path d="M1043.5,442.0 L1037.5,322.0 L1057.5,292.0 L1077.5,322.0 L1071.5,442.0 Z" fill="#215e1e"/>
<path d="M1056.4,442.0 L1050.5,343.3" stroke="#32902c" stroke-width="3.2" fill="none"/>
<path d="M1059.3,442.0 L1061.9,327.6" stroke="#379630" stroke-width="2.2" fill="none"/>
<path d="M1058.9,442.0 L1058.4,316.1" stroke="#226f20" stroke-width="2.7" fill="none"/>
<path d="M1059.1,442.0 L1058.3,325.1" stroke="#2c8a28" stroke-width="2.8" fill="none"/>
<path d="M1058.6,442.0 L1064.1,362.6" stroke="#277c24" stroke-width="3.2" fill="none"/>
<path d="M1062.1,442.0 L1065.4,385.1" stroke="#44a338" stroke-width="2.3" fill="none"/>
<path d="M1060.2,442.0 L1068.4,399.7" stroke="#50ac42" stroke-width="2.8" fill="none"/>
<path d="M1057.7,442.0 L1050.6,428.8" stroke="#277c24" stroke-width="2.5" fill="none"/>
<path d="M1058.9,442.0 L1060.8,428.3" stroke="#277c24" stroke-width="2.2" fill="none"/>
<path d="M1055.9,442.0 L1048.0,400.5" stroke="#226f20" stroke-width="2.9" fill="none"/>
<path d="M1052.7,442.0 L1051.5,356.0" stroke="#226f20" stroke-width="3.3" fill="none"/>
<path d="M1060.3,442.0 L1057.3,346.8" stroke="#2c8a28" stroke-width="2.3" fill="none"/>
<path d="M1058.9,442.0 L1057.9,386.9" stroke="#50ac42" stroke-width="3.2" fill="none"/>
<path d="M1061.7,442.0 L1063.2,384.0" stroke="#50ac42" stroke-width="3.1" fill="none"/>
<path d="M1054.1,442.0 L1048.6,397.5" stroke="#50ac42" stroke-width="3.3" fill="none"/>
<path d="M1058.0,442.0 L1063.3,410.7" stroke="#2c8a28" stroke-width="3.3" fill="none"/>
<path d="M1056.4,442.0 L1054.0,400.3" stroke="#226f20" stroke-width="2.2" fill="none"/>
<path d="M1059.9,442.0 L1059.5,432.6" stroke="#379630" stroke-width="2.2" fill="none"/>
<path d="M1060.8,442.0 L1059.2,429.9" stroke="#379630" stroke-width="2.9" fill="none"/>
<path d="M1056.3,442.0 L1060.3,433.5" stroke="#277c24" stroke-width="2.5" fill="none"/>
<path d="M1057.5,442.0 L1051.1,403.1" stroke="#2c8a28" stroke-width="2.2" fill="none"/>
<path d="M1060.3,442.0 L1058.3,408.3" stroke="#32902c" stroke-width="2.4" fill="none"/>
<path d="M1053.9,442.0 L1055.0,402.7" stroke="#226f20" stroke-width="3.0" fill="none"/>
<path d="M1060.0,442.0 L1066.5,367.1" stroke="#379630" stroke-width="3.0" fill="none"/>
<path d="M1054.5,442.0 L1055.4,397.3" stroke="#50ac42" stroke-width="2.3" fill="none"/>
<path d="M1056.0,442.0 L1058.8,392.2" stroke="#277c24" stroke-width="2.3" fill="none"/>
<path d="M1057.7,442.0 L1058.3,393.8" stroke="#226f20" stroke-width="3.1" fill="none"/>
<path d="M1054.8,442.0 L1056.2,401.2" stroke="#2c8a28" stroke-width="2.7" fill="none"/>
<path d="M1054.4,442.0 L1054.3,411.8" stroke="#226f20" stroke-width="2.5" fill="none"/>
<path d="M1057.0,442.0 L1061.3,398.6" stroke="#32902c" stroke-width="2.9" fill="none"/>
<path d="M1059.7,442.0 L1059.9,354.2" stroke="#379630" stroke-width="3.3" fill="none"/>
<path d="M1054.4,442.0 L1056.9,409.6" stroke="#32902c" stroke-width="2.7" fill="none"/>
<path d="M1058.3,442.0 L1061.9,397.7" stroke="#50ac42" stroke-width="2.9" fill="none"/>
<path d="M1057.9,442.0 L1068.0,349.7" stroke="#2c8a28" stroke-width="3.1" fill="none"/>
<path d="M1056.5,442.0 L1057.4,405.6" stroke="#379630" stroke-width="3.2" fill="none"/>
<path d="M1057.8,442.0 L1054.2,428.8" stroke="#50ac42" stroke-width="3.4" fill="none"/>
<path d="M1056.3,442.0 L1047.5,335.3" stroke="#277c24" stroke-width="3.2" fill="none"/>
<path d="M1061.1,442.0 L1062.6,422.4" stroke="#2c8a28" stroke-width="2.6" fill="none"/>
<path d="M1057.7,442.0 L1065.2,397.4" stroke="#32902c" stroke-width="3.3" fill="none"/>
<path d="M1054.0,442.0 L1050.7,353.8" stroke="#44a338" stroke-width="3.0" fill="none"/>
<path d="M1055.8,442.0 L1052.0,320.0" stroke="#2c8a28" stroke-width="4" fill="none"/>
<path d="M1057.7,442.0 L1058.0,300.0" stroke="#277c24" stroke-width="4" fill="none"/>
<path d="M1059.5,442.0 L1064.0,320.0" stroke="#2c8a28" stroke-width="4" fill="none"/>
<path d="M1054.0,442.0 L1046.0,340.0" stroke="#226f20" stroke-width="3" fill="none"/>
<path d="M1061.2,442.0 L1070.0,340.0" stroke="#379630" stroke-width="3" fill="none"/>
<path d="M1052.2,342.8 L1048.8,329.1 L1045.3,315.5 L1041.6,301.9 L1037.7,288.3 L1032.9,275.1 L1027.9,261.9 L1022.8,248.8 L1017.6,235.7 L1012.2,222.8 L1006.6,209.9 L1000.9,197.0 L995.0,184.2 L989.0,171.5 L982.9,158.9 L976.5,146.3 L970.0,133.8 L970.0,133.8 L975.8,146.7 L981.4,159.5 L986.9,172.5 L992.3,185.4 L997.5,198.4 L1002.6,211.5 L1007.6,224.6 L1012.4,237.7 L1017.0,250.9 L1021.5,264.2 L1025.9,277.5 L1030.1,290.8 L1035.0,304.0 L1039.7,317.2 L1044.3,330.5 L1048.8,343.8Z" fill="#2c8a28"/>
<path d="M1063.7,328.0 L1066.8,315.4 L1070.0,302.8 L1073.2,290.3 L1076.5,277.7 L1079.0,265.0 L1081.5,252.3 L1084.1,239.6 L1086.8,226.9 L1089.4,214.2 L1092.2,201.6 L1094.9,188.9 L1097.8,176.3 L1100.6,163.6 L1103.5,151.0 L1106.5,138.3 L1109.4,125.7 L1109.4,125.7 L1105.6,138.1 L1102.0,150.6 L1098.4,163.0 L1094.9,175.5 L1091.4,188.0 L1088.0,200.6 L1084.7,213.1 L1081.4,225.6 L1078.1,238.2 L1074.9,250.8 L1071.8,263.4 L1068.7,276.0 L1066.5,288.8 L1064.3,301.6 L1062.2,314.4 L1060.2,327.3Z" fill="#277c24"/>
<path d="M1060.2,316.3 L1061.9,306.3 L1063.7,296.3 L1065.5,286.3 L1067.3,276.3 L1068.3,266.2 L1069.3,256.1 L1070.3,245.9 L1071.4,235.8 L1072.5,225.7 L1073.6,215.6 L1074.7,205.5 L1075.8,195.4 L1076.9,185.3 L1078.1,175.2 L1079.3,165.1 L1080.4,155.0 L1080.4,155.0 L1078.4,165.0 L1076.5,175.0 L1074.7,185.0 L1072.9,195.0 L1071.1,205.0 L1069.3,215.0 L1067.6,225.1 L1065.9,235.1 L1064.2,245.1 L1062.6,255.2 L1060.9,265.2 L1059.4,275.3 L1058.6,285.4 L1057.9,295.6 L1057.3,305.8 L1056.6,315.9Z" fill="#44a338"/>
<path d="M1060.1,324.9 L1059.7,317.1 L1059.3,309.3 L1058.9,301.5 L1058.4,293.7 L1057.1,286.1 L1055.8,278.4 L1054.5,270.7 L1053.1,263.1 L1051.7,255.4 L1050.3,247.8 L1048.9,240.1 L1047.5,232.5 L1046.0,224.9 L1044.5,217.2 L1042.9,209.6 L1041.3,202.0 L1041.3,202.0 L1042.1,209.7 L1042.9,217.5 L1043.7,225.2 L1044.5,232.9 L1045.3,240.7 L1046.1,248.4 L1046.9,256.1 L1047.6,263.8 L1048.4,271.6 L1049.1,279.3 L1049.8,287.0 L1050.5,294.8 L1052.0,302.4 L1053.5,310.0 L1055.0,317.6 L1056.5,325.3Z" fill="#379630"/>
<path d="M1065.8,363.1 L1069.3,351.1 L1072.8,339.2 L1076.3,327.3 L1080.0,315.4 L1082.8,303.3 L1085.7,291.3 L1088.7,279.2 L1091.7,267.2 L1094.7,255.1 L1097.8,243.1 L1101.0,231.1 L1104.2,219.1 L1107.5,207.1 L1110.8,195.1 L1114.1,183.2 L1117.5,171.2 L1117.5,171.2 L1113.3,182.9 L1109.3,194.7 L1105.3,206.5 L1101.4,218.3 L1097.5,230.1 L1093.7,241.9 L1090.0,253.8 L1086.3,265.7 L1082.7,277.6 L1079.1,289.5 L1075.6,301.4 L1072.2,313.4 L1069.7,325.6 L1067.2,337.8 L1064.7,350.0 L1062.3,362.2Z" fill="#226f20"/>
<path d="M1066.8,385.7 L1071.9,376.6 L1077.1,367.5 L1082.4,358.5 L1087.8,349.6 L1092.7,340.4 L1097.7,331.3 L1102.9,322.3 L1108.2,313.4 L1113.6,304.5 L1119.1,295.7 L1124.8,286.9 L1130.6,278.2 L1136.5,269.6 L1142.6,261.1 L1148.7,252.6 L1155.0,244.2 L1155.0,244.2 L1148.2,252.2 L1141.5,260.3 L1134.9,268.4 L1128.5,276.7 L1122.2,285.1 L1116.0,293.6 L1110.0,302.1 L1104.1,310.7 L1098.3,319.5 L1092.6,328.3 L1087.1,337.2 L1081.7,346.2 L1077.1,355.6 L1072.6,365.2 L1068.2,374.7 L1064.0,384.4Z" fill="#32902c"/>
<path d="M1069.5,400.4 L1074.6,392.7 L1079.8,385.1 L1085.0,377.6 L1090.3,370.1 L1095.2,362.3 L1100.1,354.6 L1105.1,346.9 L1110.1,339.3 L1115.3,331.7 L1120.5,324.2 L1125.8,316.7 L1131.2,309.2 L1136.7,301.8 L1142.2,294.5 L1147.8,287.2 L1153.4,279.9 L1153.4,279.9 L1147.3,286.8 L1141.2,293.7 L1135.3,300.8 L1129.4,307.9 L1123.6,315.0 L1117.9,322.3 L1112.3,329.5 L1106.8,336.9 L1101.3,344.3 L1095.9,351.7 L1090.5,359.2 L1085.3,366.8 L1080.6,374.8 L1076.1,382.8 L1071.6,390.9 L1067.2,399.0Z" fill="#2c8a28"/>
<path d="M1051.8,428.2 L1048.7,421.0 L1045.4,413.8 L1042.1,406.6 L1038.6,399.6 L1034.5,392.9 L1030.3,386.2 L1026.0,379.6 L1021.6,373.1 L1017.1,366.7 L1012.5,360.4 L1007.8,354.1 L1003.0,347.8 L998.1,341.7 L993.2,335.6 L988.1,329.6 L982.9,323.7 L982.9,323.7 L987.6,330.0 L992.2,336.3 L996.8,342.7 L1001.2,349.2 L1005.6,355.6 L1009.8,362.2 L1014.0,368.8 L1018.1,375.4 L1022.0,382.1 L1025.9,388.9 L1029.7,395.7 L1033.4,402.5 L1037.5,409.1 L1041.6,415.8 L1045.5,422.6 L1049.4,429.4Z" fill="#379630"/>
<path d="M1061.9,429.1 L1066.4,423.6 L1071.0,418.2 L1075.6,412.9 L1080.3,407.6 L1084.6,402.0 L1088.9,396.4 L1093.3,390.9 L1097.7,385.4 L1102.2,380.0 L1106.8,374.6 L1111.4,369.2 L1116.1,364.0 L1120.8,358.7 L1125.6,353.5 L1130.5,348.3 L1135.4,343.2 L1135.4,343.2 L1130.1,347.9 L1124.8,352.7 L1119.6,357.5 L1114.5,362.4 L1109.4,367.4 L1104.4,372.4 L1099.5,377.5 L1094.6,382.6 L1089.8,387.9 L1085.0,393.1 L1080.3,398.5 L1075.6,403.8 L1071.6,409.7 L1067.6,415.6 L1063.6,421.5 L1059.7,427.5Z" fill="#379630"/>
<path d="M1049.2,399.9 L1044.4,389.7 L1039.5,379.6 L1034.4,369.6 L1029.2,359.7 L1023.2,350.2 L1017.1,340.9 L1010.8,331.6 L1004.4,322.5 L997.8,313.5 L991.1,304.6 L984.2,295.9 L977.1,287.2 L969.9,278.7 L962.5,270.3 L954.9,262.0 L947.2,253.9 L947.2,253.9 L954.5,262.5 L961.6,271.1 L968.5,279.8 L975.3,288.6 L982.0,297.5 L988.5,306.5 L994.8,315.7 L1001.0,324.9 L1007.0,334.2 L1012.8,343.6 L1018.5,353.1 L1024.0,362.7 L1029.9,372.2 L1035.7,381.7 L1041.3,391.3 L1046.7,401.1Z" fill="#44a338"/>
<path d="M1053.3,355.7 L1052.0,346.2 L1050.7,336.7 L1049.4,327.2 L1048.1,317.7 L1045.8,308.4 L1043.5,299.1 L1041.2,289.9 L1038.9,280.6 L1036.5,271.3 L1034.1,262.1 L1031.6,252.9 L1029.1,243.6 L1026.6,234.4 L1024.0,225.2 L1021.3,216.1 L1018.6,206.9 L1018.6,206.9 L1020.5,216.3 L1022.4,225.6 L1024.3,235.0 L1026.2,244.3 L1028.1,253.7 L1029.9,263.1 L1031.7,272.4 L1033.5,281.8 L1035.2,291.2 L1036.9,300.6 L1038.6,309.9 L1040.2,319.3 L1042.7,328.6 L1045.1,337.8 L1047.4,347.1 L1049.8,356.3Z" fill="#44a338"/>
<path d="M1059.1,346.8 L1059.8,336.4 L1060.5,326.0 L1061.2,315.5 L1061.9,305.1 L1061.8,294.7 L1061.7,284.3 L1061.5,273.8 L1061.4,263.4 L1061.2,253.0 L1061.1,242.6 L1060.9,232.1 L1060.8,221.7 L1060.6,211.3 L1060.4,200.9 L1060.2,190.4 L1060.0,180.0 L1060.0,180.0 L1059.4,190.4 L1058.8,200.8 L1058.3,211.2 L1057.8,221.7 L1057.3,232.1 L1056.8,242.5 L1056.3,252.9 L1055.8,263.3 L1055.3,273.8 L1054.9,284.2 L1054.4,294.6 L1053.9,305.0 L1054.3,315.4 L1054.7,325.9 L1055.1,336.3 L1055.5,346.7Z" fill="#50ac42"/>
<path d="M1059.6,386.6 L1058.7,377.9 L1057.7,369.2 L1056.6,360.5 L1055.6,351.8 L1053.6,343.2 L1051.6,334.7 L1049.6,326.2 L1047.6,317.7 L1045.5,309.2 L1043.4,300.7 L1041.3,292.2 L1039.1,283.8 L1036.9,275.3 L1034.7,266.8 L1032.4,258.4 L1030.0,250.0 L1030.0,250.0 L1031.5,258.6 L1033.1,267.2 L1034.7,275.8 L1036.2,284.4 L1037.8,293.0 L1039.3,301.6 L1040.7,310.2 L1042.2,318.8 L1043.6,327.4 L1045.0,336.0 L1046.4,344.6 L1047.7,353.2 L1049.8,361.7 L1052.0,370.2 L1054.0,378.7 L1056.1,387.2Z" fill="#44a338"/>
<path d="M1064.9,384.3 L1066.9,375.4 L1069.0,366.4 L1071.0,357.5 L1073.1,348.6 L1074.4,339.5 L1075.7,330.5 L1077.0,321.4 L1078.4,312.4 L1079.8,303.3 L1081.2,294.3 L1082.6,285.2 L1084.1,276.2 L1085.5,267.1 L1087.0,258.1 L1088.5,249.1 L1090.0,240.0 L1090.0,240.0 L1087.7,248.9 L1085.5,257.8 L1083.3,266.7 L1081.1,275.6 L1079.0,284.5 L1077.0,293.5 L1074.9,302.4 L1072.9,311.3 L1071.0,320.3 L1069.0,329.3 L1067.1,338.2 L1065.2,347.2 L1064.2,356.4 L1063.2,365.5 L1062.3,374.6 L1061.4,383.8Z" fill="#32902c"/>
<path d="M1050.1,396.9 L1047.9,389.3 L1045.6,381.6 L1043.3,374.0 L1040.9,366.4 L1037.8,359.0 L1034.6,351.7 L1031.4,344.4 L1028.1,337.2 L1024.8,329.9 L1021.4,322.7 L1018.0,315.5 L1014.5,308.3 L1011.0,301.2 L1007.4,294.1 L1003.7,287.0 L1000.0,280.0 L1000.0,280.0 L1003.1,287.3 L1006.1,294.7 L1009.2,302.0 L1012.1,309.4 L1015.1,316.8 L1018.0,324.2 L1020.8,331.6 L1023.6,339.0 L1026.4,346.4 L1029.1,353.9 L1031.7,361.4 L1034.4,368.9 L1037.6,376.1 L1040.8,383.4 L1044.0,390.7 L1047.1,398.0Z" fill="#2c8a28"/>
<path d="M1064.8,411.2 L1067.8,403.7 L1070.8,396.2 L1074.0,388.7 L1077.1,381.3 L1079.6,373.6 L1082.2,365.9 L1084.7,358.3 L1087.4,350.6 L1090.1,343.0 L1092.8,335.4 L1095.6,327.8 L1098.4,320.2 L1101.2,312.7 L1104.1,305.1 L1107.1,297.6 L1110.0,290.0 L1110.0,290.0 L1106.4,297.3 L1102.9,304.6 L1099.4,311.9 L1096.0,319.2 L1092.6,326.6 L1089.3,334.0 L1086.1,341.4 L1082.8,348.9 L1079.7,356.3 L1076.6,363.8 L1073.5,371.4 L1070.5,378.9 L1068.3,386.7 L1066.1,394.5 L1063.9,402.4 L1061.8,410.2Z" fill="#50ac42"/>
<path d="M1055.2,399.7 L1052.0,392.9 L1048.7,386.2 L1045.4,379.5 L1042.0,372.8 L1038.0,366.5 L1033.9,360.2 L1029.8,354.0 L1025.6,347.8 L1021.4,341.7 L1017.1,335.6 L1012.7,329.5 L1008.3,323.5 L1003.8,317.6 L999.3,311.7 L994.7,305.8 L990.0,300.0 L990.0,300.0 L994.2,306.2 L998.3,312.4 L1002.4,318.6 L1006.5,324.8 L1010.5,331.1 L1014.4,337.4 L1018.3,343.7 L1022.1,350.1 L1025.9,356.5 L1029.6,362.9 L1033.2,369.3 L1036.8,375.8 L1040.9,382.0 L1044.9,388.3 L1048.9,394.6 L1052.8,400.9Z" fill="#2c8a28"/>
<path d="M1060.5,432.1 L1057.5,425.6 L1054.5,419.1 L1051.3,412.6 L1048.2,406.2 L1044.5,400.0 L1040.7,393.9 L1036.9,387.9 L1033.0,381.8 L1029.1,375.8 L1025.1,369.9 L1021.1,364.0 L1017.0,358.1 L1012.8,352.2 L1008.6,346.4 L1004.4,340.7 L1000.0,335.0 L1000.0,335.0 L1003.9,341.0 L1007.8,347.0 L1011.6,353.0 L1015.4,359.1 L1019.2,365.2 L1022.9,371.3 L1026.5,377.5 L1030.1,383.6 L1033.6,389.8 L1037.0,396.1 L1040.4,402.3 L1043.8,408.6 L1047.6,414.7 L1051.3,420.8 L1054.9,427.0 L1058.5,433.2Z" fill="#2c8a28"/>
<path d="M1060.4,430.6 L1065.5,422.9 L1070.7,415.3 L1076.0,407.8 L1081.4,400.3 L1086.2,392.5 L1091.2,384.7 L1096.2,377.1 L1101.4,369.4 L1106.6,361.8 L1111.8,354.3 L1117.2,346.8 L1122.6,339.4 L1128.1,332.0 L1133.7,324.6 L1139.3,317.3 L1145.0,310.0 L1145.0,310.0 L1138.8,316.9 L1132.7,323.8 L1126.8,330.9 L1120.8,338.0 L1115.0,345.1 L1109.3,352.4 L1103.6,359.7 L1098.0,367.0 L1092.5,374.4 L1087.0,381.9 L1081.6,389.4 L1076.3,397.0 L1071.6,405.0 L1067.0,413.0 L1062.5,421.1 L1058.1,429.2Z" fill="#50ac42"/>
<path d="M1061.1,434.2 L1066.5,429.0 L1071.9,423.9 L1077.4,418.8 L1082.9,413.9 L1088.1,408.6 L1093.4,403.4 L1098.8,398.2 L1104.2,393.2 L1109.7,388.2 L1115.3,383.2 L1120.9,378.4 L1126.6,373.6 L1132.4,368.8 L1138.2,364.2 L1144.1,359.6 L1150.0,355.0 L1150.0,355.0 L1143.8,359.1 L1137.6,363.4 L1131.5,367.7 L1125.4,372.1 L1119.5,376.6 L1113.6,381.2 L1107.7,385.8 L1101.9,390.6 L1096.2,395.4 L1090.6,400.3 L1085.0,405.2 L1079.4,410.3 L1074.3,415.8 L1069.3,421.4 L1064.3,427.0 L1059.5,432.7Z" fill="#32902c"/>
<path d="M1052.6,402.8 L1050.9,393.7 L1049.0,384.7 L1047.2,375.7 L1045.2,366.6 L1042.6,357.8 L1039.8,349.0 L1037.1,340.3 L1034.3,331.5 L1031.4,322.7 L1028.5,314.0 L1025.6,305.3 L1022.6,296.6 L1019.5,287.9 L1016.4,279.3 L1013.2,270.6 L1010.0,262.0 L1010.0,262.0 L1012.5,270.8 L1015.1,279.7 L1017.6,288.5 L1020.1,297.4 L1022.5,306.2 L1024.9,315.1 L1027.3,324.0 L1029.6,332.9 L1031.9,341.7 L1034.1,350.6 L1036.3,359.6 L1038.5,368.5 L1041.3,377.2 L1044.1,386.0 L1046.9,394.7 L1049.6,403.5Z" fill="#226f20"/>
<path d="M1059.8,408.9 L1064.1,399.7 L1068.4,390.6 L1072.8,381.5 L1077.3,372.4 L1081.2,363.0 L1085.1,353.7 L1089.1,344.4 L1093.2,335.2 L1097.3,325.9 L1101.5,316.7 L1105.8,307.5 L1110.1,298.4 L1114.5,289.3 L1118.9,280.2 L1123.5,271.1 L1128.0,262.0 L1128.0,262.0 L1122.8,270.7 L1117.7,279.5 L1112.7,288.3 L1107.8,297.2 L1102.9,306.1 L1098.1,315.1 L1093.4,324.0 L1088.8,333.1 L1084.2,342.1 L1079.7,351.2 L1075.2,360.4 L1070.9,369.6 L1067.3,379.1 L1063.7,388.6 L1060.3,398.2 L1056.9,407.7Z" fill="#277c24"/>
<path d="M1056.3,402.3 L1052.8,391.7 L1049.3,381.2 L1045.7,370.7 L1042.0,360.2 L1037.6,350.0 L1033.2,339.8 L1028.7,329.7 L1024.2,319.6 L1019.5,309.5 L1014.8,299.5 L1010.1,289.5 L1005.2,279.5 L1000.3,269.6 L995.3,259.7 L990.2,249.8 L985.0,240.0 L985.0,240.0 L989.6,250.1 L994.2,260.2 L998.7,270.3 L1003.2,280.4 L1007.6,290.6 L1011.9,300.8 L1016.1,311.0 L1020.3,321.2 L1024.5,331.5 L1028.5,341.8 L1032.5,352.1 L1036.4,362.4 L1040.8,372.6 L1045.2,382.7 L1049.5,392.9 L1053.7,403.2Z" fill="#32902c"/>
<path d="M1067.7,367.7 L1073.2,358.3 L1078.9,349.0 L1084.6,339.7 L1090.4,330.5 L1095.7,321.0 L1101.1,311.6 L1106.6,302.2 L1112.2,292.9 L1117.9,283.6 L1123.7,274.4 L1129.5,265.2 L1135.5,256.1 L1141.5,247.0 L1147.6,238.0 L1153.8,229.0 L1160.0,220.0 L1160.0,220.0 L1153.2,228.6 L1146.6,237.3 L1140.1,246.0 L1133.6,254.8 L1127.3,263.7 L1121.0,272.6 L1114.8,281.6 L1108.7,290.7 L1102.7,299.8 L1096.8,309.0 L1090.9,318.2 L1085.2,327.5 L1080.1,337.2 L1075.1,346.9 L1070.1,356.7 L1065.3,366.5Z" fill="#226f20"/>
<path d="M1056.5,397.4 L1057.3,387.6 L1058.2,377.9 L1059.0,368.1 L1059.9,358.4 L1060.3,348.6 L1060.6,338.8 L1061.1,329.1 L1061.5,319.3 L1061.9,309.5 L1062.4,299.8 L1062.9,290.0 L1063.4,280.2 L1064.0,270.5 L1064.5,260.7 L1065.1,250.9 L1065.7,241.1 L1065.7,241.1 L1064.6,250.9 L1063.5,260.6 L1062.5,270.3 L1061.5,280.1 L1060.6,289.8 L1059.7,299.6 L1058.8,309.3 L1057.9,319.1 L1057.1,328.8 L1056.3,338.6 L1055.5,348.3 L1054.8,358.1 L1054.6,367.9 L1054.4,377.7 L1054.3,387.5 L1054.2,397.3Z" fill="#277c24"/>
<path d="M1060.3,392.1 L1059.9,382.5 L1059.4,372.8 L1059.0,363.2 L1058.6,353.5 L1057.5,344.0 L1056.5,334.4 L1055.4,324.8 L1054.3,315.2 L1053.2,305.7 L1052.2,296.1 L1051.1,286.5 L1050.0,276.9 L1049.0,267.3 L1047.9,257.7 L1046.9,248.2 L1045.7,238.6 L1045.7,238.6 L1046.1,248.2 L1046.6,257.8 L1047.1,267.5 L1047.6,277.1 L1048.1,286.7 L1048.6,296.4 L1049.1,306.0 L1049.7,315.6 L1050.2,325.3 L1050.8,334.9 L1051.4,344.5 L1052.0,354.1 L1053.3,363.7 L1054.6,373.3 L1056.0,382.8 L1057.3,392.4Z" fill="#32902c"/>
<path d="M1059.5,393.6 L1058.4,383.7 L1057.3,373.8 L1056.2,363.9 L1055.1,354.0 L1053.4,344.2 L1051.7,334.3 L1050.0,324.5 L1048.4,314.7 L1046.7,304.8 L1045.0,295.0 L1043.4,285.2 L1041.7,275.4 L1040.0,265.5 L1038.3,255.7 L1036.7,245.9 L1034.9,236.0 L1034.9,236.0 L1036.1,246.0 L1037.3,255.9 L1038.5,265.8 L1039.7,275.6 L1040.9,285.5 L1042.2,295.4 L1043.4,305.3 L1044.6,315.2 L1045.9,325.1 L1047.2,335.0 L1048.4,344.9 L1049.7,354.8 L1051.6,364.6 L1053.4,374.4 L1055.3,384.2 L1057.1,394.0Z" fill="#226f20"/>
<path d="M1057.5,400.7 L1054.9,393.2 L1052.2,385.8 L1049.4,378.4 L1046.6,371.0 L1043.2,363.9 L1039.8,356.8 L1036.3,349.7 L1032.7,342.6 L1029.1,335.6 L1025.5,328.6 L1021.9,321.6 L1018.2,314.6 L1014.4,307.7 L1010.6,300.7 L1006.8,293.9 L1002.9,287.0 L1002.9,287.0 L1006.2,294.2 L1009.6,301.3 L1012.9,308.5 L1016.1,315.6 L1019.4,322.8 L1022.6,330.0 L1025.7,337.2 L1028.8,344.4 L1031.9,351.7 L1035.0,358.9 L1038.0,366.2 L1041.0,373.5 L1044.5,380.5 L1048.0,387.6 L1051.5,394.6 L1055.0,401.7Z" fill="#50ac42"/>
<path d="M1055.5,411.7 L1055.3,403.6 L1055.1,395.4 L1054.9,387.3 L1054.6,379.2 L1053.6,371.1 L1052.7,363.0 L1051.6,354.9 L1050.6,346.8 L1049.4,338.8 L1048.3,330.7 L1047.1,322.7 L1045.8,314.6 L1044.5,306.6 L1043.2,298.6 L1041.7,290.5 L1040.2,282.5 L1040.2,282.5 L1041.2,290.6 L1042.1,298.7 L1043.0,306.8 L1043.8,314.9 L1044.6,323.0 L1045.4,331.1 L1046.1,339.1 L1046.8,347.2 L1047.4,355.3 L1048.0,363.4 L1048.6,371.5 L1049.1,379.6 L1050.1,387.7 L1051.1,395.7 L1052.1,403.8 L1053.0,411.9Z" fill="#2c8a28"/>
<path d="M1062.6,399.0 L1066.4,388.8 L1070.2,378.6 L1074.1,368.4 L1078.0,358.2 L1081.3,347.8 L1084.7,337.4 L1088.0,327.0 L1091.4,316.6 L1094.8,306.3 L1098.3,295.9 L1101.7,285.6 L1105.2,275.2 L1108.7,264.9 L1112.2,254.5 L1115.7,244.2 L1119.2,233.9 L1119.2,233.9 L1115.1,244.0 L1111.1,254.1 L1107.1,264.3 L1103.2,274.5 L1099.3,284.7 L1095.4,294.9 L1091.5,305.1 L1087.7,315.3 L1083.8,325.6 L1080.1,335.8 L1076.3,346.0 L1072.5,356.3 L1069.4,366.8 L1066.3,377.2 L1063.2,387.7 L1060.1,398.2Z" fill="#226f20"/>
<path d="M1061.0,354.2 L1060.9,342.3 L1060.8,330.4 L1060.8,318.5 L1060.8,306.6 L1060.2,294.7 L1059.7,282.8 L1059.1,270.9 L1058.6,259.0 L1058.1,247.1 L1057.6,235.2 L1057.1,223.4 L1056.7,211.5 L1056.2,199.6 L1055.8,187.7 L1055.3,175.8 L1054.9,163.9 L1054.9,163.9 L1054.8,175.8 L1054.8,187.7 L1054.8,199.6 L1054.8,211.5 L1054.8,223.4 L1054.9,235.3 L1055.0,247.2 L1055.1,259.1 L1055.2,271.0 L1055.4,282.9 L1055.5,294.8 L1055.7,306.7 L1056.4,318.6 L1057.2,330.5 L1057.9,342.4 L1058.7,354.2Z" fill="#2c8a28"/>
<path d="M1058.1,409.4 L1056.7,399.5 L1055.3,389.7 L1053.8,379.9 L1052.4,370.1 L1050.5,360.3 L1048.5,350.6 L1046.6,340.9 L1044.6,331.1 L1042.7,321.4 L1040.8,311.7 L1038.9,301.9 L1036.9,292.2 L1035.0,282.4 L1033.1,272.7 L1031.2,263.0 L1029.3,253.2 L1029.3,253.2 L1030.6,263.0 L1032.1,272.9 L1033.5,282.7 L1035.0,292.5 L1036.4,302.3 L1037.9,312.2 L1039.4,322.0 L1040.9,331.8 L1042.5,341.6 L1044.0,351.4 L1045.5,361.2 L1047.1,371.0 L1049.3,380.7 L1051.4,390.4 L1053.6,400.1 L1055.7,409.8Z" fill="#277c24"/>
<path d="M1063.1,398.0 L1066.2,388.6 L1069.4,379.1 L1072.7,369.7 L1075.9,360.3 L1078.7,350.7 L1081.5,341.1 L1084.4,331.6 L1087.3,322.0 L1090.2,312.5 L1093.2,303.0 L1096.2,293.5 L1099.3,284.0 L1102.4,274.5 L1105.6,265.1 L1108.7,255.6 L1111.9,246.1 L1111.9,246.1 L1108.2,255.4 L1104.5,264.7 L1100.9,274.0 L1097.4,283.3 L1093.9,292.7 L1090.5,302.1 L1087.1,311.5 L1083.7,320.9 L1080.4,330.3 L1077.1,339.7 L1073.9,349.2 L1070.8,358.7 L1068.2,368.3 L1065.6,378.0 L1063.2,387.7 L1060.7,397.4Z" fill="#2c8a28"/>
<path d="M1069.3,350.1 L1072.2,340.4 L1075.2,330.8 L1078.3,321.3 L1081.5,311.8 L1084.2,302.1 L1087.0,292.5 L1089.8,282.9 L1092.8,273.3 L1095.8,263.8 L1099.0,254.2 L1102.2,244.7 L1105.5,235.3 L1108.9,225.8 L1112.4,216.4 L1116.0,207.0 L1119.6,197.6 L1119.6,197.6 L1115.4,206.7 L1111.3,215.9 L1107.3,225.2 L1103.5,234.5 L1099.7,243.8 L1096.0,253.2 L1092.4,262.6 L1088.9,272.0 L1085.5,281.5 L1082.2,291.0 L1079.0,300.5 L1075.9,310.1 L1073.5,319.9 L1071.1,329.7 L1068.9,339.5 L1066.7,349.4Z" fill="#226f20"/>
<path d="M1058.9,405.7 L1060.0,396.2 L1061.1,386.7 L1062.2,377.2 L1063.4,367.7 L1064.0,358.2 L1064.5,348.7 L1065.2,339.1 L1065.9,329.6 L1066.6,320.1 L1067.4,310.6 L1068.2,301.1 L1069.1,291.5 L1070.0,282.0 L1071.0,272.5 L1072.0,263.0 L1073.0,253.5 L1073.0,253.5 L1071.3,262.9 L1069.7,272.3 L1068.1,281.8 L1066.7,291.2 L1065.2,300.7 L1063.8,310.2 L1062.5,319.7 L1061.3,329.1 L1060.0,338.6 L1058.9,348.2 L1057.8,357.7 L1056.7,367.2 L1056.5,376.8 L1056.2,386.4 L1056.1,395.9 L1055.9,405.5Z" fill="#2c8a28"/>
<path d="M1055.3,428.6 L1054.7,421.7 L1054.0,414.8 L1053.4,407.9 L1052.7,400.9 L1051.5,394.1 L1050.3,387.3 L1049.1,380.4 L1047.9,373.6 L1046.6,366.8 L1045.4,360.0 L1044.1,353.1 L1042.8,346.3 L1041.5,339.5 L1040.2,332.7 L1038.8,325.9 L1037.4,319.1 L1037.4,319.1 L1038.3,326.0 L1039.2,332.9 L1040.1,339.7 L1040.9,346.6 L1041.8,353.5 L1042.7,360.4 L1043.5,367.3 L1044.4,374.1 L1045.2,381.0 L1046.1,387.9 L1046.9,394.8 L1047.7,401.7 L1049.1,408.5 L1050.4,415.3 L1051.7,422.1 L1053.1,428.9Z" fill="#44a338"/>
<path d="M1048.7,334.9 L1046.3,326.8 L1043.9,318.8 L1041.4,310.9 L1038.8,302.9 L1035.5,295.2 L1032.2,287.5 L1028.7,279.9 L1025.3,272.3 L1021.7,264.8 L1018.1,257.2 L1014.4,249.7 L1010.7,242.3 L1006.8,234.9 L1002.9,227.5 L999.0,220.1 L994.9,212.8 L994.9,212.8 L998.4,220.4 L1001.9,228.0 L1005.3,235.6 L1008.7,243.2 L1012.0,250.9 L1015.2,258.5 L1018.4,266.2 L1021.5,274.0 L1024.5,281.7 L1027.5,289.5 L1030.4,297.3 L1033.2,305.1 L1036.5,312.7 L1039.8,320.3 L1043.0,328.0 L1046.2,335.8Z" fill="#379630"/>
<path d="M1064.0,422.9 L1067.1,415.5 L1070.2,408.0 L1073.4,400.6 L1076.5,393.2 L1079.1,385.6 L1081.7,378.0 L1084.3,370.4 L1086.9,362.8 L1089.6,355.2 L1092.2,347.6 L1094.9,340.0 L1097.6,332.4 L1100.3,324.9 L1103.0,317.3 L1105.7,309.7 L1108.4,302.1 L1108.4,302.1 L1105.1,309.5 L1101.8,316.8 L1098.6,324.2 L1095.4,331.6 L1092.2,339.0 L1089.1,346.4 L1085.9,353.8 L1082.8,361.2 L1079.8,368.7 L1076.7,376.1 L1073.7,383.6 L1070.7,391.1 L1068.3,398.8 L1065.9,406.5 L1063.6,414.2 L1061.3,421.9Z" fill="#2c8a28"/>
<path d="M1066.4,397.8 L1069.5,389.7 L1072.6,381.6 L1075.9,373.6 L1079.2,365.6 L1082.1,357.5 L1085.0,349.4 L1088.0,341.3 L1091.2,333.3 L1094.4,325.3 L1097.7,317.3 L1101.0,309.4 L1104.5,301.5 L1108.0,293.6 L1111.6,285.7 L1115.3,277.9 L1119.1,270.1 L1119.1,270.1 L1114.8,277.6 L1110.6,285.2 L1106.6,292.9 L1102.6,300.6 L1098.7,308.3 L1094.9,316.1 L1091.2,323.9 L1087.6,331.8 L1084.0,339.7 L1080.6,347.6 L1077.2,355.6 L1073.9,363.7 L1071.3,372.0 L1068.8,380.3 L1066.3,388.6 L1064.0,397.0Z" fill="#277c24"/>
<path d="M1052.1,353.7 L1051.3,341.8 L1050.5,329.9 L1049.6,318.0 L1048.6,306.0 L1046.9,294.2 L1045.1,282.4 L1043.3,270.6 L1041.3,258.9 L1039.3,247.1 L1037.2,235.4 L1035.0,223.6 L1032.7,211.9 L1030.3,200.2 L1027.9,188.6 L1025.3,176.9 L1022.6,165.3 L1022.6,165.3 L1024.7,177.0 L1026.7,188.8 L1028.6,200.5 L1030.5,212.3 L1032.3,224.1 L1034.0,235.9 L1035.6,247.7 L1037.2,259.5 L1038.7,271.3 L1040.1,283.1 L1041.4,294.9 L1042.6,306.8 L1044.4,318.5 L1046.2,330.3 L1047.8,342.1 L1049.4,354.0Z" fill="#2c8a28"/>
</g>
<g clip-path="url(#cpb)">
<path d="M1222.0,440.0 L1206.0,400.0 L1184.0,350.0 L1172.0,300.0 L1168.0,262.0 L1188.0,236.0 L1240.0,224.0 L1290.0,236.0 L1302.0,262.0 L1298.0,300.0 L1288.0,350.0 L1272.0,400.0 L1256.0,440.0Z" fill="#1c561c" opacity="0.75" filter="url(#blur6)"/>
<path d="M1226.9,440.5 L1221.5,328.5 L1239.5,300.5 L1257.5,328.5 L1252.1,440.5 Z" fill="#215e1e"/>
<path d="M1236.0,440.5 L1224.1,330.7" stroke="#2c8a28" stroke-width="3.3" fill="none"/>
<path d="M1235.2,440.5 L1227.3,319.4" stroke="#2c8a28" stroke-width="2.9" fill="none"/>
<path d="M1243.1,440.5 L1248.1,318.6" stroke="#379630" stroke-width="2.4" fill="none"/>
<path d="M1243.7,440.5 L1248.0,404.0" stroke="#226f20" stroke-width="2.5" fill="none"/>
<path d="M1241.7,440.5 L1244.0,423.6" stroke="#226f20" stroke-width="2.8" fill="none"/>
<path d="M1236.8,440.5 L1237.8,323.2" stroke="#379630" stroke-width="2.7" fill="none"/>
<path d="M1238.5,440.5 L1243.9,357.8" stroke="#379630" stroke-width="2.8" fill="none"/>
<path d="M1242.5,440.5 L1249.4,334.8" stroke="#2c8a28" stroke-width="2.3" fill="none"/>
<path d="M1235.3,440.5 L1232.2,408.7" stroke="#226f20" stroke-width="2.8" fill="none"/>
<path d="M1238.6,440.5 L1237.1,428.9" stroke="#44a338" stroke-width="3.2" fill="none"/>
<path d="M1238.1,440.5 L1243.6,407.4" stroke="#2c8a28" stroke-width="3.0" fill="none"/>
<path d="M1238.9,440.5 L1235.9,395.4" stroke="#379630" stroke-width="3.1" fill="none"/>
<path d="M1237.8,440.5 L1236.7,403.2" stroke="#379630" stroke-width="2.2" fill="none"/>
<path d="M1238.5,440.5 L1233.8,404.8" stroke="#50ac42" stroke-width="3.3" fill="none"/>
<path d="M1241.7,440.5 L1245.1,410.6" stroke="#277c24" stroke-width="2.4" fill="none"/>
<path d="M1237.3,440.5 L1229.8,399.2" stroke="#2c8a28" stroke-width="2.3" fill="none"/>
<path d="M1240.3,440.5 L1234.2,432.4" stroke="#226f20" stroke-width="3.1" fill="none"/>
<path d="M1239.2,440.5 L1247.6,408.9" stroke="#2c8a28" stroke-width="2.9" fill="none"/>
<path d="M1239.1,440.5 L1243.1,423.3" stroke="#2c8a28" stroke-width="2.4" fill="none"/>
<path d="M1237.6,440.5 L1231.6,392.3" stroke="#379630" stroke-width="2.6" fill="none"/>
<path d="M1243.3,440.5 L1244.2,396.1" stroke="#50ac42" stroke-width="2.7" fill="none"/>
<path d="M1238.4,440.5 L1237.3,397.8" stroke="#277c24" stroke-width="3.4" fill="none"/>
<path d="M1240.6,440.5 L1243.4,401.6" stroke="#2c8a28" stroke-width="2.5" fill="none"/>
<path d="M1239.2,440.5 L1240.8,343.8" stroke="#32902c" stroke-width="2.9" fill="none"/>
<path d="M1238.1,440.5 L1236.5,380.5" stroke="#44a338" stroke-width="3.3" fill="none"/>
<path d="M1239.1,440.5 L1238.6,395.7" stroke="#50ac42" stroke-width="3.2" fill="none"/>
<path d="M1238.0,440.5 L1242.9,401.6" stroke="#379630" stroke-width="2.6" fill="none"/>
<path d="M1238.7,440.5 L1243.0,404.2" stroke="#277c24" stroke-width="2.7" fill="none"/>
<path d="M1237.4,440.5 L1235.4,335.9" stroke="#277c24" stroke-width="2.8" fill="none"/>
<path d="M1238.8,440.5 L1239.4,389.8" stroke="#44a338" stroke-width="3.0" fill="none"/>
<path d="M1245.9,440.5 L1251.7,335.9" stroke="#44a338" stroke-width="3.2" fill="none"/>
<path d="M1237.8,440.5 L1236.8,428.8" stroke="#379630" stroke-width="2.7" fill="none"/>
<path d="M1237.4,440.5 L1233.0,341.9" stroke="#277c24" stroke-width="2.5" fill="none"/>
<path d="M1235.9,440.5 L1236.8,403.9" stroke="#32902c" stroke-width="2.2" fill="none"/>
<path d="M1238.6,440.5 L1230.5,346.0" stroke="#379630" stroke-width="3.0" fill="none"/>
<path d="M1234.7,440.5 L1231.7,388.1" stroke="#277c24" stroke-width="2.9" fill="none"/>
<path d="M1241.2,440.5 L1239.5,402.6" stroke="#226f20" stroke-width="2.7" fill="none"/>
<path d="M1237.8,440.5 L1234.0,320.0" stroke="#50ac42" stroke-width="4" fill="none"/>
<path d="M1239.7,440.5 L1240.0,300.0" stroke="#50ac42" stroke-width="4" fill="none"/>
<path d="M1241.5,440.5 L1246.0,320.0" stroke="#50ac42" stroke-width="4" fill="none"/>
<path d="M1236.0,440.5 L1228.0,340.0" stroke="#379630" stroke-width="3" fill="none"/>
<path d="M1243.2,440.5 L1252.0,340.0" stroke="#379630" stroke-width="3" fill="none"/>
<path d="M1225.5,329.9 L1221.0,320.3 L1216.3,310.7 L1211.5,301.1 L1206.5,291.7 L1200.7,282.8 L1194.8,274.0 L1188.7,265.3 L1182.5,256.7 L1176.2,248.2 L1169.6,239.9 L1163.0,231.6 L1156.1,223.5 L1149.2,215.5 L1142.0,207.7 L1134.8,199.9 L1127.3,192.3 L1127.3,192.3 L1134.2,200.4 L1141.0,208.6 L1147.6,216.8 L1154.1,225.2 L1160.5,233.6 L1166.6,242.1 L1172.7,250.8 L1178.5,259.5 L1184.3,268.3 L1189.8,277.2 L1195.3,286.2 L1200.5,295.3 L1206.3,304.2 L1211.9,313.1 L1217.3,322.2 L1222.7,331.4Z" fill="#277c24"/>
<path d="M1228.8,318.9 L1226.1,309.0 L1223.2,299.1 L1220.3,289.3 L1217.2,279.6 L1213.3,270.1 L1209.3,260.7 L1205.2,251.3 L1201.0,242.0 L1196.6,232.7 L1192.2,223.5 L1187.6,214.4 L1182.9,205.3 L1178.1,196.3 L1173.2,187.3 L1168.2,178.4 L1163.0,169.6 L1163.0,169.6 L1167.5,178.8 L1172.0,188.0 L1176.3,197.2 L1180.6,206.5 L1184.7,215.8 L1188.8,225.1 L1192.7,234.5 L1196.5,243.9 L1200.2,253.4 L1203.8,262.9 L1207.3,272.4 L1210.6,282.0 L1214.6,291.4 L1218.5,300.8 L1222.2,310.3 L1225.8,319.9Z" fill="#277c24"/>
<path d="M1249.6,318.9 L1252.0,309.7 L1254.4,300.6 L1256.8,291.4 L1259.3,282.3 L1261.1,273.0 L1262.9,263.7 L1264.8,254.4 L1266.7,245.2 L1268.6,235.9 L1270.6,226.7 L1272.6,217.4 L1274.6,208.2 L1276.7,198.9 L1278.8,189.7 L1280.9,180.4 L1283.0,171.2 L1283.0,171.2 L1280.2,180.2 L1277.4,189.3 L1274.8,198.4 L1272.1,207.5 L1269.5,216.6 L1267.0,225.8 L1264.4,234.9 L1262.0,244.1 L1259.5,253.2 L1257.2,262.4 L1254.8,271.6 L1252.5,280.8 L1250.9,290.1 L1249.4,299.5 L1248.0,308.9 L1246.5,318.3Z" fill="#379630"/>
<path d="M1249.5,404.5 L1254.2,393.0 L1259.1,381.6 L1264.1,370.2 L1269.2,358.9 L1273.8,347.4 L1278.5,336.0 L1283.4,324.6 L1288.4,313.3 L1293.5,302.0 L1298.8,290.8 L1304.2,279.6 L1309.8,268.5 L1315.5,257.5 L1321.3,246.5 L1327.2,235.6 L1333.3,224.7 L1333.3,224.7 L1326.6,235.2 L1320.1,245.8 L1313.7,256.5 L1307.5,267.3 L1301.4,278.2 L1295.4,289.1 L1289.6,300.1 L1284.0,311.2 L1278.5,322.3 L1273.1,333.6 L1267.8,344.9 L1262.7,356.2 L1258.5,368.0 L1254.3,379.7 L1250.4,391.6 L1246.5,403.5Z" fill="#32902c"/>
<path d="M1245.1,424.4 L1250.5,417.6 L1255.9,410.9 L1261.4,404.3 L1266.9,397.7 L1272.1,390.9 L1277.3,384.0 L1282.5,377.3 L1287.9,370.5 L1293.3,363.9 L1298.8,357.3 L1304.4,350.7 L1310.0,344.3 L1315.7,337.8 L1321.5,331.4 L1327.4,325.1 L1333.3,318.8 L1333.3,318.8 L1326.9,324.7 L1320.7,330.6 L1314.5,336.6 L1308.4,342.7 L1302.4,348.9 L1296.4,355.1 L1290.5,361.5 L1284.7,367.8 L1279.0,374.3 L1273.3,380.8 L1267.7,387.4 L1262.2,394.1 L1257.3,401.2 L1252.4,408.3 L1247.6,415.6 L1242.9,422.9Z" fill="#44a338"/>
<path d="M1239.6,323.1 L1239.5,315.4 L1239.4,307.8 L1239.3,300.2 L1239.2,292.5 L1238.2,285.0 L1237.2,277.4 L1236.2,269.9 L1235.2,262.3 L1234.1,254.8 L1233.1,247.2 L1232.0,239.7 L1230.9,232.1 L1229.8,224.6 L1228.6,217.0 L1227.4,209.5 L1226.2,202.0 L1226.2,202.0 L1226.6,209.6 L1227.0,217.2 L1227.5,224.8 L1227.9,232.4 L1228.4,240.0 L1228.8,247.6 L1229.2,255.2 L1229.6,262.8 L1230.0,270.4 L1230.4,278.0 L1230.8,285.6 L1231.2,293.2 L1232.4,300.8 L1233.6,308.3 L1234.8,315.8 L1236.0,323.4Z" fill="#44a338"/>
<path d="M1245.6,357.9 L1246.8,349.3 L1248.0,340.6 L1249.2,331.9 L1250.4,323.2 L1250.8,314.4 L1251.2,305.7 L1251.6,297.0 L1252.0,288.2 L1252.5,279.5 L1252.9,270.7 L1253.3,262.0 L1253.8,253.2 L1254.2,244.5 L1254.7,235.7 L1255.1,227.0 L1255.5,218.2 L1255.5,218.2 L1254.3,226.9 L1253.1,235.6 L1251.9,244.3 L1250.8,252.9 L1249.7,261.6 L1248.6,270.3 L1247.6,279.0 L1246.5,287.7 L1245.5,296.4 L1244.5,305.2 L1243.5,313.9 L1242.5,322.6 L1242.3,331.4 L1242.2,340.1 L1242.1,348.9 L1242.1,357.7Z" fill="#32902c"/>
<path d="M1250.9,335.3 L1253.8,327.9 L1256.8,320.6 L1259.8,313.3 L1262.9,306.0 L1265.3,298.5 L1267.7,291.0 L1270.2,283.5 L1272.7,276.0 L1275.3,268.5 L1277.9,261.1 L1280.6,253.7 L1283.3,246.2 L1286.0,238.8 L1288.8,231.4 L1291.6,224.0 L1294.4,216.6 L1294.4,216.6 L1290.9,223.7 L1287.5,230.9 L1284.1,238.0 L1280.8,245.2 L1277.6,252.5 L1274.4,259.7 L1271.3,267.0 L1268.2,274.3 L1265.1,281.6 L1262.1,288.9 L1259.2,296.3 L1256.3,303.7 L1254.1,311.3 L1252.0,319.0 L1249.9,326.7 L1247.9,334.3Z" fill="#226f20"/>
<path d="M1233.4,408.0 L1229.3,400.1 L1225.1,392.2 L1220.8,384.3 L1216.4,376.6 L1211.3,369.3 L1206.2,362.0 L1200.9,354.9 L1195.5,347.8 L1190.0,340.8 L1184.4,333.9 L1178.7,327.1 L1172.8,320.4 L1166.9,313.8 L1160.9,307.3 L1154.7,300.8 L1148.4,294.5 L1148.4,294.5 L1154.2,301.3 L1160.0,308.0 L1165.6,314.9 L1171.1,321.8 L1176.5,328.8 L1181.9,335.9 L1187.1,343.0 L1192.1,350.3 L1197.1,357.5 L1202.0,364.9 L1206.7,372.3 L1211.4,379.8 L1216.4,387.1 L1221.4,394.4 L1226.3,401.8 L1231.0,409.4Z" fill="#379630"/>
<path d="M1238.1,428.3 L1234.8,422.3 L1231.5,416.3 L1228.1,410.4 L1224.7,404.5 L1220.6,399.0 L1216.5,393.6 L1212.4,388.2 L1208.1,382.9 L1203.8,377.7 L1199.3,372.5 L1194.8,367.5 L1190.2,362.5 L1185.6,357.5 L1180.8,352.7 L1176.0,347.9 L1171.0,343.2 L1171.0,343.2 L1175.6,348.3 L1180.1,353.3 L1184.5,358.5 L1188.8,363.7 L1193.1,368.9 L1197.3,374.3 L1201.4,379.6 L1205.4,385.0 L1209.3,390.5 L1213.1,396.1 L1216.9,401.7 L1220.5,407.3 L1224.5,412.8 L1228.5,418.3 L1232.3,423.8 L1236.1,429.5Z" fill="#277c24"/>
<path d="M1245.1,407.6 L1246.8,399.3 L1248.5,390.9 L1250.2,382.6 L1251.9,374.3 L1252.9,365.9 L1253.9,357.5 L1255.0,349.1 L1256.0,340.6 L1257.1,332.2 L1258.2,323.8 L1259.4,315.4 L1260.5,307.0 L1261.7,298.6 L1262.9,290.2 L1264.0,281.8 L1265.2,273.4 L1265.2,273.4 L1263.3,281.7 L1261.5,290.0 L1259.7,298.3 L1258.0,306.6 L1256.2,314.9 L1254.5,323.2 L1252.9,331.5 L1251.2,339.9 L1249.6,348.2 L1248.1,356.6 L1246.5,364.9 L1245.0,373.3 L1244.2,381.7 L1243.4,390.2 L1242.7,398.7 L1242.0,407.1Z" fill="#44a338"/>
<path d="M1237.7,395.1 L1236.3,385.2 L1234.8,375.3 L1233.3,365.4 L1231.8,355.5 L1229.4,345.8 L1226.9,336.1 L1224.4,326.5 L1221.9,316.8 L1219.3,307.1 L1216.7,297.5 L1214.1,287.9 L1211.3,278.3 L1208.6,268.7 L1205.8,259.1 L1202.9,249.5 L1200.0,240.0 L1200.0,240.0 L1202.1,249.8 L1204.3,259.5 L1206.4,269.2 L1208.5,279.0 L1210.5,288.8 L1212.5,298.5 L1214.5,308.3 L1216.5,318.0 L1218.4,327.8 L1220.3,337.6 L1222.2,347.4 L1224.0,357.2 L1226.6,366.8 L1229.1,376.4 L1231.7,386.1 L1234.2,395.8Z" fill="#226f20"/>
<path d="M1238.5,403.3 L1239.2,393.7 L1240.0,384.1 L1240.7,374.6 L1241.4,365.0 L1241.3,355.4 L1241.2,345.8 L1241.1,336.3 L1241.0,326.7 L1240.9,317.1 L1240.8,307.5 L1240.7,297.9 L1240.6,288.3 L1240.5,278.8 L1240.3,269.2 L1240.2,259.6 L1240.0,250.0 L1240.0,250.0 L1239.3,259.6 L1238.7,269.1 L1238.2,278.7 L1237.6,288.3 L1237.0,297.8 L1236.5,307.4 L1236.0,317.0 L1235.5,326.6 L1234.9,336.1 L1234.4,345.7 L1233.9,355.3 L1233.4,364.8 L1233.8,374.4 L1234.2,384.0 L1234.5,393.6 L1234.9,403.2Z" fill="#379630"/>
<path d="M1235.3,404.5 L1234.5,397.2 L1233.6,389.9 L1232.8,382.6 L1231.9,375.3 L1230.2,368.2 L1228.5,361.0 L1226.8,353.9 L1225.1,346.7 L1223.3,339.6 L1221.5,332.5 L1219.7,325.4 L1217.8,318.3 L1215.9,311.2 L1214.0,304.1 L1212.0,297.1 L1210.0,290.0 L1210.0,290.0 L1211.3,297.2 L1212.6,304.4 L1214.0,311.6 L1215.3,318.9 L1216.6,326.1 L1217.8,333.3 L1219.1,340.5 L1220.3,347.7 L1221.5,354.9 L1222.7,362.2 L1223.9,369.4 L1225.0,376.6 L1226.8,383.7 L1228.6,390.8 L1230.4,397.9 L1232.2,405.1Z" fill="#379630"/>
<path d="M1246.6,411.0 L1249.0,403.5 L1251.4,396.0 L1253.8,388.6 L1256.3,381.1 L1258.1,373.5 L1259.9,365.9 L1261.8,358.2 L1263.7,350.6 L1265.6,343.0 L1267.6,335.5 L1269.6,327.9 L1271.6,320.3 L1273.7,312.7 L1275.8,305.1 L1277.9,297.6 L1280.0,290.0 L1280.0,290.0 L1277.2,297.3 L1274.5,304.7 L1271.8,312.1 L1269.1,319.5 L1266.6,326.9 L1264.0,334.4 L1261.5,341.8 L1259.0,349.3 L1256.6,356.8 L1254.2,364.3 L1251.8,371.8 L1249.5,379.3 L1248.0,387.0 L1246.5,394.8 L1245.0,402.5 L1243.5,410.2Z" fill="#50ac42"/>
<path d="M1231.0,398.6 L1227.9,391.9 L1224.8,385.3 L1221.6,378.7 L1218.3,372.1 L1214.4,365.8 L1210.5,359.6 L1206.5,353.5 L1202.5,347.4 L1198.4,341.3 L1194.2,335.3 L1190.0,329.3 L1185.7,323.3 L1181.4,317.4 L1177.0,311.6 L1172.6,305.7 L1168.0,300.0 L1168.0,300.0 L1172.0,306.1 L1176.0,312.2 L1180.0,318.4 L1183.9,324.6 L1187.7,330.8 L1191.5,337.0 L1195.3,343.3 L1199.0,349.6 L1202.6,355.9 L1206.1,362.2 L1209.7,368.6 L1213.1,375.0 L1217.1,381.2 L1221.0,387.4 L1224.8,393.6 L1228.6,399.8Z" fill="#44a338"/>
<path d="M1235.2,431.9 L1232.5,425.7 L1229.7,419.6 L1226.9,413.4 L1224.1,407.4 L1220.7,401.6 L1217.3,395.8 L1213.8,390.0 L1210.2,384.3 L1206.6,378.7 L1203.0,373.0 L1199.3,367.4 L1195.6,361.9 L1191.8,356.3 L1187.9,350.8 L1184.0,345.4 L1180.0,340.0 L1180.0,340.0 L1183.5,345.7 L1187.1,351.4 L1190.6,357.1 L1194.0,362.9 L1197.4,368.6 L1200.7,374.4 L1204.0,380.2 L1207.2,386.1 L1210.4,392.0 L1213.6,397.9 L1216.6,403.8 L1219.7,409.7 L1223.1,415.5 L1226.5,421.2 L1229.9,427.0 L1233.2,432.9Z" fill="#32902c"/>
<path d="M1248.9,409.5 L1252.1,402.6 L1255.4,395.8 L1258.8,389.1 L1262.2,382.3 L1265.1,375.4 L1268.0,368.4 L1271.0,361.5 L1274.0,354.6 L1277.1,347.7 L1280.2,340.8 L1283.4,334.0 L1286.7,327.2 L1289.9,320.3 L1293.3,313.6 L1296.6,306.8 L1300.0,300.0 L1300.0,300.0 L1296.1,306.5 L1292.2,313.0 L1288.4,319.5 L1284.7,326.1 L1281.0,332.7 L1277.4,339.4 L1273.8,346.1 L1270.3,352.8 L1266.8,359.5 L1263.4,366.3 L1260.0,373.1 L1256.7,379.9 L1254.1,387.0 L1251.4,394.1 L1248.9,401.3 L1246.4,408.4Z" fill="#379630"/>
<path d="M1244.1,423.9 L1247.3,418.9 L1250.5,414.0 L1253.8,409.1 L1257.1,404.3 L1260.0,399.2 L1263.0,394.2 L1266.0,389.1 L1269.0,384.1 L1272.1,379.1 L1275.2,374.2 L1278.4,369.3 L1281.7,364.4 L1284.9,359.5 L1288.3,354.7 L1291.6,349.8 L1295.0,345.0 L1295.0,345.0 L1291.2,349.5 L1287.5,354.1 L1283.8,358.7 L1280.1,363.3 L1276.6,368.0 L1273.0,372.7 L1269.5,377.4 L1266.1,382.2 L1262.7,387.0 L1259.4,391.9 L1256.1,396.8 L1252.8,401.7 L1250.1,406.9 L1247.4,412.2 L1244.7,417.5 L1242.1,422.8Z" fill="#32902c"/>
<path d="M1233.0,391.7 L1229.5,382.4 L1225.9,373.0 L1222.3,363.7 L1218.5,354.4 L1214.1,345.5 L1209.5,336.6 L1204.9,327.8 L1200.2,319.0 L1195.4,310.2 L1190.6,301.5 L1185.7,292.8 L1180.7,284.1 L1175.7,275.5 L1170.5,267.0 L1165.3,258.4 L1160.0,250.0 L1160.0,250.0 L1164.7,258.8 L1169.3,267.6 L1173.9,276.5 L1178.4,285.4 L1182.9,294.3 L1187.3,303.2 L1191.6,312.2 L1195.9,321.1 L1200.0,330.2 L1204.2,339.2 L1208.2,348.3 L1212.2,357.4 L1216.8,366.2 L1221.3,375.1 L1225.7,384.0 L1230.1,393.0Z" fill="#277c24"/>
<path d="M1245.7,396.7 L1249.7,387.8 L1253.9,379.0 L1258.1,370.2 L1262.3,361.5 L1265.9,352.5 L1269.6,343.5 L1273.4,334.5 L1277.2,325.6 L1281.1,316.7 L1285.1,307.8 L1289.1,299.0 L1293.2,290.1 L1297.3,281.3 L1301.5,272.5 L1305.7,263.8 L1310.0,255.0 L1310.0,255.0 L1305.1,263.4 L1300.2,271.9 L1295.5,280.4 L1290.8,289.0 L1286.2,297.6 L1281.7,306.2 L1277.2,314.9 L1272.8,323.6 L1268.5,332.3 L1264.2,341.1 L1260.0,349.9 L1255.9,358.7 L1252.5,367.9 L1249.2,377.1 L1245.9,386.3 L1242.7,395.5Z" fill="#226f20"/>
<path d="M1238.7,397.5 L1237.6,389.5 L1236.4,381.5 L1235.3,373.5 L1234.1,365.4 L1232.4,357.5 L1230.6,349.6 L1228.8,341.7 L1227.0,333.8 L1225.3,325.9 L1223.5,318.0 L1221.7,310.1 L1219.9,302.2 L1218.2,294.3 L1216.4,286.4 L1214.6,278.5 L1212.8,270.7 L1212.8,270.7 L1213.9,278.7 L1215.2,286.7 L1216.4,294.7 L1217.7,302.7 L1219.0,310.7 L1220.2,318.7 L1221.5,326.7 L1222.8,334.7 L1224.1,342.6 L1225.4,350.6 L1226.8,358.6 L1228.1,366.6 L1230.0,374.5 L1232.0,382.3 L1234.0,390.2 L1236.0,398.1Z" fill="#44a338"/>
<path d="M1244.6,402.0 L1248.2,392.6 L1251.8,383.1 L1255.5,373.8 L1259.3,364.4 L1262.5,354.9 L1265.9,345.4 L1269.3,335.9 L1272.9,326.5 L1276.5,317.1 L1280.1,307.7 L1283.9,298.3 L1287.7,289.0 L1291.7,279.7 L1295.7,270.4 L1299.7,261.2 L1303.9,251.9 L1303.9,251.9 L1299.2,260.9 L1294.6,269.9 L1290.1,279.0 L1285.7,288.1 L1281.4,297.2 L1277.2,306.4 L1273.1,315.7 L1269.0,324.9 L1265.1,334.2 L1261.2,343.6 L1257.4,353.0 L1253.7,362.4 L1250.7,372.0 L1247.7,381.7 L1244.9,391.5 L1242.1,401.2Z" fill="#226f20"/>
<path d="M1242.0,343.8 L1242.3,334.8 L1242.7,325.9 L1243.1,317.0 L1243.5,308.0 L1243.4,299.1 L1243.4,290.2 L1243.4,281.2 L1243.4,272.3 L1243.5,263.4 L1243.5,254.4 L1243.7,245.5 L1243.8,236.5 L1244.0,227.6 L1244.2,218.7 L1244.5,209.7 L1244.7,200.8 L1244.7,200.8 L1243.9,209.7 L1243.2,218.6 L1242.5,227.5 L1241.9,236.5 L1241.3,245.4 L1240.7,254.3 L1240.2,263.3 L1239.7,272.2 L1239.3,281.1 L1238.9,290.1 L1238.6,299.0 L1238.3,308.0 L1238.6,316.9 L1238.9,325.9 L1239.2,334.8 L1239.6,343.8Z" fill="#277c24"/>
<path d="M1237.7,380.3 L1236.5,371.3 L1235.4,362.2 L1234.2,353.2 L1233.0,344.1 L1231.3,335.2 L1229.5,326.2 L1227.7,317.3 L1225.9,308.3 L1224.1,299.4 L1222.3,290.5 L1220.5,281.5 L1218.6,272.6 L1216.8,263.7 L1214.9,254.7 L1213.0,245.8 L1211.1,236.9 L1211.1,236.9 L1212.5,245.9 L1213.9,254.9 L1215.2,264.0 L1216.6,273.0 L1218.0,282.0 L1219.4,291.0 L1220.8,300.0 L1222.2,309.0 L1223.5,318.0 L1224.9,327.0 L1226.3,336.0 L1227.6,345.0 L1229.5,354.0 L1231.5,362.9 L1233.4,371.8 L1235.2,380.7Z" fill="#226f20"/>
<path d="M1239.9,395.2 L1237.5,386.1 L1234.9,377.1 L1232.3,368.0 L1229.5,359.0 L1226.1,350.2 L1222.5,341.5 L1218.9,332.8 L1215.2,324.1 L1211.4,315.5 L1207.5,307.0 L1203.6,298.4 L1199.5,290.0 L1195.4,281.5 L1191.1,273.1 L1186.8,264.8 L1182.3,256.5 L1182.3,256.5 L1186.2,265.1 L1190.0,273.7 L1193.7,282.3 L1197.4,290.9 L1201.0,299.6 L1204.5,308.3 L1207.9,317.0 L1211.2,325.8 L1214.5,334.5 L1217.6,343.4 L1220.7,352.2 L1223.7,361.1 L1227.2,369.8 L1230.6,378.5 L1234.0,387.3 L1237.3,396.1Z" fill="#379630"/>
<path d="M1244.3,401.6 L1244.9,393.5 L1245.6,385.3 L1246.3,377.2 L1247.0,369.0 L1247.1,360.9 L1247.2,352.7 L1247.4,344.6 L1247.5,336.4 L1247.7,328.2 L1248.0,320.1 L1248.2,311.9 L1248.5,303.7 L1248.8,295.6 L1249.1,287.4 L1249.5,279.2 L1249.8,271.1 L1249.8,271.1 L1248.8,279.2 L1247.9,287.3 L1247.0,295.4 L1246.1,303.6 L1245.3,311.7 L1244.5,319.9 L1243.8,328.0 L1243.1,336.2 L1242.4,344.3 L1241.8,352.5 L1241.2,360.6 L1240.6,368.8 L1240.8,377.0 L1241.0,385.2 L1241.2,393.4 L1241.4,401.6Z" fill="#44a338"/>
<path d="M1244.3,404.1 L1244.3,394.9 L1244.4,385.6 L1244.3,376.4 L1244.3,367.1 L1243.6,357.9 L1242.9,348.7 L1242.2,339.5 L1241.4,330.3 L1240.7,321.1 L1239.9,311.9 L1239.1,302.7 L1238.2,293.5 L1237.3,284.3 L1236.4,275.1 L1235.5,265.9 L1234.5,256.7 L1234.5,256.7 L1234.9,266.0 L1235.3,275.2 L1235.6,284.4 L1236.0,293.6 L1236.4,302.9 L1236.7,312.1 L1237.0,321.3 L1237.3,330.5 L1237.6,339.8 L1237.9,349.0 L1238.1,358.2 L1238.4,367.4 L1239.2,376.6 L1240.1,385.8 L1240.9,395.0 L1241.6,404.2Z" fill="#226f20"/>
<path d="M1236.7,335.6 L1235.8,327.9 L1234.8,320.2 L1233.9,312.5 L1232.9,304.8 L1231.4,297.3 L1229.8,289.7 L1228.2,282.1 L1226.6,274.5 L1225.0,266.9 L1223.4,259.4 L1221.7,251.8 L1220.1,244.2 L1218.5,236.6 L1216.8,229.0 L1215.2,221.5 L1213.5,213.9 L1213.5,213.9 L1214.5,221.6 L1215.7,229.3 L1216.8,236.9 L1217.9,244.6 L1219.0,252.3 L1220.2,259.9 L1221.3,267.6 L1222.5,275.3 L1223.6,282.9 L1224.7,290.6 L1225.9,298.2 L1227.0,305.9 L1228.8,313.5 L1230.5,321.0 L1232.3,328.6 L1234.1,336.1Z" fill="#226f20"/>
<path d="M1240.7,389.6 L1239.9,381.6 L1239.2,373.6 L1238.5,365.5 L1237.8,357.5 L1236.5,349.6 L1235.3,341.6 L1234.0,333.7 L1232.8,325.7 L1231.6,317.8 L1230.4,309.8 L1229.3,301.9 L1228.1,293.9 L1227.0,285.9 L1225.9,277.9 L1224.8,270.0 L1223.6,262.0 L1223.6,262.0 L1224.2,270.0 L1224.7,278.1 L1225.4,286.1 L1226.0,294.1 L1226.7,302.1 L1227.4,310.2 L1228.1,318.2 L1228.9,326.2 L1229.7,334.2 L1230.5,342.2 L1231.3,350.3 L1232.1,358.3 L1233.6,366.2 L1235.1,374.1 L1236.6,382.0 L1238.2,390.0Z" fill="#379630"/>
<path d="M1253.0,336.3 L1255.5,328.6 L1258.1,321.0 L1260.7,313.4 L1263.4,305.9 L1265.5,298.1 L1267.6,290.4 L1269.8,282.6 L1272.0,274.9 L1274.2,267.2 L1276.5,259.5 L1278.8,251.8 L1281.1,244.1 L1283.5,236.4 L1285.8,228.7 L1288.3,221.1 L1290.7,213.4 L1290.7,213.4 L1287.7,220.9 L1284.7,228.4 L1281.8,235.9 L1279.0,243.4 L1276.2,250.9 L1273.4,258.5 L1270.7,266.1 L1268.0,273.7 L1265.4,281.3 L1262.8,288.9 L1260.2,296.5 L1257.7,304.2 L1255.8,312.0 L1253.9,319.8 L1252.1,327.7 L1250.4,335.6Z" fill="#379630"/>
<path d="M1238.3,428.5 L1237.1,421.4 L1236.0,414.4 L1234.8,407.4 L1233.6,400.3 L1231.7,393.5 L1229.9,386.6 L1227.9,379.7 L1226.0,372.9 L1224.1,366.0 L1222.1,359.2 L1220.1,352.3 L1218.1,345.5 L1216.1,338.7 L1214.1,331.9 L1212.0,325.0 L1209.9,318.3 L1209.9,318.3 L1211.3,325.2 L1212.8,332.2 L1214.3,339.1 L1215.8,346.1 L1217.3,353.1 L1218.7,360.0 L1220.2,367.0 L1221.6,374.0 L1223.0,380.9 L1224.5,387.9 L1225.9,394.9 L1227.3,401.8 L1229.3,408.6 L1231.4,415.5 L1233.4,422.3 L1235.4,429.1Z" fill="#50ac42"/>
<path d="M1234.3,341.7 L1232.8,331.9 L1231.1,322.1 L1229.4,312.3 L1227.6,302.6 L1225.1,293.0 L1222.5,283.5 L1219.8,273.9 L1217.1,264.4 L1214.3,255.0 L1211.4,245.5 L1208.4,236.1 L1205.3,226.7 L1202.2,217.3 L1199.0,207.9 L1195.6,198.6 L1192.2,189.4 L1192.2,189.4 L1195.0,198.8 L1197.8,208.3 L1200.6,217.8 L1203.2,227.3 L1205.8,236.8 L1208.4,246.4 L1210.8,255.9 L1213.2,265.5 L1215.4,275.1 L1217.7,284.7 L1219.8,294.3 L1221.9,303.9 L1224.4,313.5 L1227.0,323.0 L1229.4,332.6 L1231.7,342.2Z" fill="#50ac42"/>
<path d="M1238.2,403.5 L1235.4,392.6 L1232.5,381.8 L1229.6,370.9 L1226.6,360.1 L1222.9,349.5 L1219.2,338.9 L1215.4,328.3 L1211.6,317.8 L1207.7,307.3 L1203.7,296.8 L1199.7,286.3 L1195.6,275.9 L1191.5,265.4 L1187.3,255.0 L1183.0,244.6 L1178.7,234.3 L1178.7,234.3 L1182.4,244.9 L1186.1,255.5 L1189.7,266.1 L1193.4,276.7 L1196.9,287.3 L1200.4,297.9 L1203.9,308.6 L1207.3,319.3 L1210.7,329.9 L1214.0,340.6 L1217.2,351.3 L1220.5,362.1 L1224.3,372.6 L1228.0,383.2 L1231.7,393.7 L1235.4,404.3Z" fill="#2c8a28"/>
<path d="M1231.9,345.7 L1230.2,336.9 L1228.3,328.2 L1226.4,319.5 L1224.4,310.8 L1221.6,302.3 L1218.7,293.9 L1215.8,285.5 L1212.8,277.1 L1209.6,268.8 L1206.4,260.5 L1203.2,252.2 L1199.8,244.0 L1196.3,235.8 L1192.7,227.7 L1189.1,219.6 L1185.3,211.5 L1185.3,211.5 L1188.4,219.8 L1191.5,228.2 L1194.6,236.5 L1197.5,244.9 L1200.4,253.3 L1203.2,261.7 L1205.9,270.1 L1208.5,278.6 L1211.0,287.0 L1213.5,295.5 L1215.9,304.1 L1218.1,312.6 L1221.0,321.0 L1223.8,329.4 L1226.5,337.9 L1229.1,346.4Z" fill="#32902c"/>
<path d="M1233.1,387.8 L1231.2,377.6 L1229.3,367.4 L1227.4,357.2 L1225.5,347.0 L1222.8,337.0 L1220.1,326.9 L1217.4,316.9 L1214.7,306.9 L1211.9,296.9 L1209.1,286.9 L1206.3,276.9 L1203.5,267.0 L1200.6,257.0 L1197.6,247.0 L1194.7,237.1 L1191.6,227.2 L1191.6,227.2 L1194.0,237.3 L1196.4,247.4 L1198.8,257.5 L1201.2,267.6 L1203.5,277.7 L1205.9,287.8 L1208.2,297.9 L1210.4,308.0 L1212.7,318.1 L1214.9,328.2 L1217.1,338.3 L1219.3,348.5 L1222.1,358.4 L1224.9,368.4 L1227.6,378.4 L1230.3,388.5Z" fill="#226f20"/>
<path d="M1240.9,402.8 L1242.3,396.4 L1243.8,390.0 L1245.3,383.6 L1246.8,377.2 L1247.6,370.7 L1248.4,364.1 L1249.2,357.6 L1250.1,351.1 L1250.9,344.6 L1251.7,338.1 L1252.5,331.6 L1253.3,325.1 L1254.0,318.6 L1254.8,312.0 L1255.6,305.5 L1256.3,299.0 L1256.3,299.0 L1254.9,305.4 L1253.6,311.9 L1252.3,318.3 L1251.0,324.7 L1249.8,331.2 L1248.5,337.6 L1247.2,344.0 L1245.9,350.5 L1244.6,356.9 L1243.4,363.3 L1242.1,369.8 L1240.8,376.2 L1240.2,382.7 L1239.5,389.3 L1238.8,395.8 L1238.2,402.3Z" fill="#2c8a28"/>
</g>
<path d="M843.5,445.1 L848.0,479.0 L921.0,479.0 L923.4,445.1 Z" fill="url(#potB)"/>
<ellipse cx="883.5" cy="443.1" rx="45.9" ry="5.7" fill="#d45a1c"/>
<ellipse cx="883.5" cy="442.3" rx="40.9" ry="2.7" fill="#8a4a26"/>
<path d="M1019.8,443.5 L1023.5,479.0 L1098.0,479.0 L1102.0,443.5 Z" fill="url(#potB)"/>
<ellipse cx="1060.9" cy="441.5" rx="47.1" ry="5.7" fill="#d45a1c"/>
<ellipse cx="1060.9" cy="440.7" rx="42.1" ry="2.7" fill="#8a4a26"/>
<path d="M1198.2,440.1 L1202.0,479.0 L1276.6,479.0 L1280.3,440.1 Z" fill="url(#potB)"/>
<ellipse cx="1239.2" cy="438.1" rx="47.0" ry="7.3" fill="#d45a1c"/>
<ellipse cx="1239.2" cy="437.3" rx="42.0" ry="4.3" fill="#a06a44"/>
<rect x="762.5" y="403.3" width="2.8" height="48.7" fill="#fff"/>
<text x="880.3" y="468.3" font-size="24.5" text-anchor="middle" fill="#fff">WT</text>
<text x="1052.2" y="468.3" font-size="24.5" text-anchor="middle" fill="#fff" font-style="italic">oschz1-1</text>
<text x="1234.7" y="468.3" font-size="24.5" text-anchor="middle" fill="#fff" font-style="italic">oschz1-2</text>
<text x="1352.8" y="82.0" font-size="24.5" text-anchor="end" fill="#fff">Sanya (SD)</text>
<line x1="1525.20" y1="99.90" x2="1525.20" y2="458.20" stroke="#000" stroke-width="2.6" stroke-linecap="butt"/>
<line x1="1515.50" y1="457.00" x2="1525.20" y2="457.00" stroke="#000" stroke-width="2.6" stroke-linecap="butt"/>
<text x="1503.0" y="465.6" font-size="24.5" text-anchor="end" fill="#000">70</text>
<line x1="1515.50" y1="397.66" x2="1525.20" y2="397.66" stroke="#000" stroke-width="2.6" stroke-linecap="butt"/>
<text x="1503.0" y="406.3" font-size="24.5" text-anchor="end" fill="#000">75</text>
<line x1="1515.50" y1="338.33" x2="1525.20" y2="338.33" stroke="#000" stroke-width="2.6" stroke-linecap="butt"/>
<text x="1503.0" y="346.9" font-size="24.5" text-anchor="end" fill="#000">80</text>
<line x1="1515.50" y1="279.00" x2="1525.20" y2="279.00" stroke="#000" stroke-width="2.6" stroke-linecap="butt"/>
<text x="1503.0" y="287.6" font-size="24.5" text-anchor="end" fill="#000">85</text>
<line x1="1515.50" y1="219.66" x2="1525.20" y2="219.66" stroke="#000" stroke-width="2.6" stroke-linecap="butt"/>
<text x="1503.0" y="228.3" font-size="24.5" text-anchor="end" fill="#000">90</text>
<line x1="1515.50" y1="160.32" x2="1525.20" y2="160.32" stroke="#000" stroke-width="2.6" stroke-linecap="butt"/>
<text x="1503.0" y="168.9" font-size="24.5" text-anchor="end" fill="#000">95</text>
<line x1="1515.50" y1="100.99" x2="1525.20" y2="100.99" stroke="#000" stroke-width="2.6" stroke-linecap="butt"/>
<text x="1503.0" y="109.6" font-size="24.5" text-anchor="end" fill="#000">100</text>
<line x1="1514.20" y1="457.00" x2="1976.00" y2="457.00" stroke="#000" stroke-width="2.6" stroke-linecap="butt"/>
<line x1="1755.30" y1="457.00" x2="1755.30" y2="469.00" stroke="#000" stroke-width="2.6" stroke-linecap="butt"/>
<text x="1641.5" y="496.0" font-size="25.3" text-anchor="middle" fill="#000">Shanghai (LD)</text>
<text x="1869.3" y="496.0" font-size="25.3" text-anchor="middle" fill="#000">Sanya (SD)</text>
<text transform="translate(1441,279.4) rotate(-90)" font-size="25.4" text-anchor="middle">Heading date (day)</text>
<rect x="1547.3" y="344.1" width="38.3" height="112.9" fill="#cccccc" stroke="#000" stroke-width="2.2"/>
<rect x="1622.2" y="272.9" width="38.8" height="184.1" fill="#ff0000" stroke="#000" stroke-width="2.2"/>
<rect x="1697.3" y="261.6" width="39.0" height="195.4" fill="#0070c0" stroke="#000" stroke-width="2.2"/>
<rect x="1773.4" y="396.3" width="37.9" height="60.7" fill="#cccccc" stroke="#000" stroke-width="2.2"/>
<rect x="1847.9" y="319.5" width="38.7" height="137.5" fill="#ff0000" stroke="#000" stroke-width="2.2"/>
<rect x="1923.3" y="319.2" width="38.6" height="137.8" fill="#0070c0" stroke="#000" stroke-width="2.2"/>
<circle cx="1566.4" cy="362.1" r="4.4" fill="#fff" stroke="#646464" stroke-width="2.4"/>
<circle cx="1562.4" cy="350.2" r="4.4" fill="#fff" stroke="#646464" stroke-width="2.4"/>
<circle cx="1566.4" cy="350.2" r="4.4" fill="#fff" stroke="#646464" stroke-width="2.4"/>
<circle cx="1570.4" cy="350.2" r="4.4" fill="#fff" stroke="#646464" stroke-width="2.4"/>
<circle cx="1550.9" cy="338.3" r="4.4" fill="#fff" stroke="#646464" stroke-width="2.4"/>
<circle cx="1556.1" cy="338.3" r="4.4" fill="#fff" stroke="#646464" stroke-width="2.4"/>
<circle cx="1561.2" cy="338.3" r="4.4" fill="#fff" stroke="#646464" stroke-width="2.4"/>
<circle cx="1566.4" cy="338.3" r="4.4" fill="#fff" stroke="#646464" stroke-width="2.4"/>
<circle cx="1571.6" cy="338.3" r="4.4" fill="#fff" stroke="#646464" stroke-width="2.4"/>
<circle cx="1576.7" cy="338.3" r="4.4" fill="#fff" stroke="#646464" stroke-width="2.4"/>
<circle cx="1581.9" cy="338.3" r="4.4" fill="#fff" stroke="#646464" stroke-width="2.4"/>
<circle cx="1562.4" cy="326.5" r="4.4" fill="#fff" stroke="#646464" stroke-width="2.4"/>
<circle cx="1566.4" cy="326.5" r="4.4" fill="#fff" stroke="#646464" stroke-width="2.4"/>
<circle cx="1570.4" cy="326.5" r="4.4" fill="#fff" stroke="#646464" stroke-width="2.4"/>
<circle cx="1563.9" cy="314.6" r="4.4" fill="#fff" stroke="#646464" stroke-width="2.4"/>
<circle cx="1568.9" cy="314.6" r="4.4" fill="#fff" stroke="#646464" stroke-width="2.4"/>
<circle cx="1638.6" cy="290.9" r="4.4" fill="#fff" stroke="#646464" stroke-width="2.4"/>
<circle cx="1644.6" cy="290.9" r="4.4" fill="#fff" stroke="#646464" stroke-width="2.4"/>
<circle cx="1633.4" cy="279.0" r="4.4" fill="#fff" stroke="#646464" stroke-width="2.4"/>
<circle cx="1637.5" cy="279.0" r="4.4" fill="#fff" stroke="#646464" stroke-width="2.4"/>
<circle cx="1641.6" cy="279.0" r="4.4" fill="#fff" stroke="#646464" stroke-width="2.4"/>
<circle cx="1645.7" cy="279.0" r="4.4" fill="#fff" stroke="#646464" stroke-width="2.4"/>
<circle cx="1649.8" cy="279.0" r="4.4" fill="#fff" stroke="#646464" stroke-width="2.4"/>
<circle cx="1625.6" cy="267.1" r="4.4" fill="#fff" stroke="#646464" stroke-width="2.4"/>
<circle cx="1630.3" cy="267.1" r="4.4" fill="#fff" stroke="#646464" stroke-width="2.4"/>
<circle cx="1635.1" cy="267.1" r="4.4" fill="#fff" stroke="#646464" stroke-width="2.4"/>
<circle cx="1639.8" cy="267.1" r="4.4" fill="#fff" stroke="#646464" stroke-width="2.4"/>
<circle cx="1644.6" cy="267.1" r="4.4" fill="#fff" stroke="#646464" stroke-width="2.4"/>
<circle cx="1649.4" cy="267.1" r="4.4" fill="#fff" stroke="#646464" stroke-width="2.4"/>
<circle cx="1654.1" cy="267.1" r="4.4" fill="#fff" stroke="#646464" stroke-width="2.4"/>
<circle cx="1658.6" cy="267.1" r="4.4" fill="#fff" stroke="#646464" stroke-width="2.4"/>
<circle cx="1633.4" cy="255.3" r="4.4" fill="#fff" stroke="#646464" stroke-width="2.4"/>
<circle cx="1637.5" cy="255.3" r="4.4" fill="#fff" stroke="#646464" stroke-width="2.4"/>
<circle cx="1641.6" cy="255.3" r="4.4" fill="#fff" stroke="#646464" stroke-width="2.4"/>
<circle cx="1645.7" cy="255.3" r="4.4" fill="#fff" stroke="#646464" stroke-width="2.4"/>
<circle cx="1649.8" cy="255.3" r="4.4" fill="#fff" stroke="#646464" stroke-width="2.4"/>
<circle cx="1638.6" cy="243.4" r="4.4" fill="#fff" stroke="#646464" stroke-width="2.4"/>
<circle cx="1644.6" cy="243.4" r="4.4" fill="#fff" stroke="#646464" stroke-width="2.4"/>
<circle cx="1641.6" cy="219.7" r="4.4" fill="#fff" stroke="#646464" stroke-width="2.4"/>
<circle cx="1716.8" cy="290.9" r="4.4" fill="#fff" stroke="#646464" stroke-width="2.4"/>
<circle cx="1714.3" cy="279.0" r="4.4" fill="#fff" stroke="#646464" stroke-width="2.4"/>
<circle cx="1719.3" cy="279.0" r="4.4" fill="#fff" stroke="#646464" stroke-width="2.4"/>
<circle cx="1704.1" cy="267.1" r="4.4" fill="#fff" stroke="#646464" stroke-width="2.4"/>
<circle cx="1709.2" cy="267.1" r="4.4" fill="#fff" stroke="#646464" stroke-width="2.4"/>
<circle cx="1714.3" cy="267.1" r="4.4" fill="#fff" stroke="#646464" stroke-width="2.4"/>
<circle cx="1719.3" cy="267.1" r="4.4" fill="#fff" stroke="#646464" stroke-width="2.4"/>
<circle cx="1724.4" cy="267.1" r="4.4" fill="#fff" stroke="#646464" stroke-width="2.4"/>
<circle cx="1729.9" cy="267.1" r="4.4" fill="#fff" stroke="#646464" stroke-width="2.4"/>
<circle cx="1700.8" cy="255.3" r="4.4" fill="#fff" stroke="#646464" stroke-width="2.4"/>
<circle cx="1705.4" cy="255.3" r="4.4" fill="#fff" stroke="#646464" stroke-width="2.4"/>
<circle cx="1710.0" cy="255.3" r="4.4" fill="#fff" stroke="#646464" stroke-width="2.4"/>
<circle cx="1714.5" cy="255.3" r="4.4" fill="#fff" stroke="#646464" stroke-width="2.4"/>
<circle cx="1719.1" cy="255.3" r="4.4" fill="#fff" stroke="#646464" stroke-width="2.4"/>
<circle cx="1723.6" cy="255.3" r="4.4" fill="#fff" stroke="#646464" stroke-width="2.4"/>
<circle cx="1728.2" cy="255.3" r="4.4" fill="#fff" stroke="#646464" stroke-width="2.4"/>
<circle cx="1733.2" cy="255.3" r="4.4" fill="#fff" stroke="#646464" stroke-width="2.4"/>
<circle cx="1713.3" cy="243.4" r="4.4" fill="#fff" stroke="#646464" stroke-width="2.4"/>
<circle cx="1720.3" cy="243.4" r="4.4" fill="#fff" stroke="#646464" stroke-width="2.4"/>
<circle cx="1716.8" cy="231.5" r="4.4" fill="#fff" stroke="#646464" stroke-width="2.4"/>
<circle cx="1789.3" cy="421.4" r="4.4" fill="#fff" stroke="#646464" stroke-width="2.4"/>
<circle cx="1795.3" cy="421.4" r="4.4" fill="#fff" stroke="#646464" stroke-width="2.4"/>
<circle cx="1784.3" cy="409.5" r="4.4" fill="#fff" stroke="#646464" stroke-width="2.4"/>
<circle cx="1789.3" cy="409.5" r="4.4" fill="#fff" stroke="#646464" stroke-width="2.4"/>
<circle cx="1795.3" cy="409.5" r="4.4" fill="#fff" stroke="#646464" stroke-width="2.4"/>
<circle cx="1800.3" cy="409.5" r="4.4" fill="#fff" stroke="#646464" stroke-width="2.4"/>
<circle cx="1784.3" cy="397.7" r="4.4" fill="#fff" stroke="#646464" stroke-width="2.4"/>
<circle cx="1789.3" cy="397.7" r="4.4" fill="#fff" stroke="#646464" stroke-width="2.4"/>
<circle cx="1795.3" cy="397.7" r="4.4" fill="#fff" stroke="#646464" stroke-width="2.4"/>
<circle cx="1800.3" cy="397.7" r="4.4" fill="#fff" stroke="#646464" stroke-width="2.4"/>
<circle cx="1775.8" cy="385.8" r="4.4" fill="#fff" stroke="#646464" stroke-width="2.4"/>
<circle cx="1781.3" cy="385.8" r="4.4" fill="#fff" stroke="#646464" stroke-width="2.4"/>
<circle cx="1785.3" cy="385.8" r="4.4" fill="#fff" stroke="#646464" stroke-width="2.4"/>
<circle cx="1791.3" cy="385.8" r="4.4" fill="#fff" stroke="#646464" stroke-width="2.4"/>
<circle cx="1796.8" cy="385.8" r="4.4" fill="#fff" stroke="#646464" stroke-width="2.4"/>
<circle cx="1803.3" cy="385.8" r="4.4" fill="#fff" stroke="#646464" stroke-width="2.4"/>
<circle cx="1808.8" cy="385.8" r="4.4" fill="#fff" stroke="#646464" stroke-width="2.4"/>
<circle cx="1789.3" cy="373.9" r="4.4" fill="#fff" stroke="#646464" stroke-width="2.4"/>
<circle cx="1795.3" cy="373.9" r="4.4" fill="#fff" stroke="#646464" stroke-width="2.4"/>
<circle cx="1792.3" cy="362.1" r="4.4" fill="#fff" stroke="#646464" stroke-width="2.4"/>
<circle cx="1859.2" cy="362.1" r="4.4" fill="#fff" stroke="#646464" stroke-width="2.4"/>
<circle cx="1875.3" cy="362.1" r="4.4" fill="#fff" stroke="#646464" stroke-width="2.4"/>
<circle cx="1851.0" cy="350.2" r="4.4" fill="#fff" stroke="#646464" stroke-width="2.4"/>
<circle cx="1867.2" cy="350.2" r="4.4" fill="#fff" stroke="#646464" stroke-width="2.4"/>
<circle cx="1883.5" cy="350.2" r="4.4" fill="#fff" stroke="#646464" stroke-width="2.4"/>
<circle cx="1859.2" cy="338.3" r="4.4" fill="#fff" stroke="#646464" stroke-width="2.4"/>
<circle cx="1875.3" cy="338.3" r="4.4" fill="#fff" stroke="#646464" stroke-width="2.4"/>
<circle cx="1851.0" cy="326.5" r="4.4" fill="#fff" stroke="#646464" stroke-width="2.4"/>
<circle cx="1867.2" cy="326.5" r="4.4" fill="#fff" stroke="#646464" stroke-width="2.4"/>
<circle cx="1883.5" cy="326.5" r="4.4" fill="#fff" stroke="#646464" stroke-width="2.4"/>
<circle cx="1859.2" cy="314.6" r="4.4" fill="#fff" stroke="#646464" stroke-width="2.4"/>
<circle cx="1875.3" cy="314.6" r="4.4" fill="#fff" stroke="#646464" stroke-width="2.4"/>
<circle cx="1859.2" cy="302.7" r="4.4" fill="#fff" stroke="#646464" stroke-width="2.4"/>
<circle cx="1875.3" cy="302.7" r="4.4" fill="#fff" stroke="#646464" stroke-width="2.4"/>
<circle cx="1859.2" cy="290.9" r="4.4" fill="#fff" stroke="#646464" stroke-width="2.4"/>
<circle cx="1875.3" cy="290.9" r="4.4" fill="#fff" stroke="#646464" stroke-width="2.4"/>
<circle cx="1851.0" cy="279.0" r="4.4" fill="#fff" stroke="#646464" stroke-width="2.4"/>
<circle cx="1867.2" cy="279.0" r="4.4" fill="#fff" stroke="#646464" stroke-width="2.4"/>
<circle cx="1883.5" cy="279.0" r="4.4" fill="#fff" stroke="#646464" stroke-width="2.4"/>
<circle cx="1867.2" cy="267.1" r="4.4" fill="#fff" stroke="#646464" stroke-width="2.4"/>
<circle cx="1942.6" cy="362.1" r="4.4" fill="#fff" stroke="#646464" stroke-width="2.4"/>
<circle cx="1930.2" cy="350.2" r="4.4" fill="#fff" stroke="#646464" stroke-width="2.4"/>
<circle cx="1938.5" cy="350.2" r="4.4" fill="#fff" stroke="#646464" stroke-width="2.4"/>
<circle cx="1946.8" cy="350.2" r="4.4" fill="#fff" stroke="#646464" stroke-width="2.4"/>
<circle cx="1955.0" cy="350.2" r="4.4" fill="#fff" stroke="#646464" stroke-width="2.4"/>
<circle cx="1942.6" cy="338.3" r="4.4" fill="#fff" stroke="#646464" stroke-width="2.4"/>
<circle cx="1926.4" cy="326.5" r="4.4" fill="#fff" stroke="#646464" stroke-width="2.4"/>
<circle cx="1934.5" cy="326.5" r="4.4" fill="#fff" stroke="#646464" stroke-width="2.4"/>
<circle cx="1942.6" cy="326.5" r="4.4" fill="#fff" stroke="#646464" stroke-width="2.4"/>
<circle cx="1950.7" cy="326.5" r="4.4" fill="#fff" stroke="#646464" stroke-width="2.4"/>
<circle cx="1959.1" cy="326.5" r="4.4" fill="#fff" stroke="#646464" stroke-width="2.4"/>
<circle cx="1942.6" cy="314.6" r="4.4" fill="#fff" stroke="#646464" stroke-width="2.4"/>
<circle cx="1938.2" cy="302.7" r="4.4" fill="#fff" stroke="#646464" stroke-width="2.4"/>
<circle cx="1947.0" cy="302.7" r="4.4" fill="#fff" stroke="#646464" stroke-width="2.4"/>
<circle cx="1934.3" cy="290.9" r="4.4" fill="#fff" stroke="#646464" stroke-width="2.4"/>
<circle cx="1942.6" cy="290.9" r="4.4" fill="#fff" stroke="#646464" stroke-width="2.4"/>
<circle cx="1950.9" cy="290.9" r="4.4" fill="#fff" stroke="#646464" stroke-width="2.4"/>
<circle cx="1938.2" cy="279.0" r="4.4" fill="#fff" stroke="#646464" stroke-width="2.4"/>
<circle cx="1947.0" cy="279.0" r="4.4" fill="#fff" stroke="#646464" stroke-width="2.4"/>
<circle cx="1942.6" cy="255.3" r="4.4" fill="#fff" stroke="#646464" stroke-width="2.4"/>
<line x1="1566.45" y1="325.00" x2="1566.45" y2="348.50" stroke="#000" stroke-width="2.8" stroke-linecap="butt"/>
<line x1="1556.45" y1="325.00" x2="1576.45" y2="325.00" stroke="#000" stroke-width="2.8" stroke-linecap="butt"/>
<line x1="1556.45" y1="348.50" x2="1576.45" y2="348.50" stroke="#000" stroke-width="2.8" stroke-linecap="butt"/>
<line x1="1641.60" y1="248.00" x2="1641.60" y2="282.40" stroke="#000" stroke-width="2.8" stroke-linecap="butt"/>
<line x1="1631.60" y1="248.00" x2="1651.60" y2="248.00" stroke="#000" stroke-width="2.8" stroke-linecap="butt"/>
<line x1="1631.60" y1="282.40" x2="1651.60" y2="282.40" stroke="#000" stroke-width="2.8" stroke-linecap="butt"/>
<line x1="1716.80" y1="246.40" x2="1716.80" y2="274.40" stroke="#000" stroke-width="2.8" stroke-linecap="butt"/>
<line x1="1706.80" y1="246.40" x2="1726.80" y2="246.40" stroke="#000" stroke-width="2.8" stroke-linecap="butt"/>
<line x1="1706.80" y1="274.40" x2="1726.80" y2="274.40" stroke="#000" stroke-width="2.8" stroke-linecap="butt"/>
<line x1="1792.35" y1="378.20" x2="1792.35" y2="410.00" stroke="#000" stroke-width="2.8" stroke-linecap="butt"/>
<line x1="1782.35" y1="378.20" x2="1802.35" y2="378.20" stroke="#000" stroke-width="2.8" stroke-linecap="butt"/>
<line x1="1782.35" y1="410.00" x2="1802.35" y2="410.00" stroke="#000" stroke-width="2.8" stroke-linecap="butt"/>
<line x1="1867.25" y1="287.80" x2="1867.25" y2="348.00" stroke="#000" stroke-width="2.8" stroke-linecap="butt"/>
<line x1="1857.25" y1="287.80" x2="1877.25" y2="287.80" stroke="#000" stroke-width="2.8" stroke-linecap="butt"/>
<line x1="1857.25" y1="348.00" x2="1877.25" y2="348.00" stroke="#000" stroke-width="2.8" stroke-linecap="butt"/>
<line x1="1942.60" y1="287.80" x2="1942.60" y2="346.60" stroke="#000" stroke-width="2.8" stroke-linecap="butt"/>
<line x1="1932.60" y1="287.80" x2="1952.60" y2="287.80" stroke="#000" stroke-width="2.8" stroke-linecap="butt"/>
<line x1="1932.60" y1="346.60" x2="1952.60" y2="346.60" stroke="#000" stroke-width="2.8" stroke-linecap="butt"/>
<path d="M1567.8,272.3 V124.3 H1678.9 V147.1" fill="none" stroke="#000" stroke-width="2.5"/>
<path d="M1793.1,303.6 V157.2 H1904.9 V180.6" fill="none" stroke="#000" stroke-width="2.5"/>
<text x="1620.0" y="108.2" font-size="25.5" text-anchor="middle" fill="#000">****</text>
<text x="1848.5" y="142.8" font-size="25.5" text-anchor="middle" fill="#000">****</text>
<line x1="1646.70" y1="200.30" x2="1717.70" y2="200.30" stroke="#000" stroke-width="2.5" stroke-linecap="butt"/>
<line x1="1867.30" y1="235.50" x2="1941.80" y2="235.50" stroke="#000" stroke-width="2.5" stroke-linecap="butt"/>
<text x="1679.5" y="186.2" font-size="24.5" text-anchor="middle" fill="#000">ns</text>
<text x="1905.8" y="220.7" font-size="24.5" text-anchor="middle" fill="#000">ns</text>
<rect x="1551.4" y="48.2" width="17.4" height="16.3" fill="#9b9b9b" stroke="#000" stroke-width="2.4"/>
<text x="1577.0" y="64.5" font-size="20.5" text-anchor="start" fill="#000">WT</text>
<rect x="1652.9" y="48.2" width="16.9" height="16.3" fill="#ed1c24" stroke="#000" stroke-width="2.4"/>
<text x="1678.0" y="63.5" font-size="20.5" text-anchor="start" fill="#000" font-style="italic">oschz1-1</text>
<rect x="1805" y="48.2" width="16.9" height="16.3" fill="#0070c0" stroke="#000" stroke-width="2.4"/>
<text x="1830.5" y="63.5" font-size="20.5" text-anchor="start" fill="#000" font-style="italic">oschz1-2</text>
<line x1="100.70" y1="603.20" x2="100.70" y2="869.60" stroke="#000" stroke-width="2.6" stroke-linecap="butt"/>
<line x1="89.70" y1="868.40" x2="496.40" y2="868.40" stroke="#000" stroke-width="2.6" stroke-linecap="butt"/>
<line x1="89.70" y1="604.40" x2="100.70" y2="604.40" stroke="#000" stroke-width="2.6" stroke-linecap="butt"/>
<text x="76.6" y="612.9" font-size="24.5" text-anchor="end" fill="#000">0.4</text>
<line x1="89.70" y1="671.10" x2="100.70" y2="671.10" stroke="#000" stroke-width="2.6" stroke-linecap="butt"/>
<text x="76.6" y="679.6" font-size="24.5" text-anchor="end" fill="#000">0.3</text>
<line x1="89.70" y1="736.80" x2="100.70" y2="736.80" stroke="#000" stroke-width="2.6" stroke-linecap="butt"/>
<text x="76.6" y="745.3" font-size="24.5" text-anchor="end" fill="#000">0.2</text>
<line x1="89.70" y1="802.70" x2="100.70" y2="802.70" stroke="#000" stroke-width="2.6" stroke-linecap="butt"/>
<text x="76.6" y="811.2" font-size="24.5" text-anchor="end" fill="#000">0.1</text>
<line x1="89.70" y1="868.40" x2="100.70" y2="868.40" stroke="#000" stroke-width="2.6" stroke-linecap="butt"/>
<text x="76.6" y="876.9" font-size="24.5" text-anchor="end" fill="#000">0.0</text>
<line x1="133.20" y1="868.40" x2="133.20" y2="879.40" stroke="#000" stroke-width="2.6" stroke-linecap="butt"/>
<text x="133.2" y="909.8" font-size="25" text-anchor="middle" fill="#000">0 h</text>
<line x1="199.10" y1="868.40" x2="199.10" y2="879.40" stroke="#000" stroke-width="2.6" stroke-linecap="butt"/>
<text x="199.1" y="909.8" font-size="25" text-anchor="middle" fill="#000">4 h</text>
<line x1="264.80" y1="868.40" x2="264.80" y2="879.40" stroke="#000" stroke-width="2.6" stroke-linecap="butt"/>
<text x="264.8" y="909.8" font-size="25" text-anchor="middle" fill="#000">8 h</text>
<line x1="330.50" y1="868.40" x2="330.50" y2="879.40" stroke="#000" stroke-width="2.6" stroke-linecap="butt"/>
<text x="330.5" y="909.8" font-size="25" text-anchor="middle" fill="#000">12 h</text>
<line x1="396.40" y1="868.40" x2="396.40" y2="879.40" stroke="#000" stroke-width="2.6" stroke-linecap="butt"/>
<text x="396.4" y="909.8" font-size="25" text-anchor="middle" fill="#000">16 h</text>
<line x1="462.10" y1="868.40" x2="462.10" y2="879.40" stroke="#000" stroke-width="2.6" stroke-linecap="butt"/>
<text x="462.1" y="909.8" font-size="25" text-anchor="middle" fill="#000">20 h</text>
<text x="298.2" y="588.3" font-size="25.3" text-anchor="middle" fill="#000" font-style="italic">OsChz1</text>
<path d="M133.2,820.4 L199.1,835.2 L264.8,845.0 L330.5,842.4 L396.4,830.8 L462.1,820.9" fill="none" stroke="#9a9ca0" stroke-width="2.6" stroke-linejoin="round"/>
<path d="M127.7,818.3 H138.7 M133.2,818.3 V823.0 M127.7,823.0 H138.7" fill="none" stroke="#9a9ca0" stroke-width="2.6"/>
<path d="M193.6,833.4 H204.6 M199.1,833.4 V837.2 M193.6,837.2 H204.6" fill="none" stroke="#9a9ca0" stroke-width="2.6"/>
<path d="M259.3,843.2 H270.3 M264.8,843.2 V847.1 M259.3,847.1 H270.3" fill="none" stroke="#9a9ca0" stroke-width="2.6"/>
<path d="M325.0,841.1 H336.0 M330.5,841.1 V843.7 M325.0,843.7 H336.0" fill="none" stroke="#9a9ca0" stroke-width="2.6"/>
<path d="M390.9,827.6 H401.9 M396.4,827.6 V834.7 M390.9,834.7 H401.9" fill="none" stroke="#9a9ca0" stroke-width="2.6"/>
<path d="M456.6,819.6 H467.6 M462.1,819.6 V822.2 M456.6,822.2 H467.6" fill="none" stroke="#9a9ca0" stroke-width="2.6"/>
<path d="M133.2,824.3 L199.1,827.4 L264.8,841.1 L330.5,828.2 L396.4,824.8 L462.1,804.3" fill="none" stroke="#e8101c" stroke-width="2.6" stroke-linejoin="round"/>
<path d="M127.7,821.7 H138.7 M133.2,821.7 V826.3 M127.7,826.3 H138.7" fill="none" stroke="#ff0000" stroke-width="2.6"/>
<path d="M193.6,824.8 H204.6 M199.1,824.8 V830.0 M193.6,830.0 H204.6" fill="none" stroke="#ff0000" stroke-width="2.6"/>
<path d="M259.3,838.5 H270.3 M264.8,838.5 V843.7 M259.3,843.7 H270.3" fill="none" stroke="#ff0000" stroke-width="2.6"/>
<path d="M325.0,824.8 H336.0 M330.5,824.8 V831.5 M325.0,831.5 H336.0" fill="none" stroke="#ff0000" stroke-width="2.6"/>
<path d="M390.9,821.4 H401.9 M396.4,821.4 V828.2 M390.9,828.2 H401.9" fill="none" stroke="#ff0000" stroke-width="2.6"/>
<path d="M456.6,801.7 H467.6 M462.1,801.7 V806.6 M456.6,806.6 H467.6" fill="none" stroke="#ff0000" stroke-width="2.6"/>
<path d="M133.2,662.0 L199.1,785.3 L264.8,778.8 L330.5,774.4 L396.4,743.3 L462.1,663.3" fill="none" stroke="#0070c0" stroke-width="2.6" stroke-linejoin="round"/>
<path d="M127.7,649.6 H138.7 M133.2,649.6 V673.7 M127.7,673.7 H138.7" fill="none" stroke="#0000c4" stroke-width="2.6"/>
<path d="M193.6,780.7 H204.6 M199.1,780.7 V790.5 M193.6,790.5 H204.6" fill="none" stroke="#0000c4" stroke-width="2.6"/>
<path d="M259.3,768.5 H270.3 M264.8,768.5 V790.0 M259.3,790.0 H270.3" fill="none" stroke="#0000c4" stroke-width="2.6"/>
<path d="M325.0,771.0 H336.0 M330.5,771.0 V778.1 M325.0,778.1 H336.0" fill="none" stroke="#0000c4" stroke-width="2.6"/>
<path d="M390.9,734.7 H401.9 M396.4,734.7 V751.6 M390.9,751.6 H401.9" fill="none" stroke="#0000c4" stroke-width="2.6"/>
<path d="M456.6,655.0 H467.6 M462.1,655.0 V668.0 M456.6,668.0 H467.6" fill="none" stroke="#0000c4" stroke-width="2.6"/>
<line x1="613.40" y1="602.40" x2="613.40" y2="869.90" stroke="#000" stroke-width="2.6" stroke-linecap="butt"/>
<line x1="602.40" y1="868.70" x2="1011.40" y2="868.70" stroke="#000" stroke-width="2.6" stroke-linecap="butt"/>
<line x1="602.40" y1="603.60" x2="613.40" y2="603.60" stroke="#000" stroke-width="2.6" stroke-linecap="butt"/>
<text x="589.6" y="612.1" font-size="24.5" text-anchor="end" fill="#000">2.5</text>
<line x1="602.40" y1="657.30" x2="613.40" y2="657.30" stroke="#000" stroke-width="2.6" stroke-linecap="butt"/>
<text x="589.6" y="665.8" font-size="24.5" text-anchor="end" fill="#000">2.0</text>
<line x1="602.40" y1="710.00" x2="613.40" y2="710.00" stroke="#000" stroke-width="2.6" stroke-linecap="butt"/>
<text x="589.6" y="718.5" font-size="24.5" text-anchor="end" fill="#000">1.5</text>
<line x1="602.40" y1="762.70" x2="613.40" y2="762.70" stroke="#000" stroke-width="2.6" stroke-linecap="butt"/>
<text x="589.6" y="771.2" font-size="24.5" text-anchor="end" fill="#000">1.0</text>
<line x1="602.40" y1="815.70" x2="613.40" y2="815.70" stroke="#000" stroke-width="2.6" stroke-linecap="butt"/>
<text x="589.6" y="824.2" font-size="24.5" text-anchor="end" fill="#000">0.5</text>
<line x1="602.40" y1="868.70" x2="613.40" y2="868.70" stroke="#000" stroke-width="2.6" stroke-linecap="butt"/>
<text x="589.6" y="877.2" font-size="24.5" text-anchor="end" fill="#000">0.0</text>
<line x1="646.70" y1="868.70" x2="646.70" y2="879.70" stroke="#000" stroke-width="2.6" stroke-linecap="butt"/>
<text x="646.7" y="910.7" font-size="25" text-anchor="middle" fill="#000">0 h</text>
<line x1="712.60" y1="868.70" x2="712.60" y2="879.70" stroke="#000" stroke-width="2.6" stroke-linecap="butt"/>
<text x="712.6" y="910.7" font-size="25" text-anchor="middle" fill="#000">4 h</text>
<line x1="778.80" y1="868.70" x2="778.80" y2="879.70" stroke="#000" stroke-width="2.6" stroke-linecap="butt"/>
<text x="778.8" y="910.7" font-size="25" text-anchor="middle" fill="#000">8 h</text>
<line x1="844.80" y1="868.70" x2="844.80" y2="879.70" stroke="#000" stroke-width="2.6" stroke-linecap="butt"/>
<text x="844.8" y="910.7" font-size="25" text-anchor="middle" fill="#000">12 h</text>
<line x1="911.00" y1="868.70" x2="911.00" y2="879.70" stroke="#000" stroke-width="2.6" stroke-linecap="butt"/>
<text x="911.0" y="910.7" font-size="25" text-anchor="middle" fill="#000">16 h</text>
<line x1="977.20" y1="868.70" x2="977.20" y2="879.70" stroke="#000" stroke-width="2.6" stroke-linecap="butt"/>
<text x="977.2" y="910.7" font-size="25" text-anchor="middle" fill="#000">20 h</text>
<text x="812.8" y="588.3" font-size="25.3" text-anchor="middle" fill="#000" font-style="italic">Hd3a</text>
<path d="M646.7,779.4 L712.6,778.3 L778.8,845.6 L844.8,865.3 L911.0,858.5 L977.2,817.0" fill="none" stroke="#9a9ca0" stroke-width="2.6" stroke-linejoin="round"/>
<path d="M641.2,772.9 H652.2 M646.7,772.9 V787.9 M641.2,787.9 H652.2" fill="none" stroke="#9a9ca0" stroke-width="2.6"/>
<path d="M707.1,776.2 H718.1 M712.6,776.2 V780.9 M707.1,780.9 H718.1" fill="none" stroke="#9a9ca0" stroke-width="2.6"/>
<path d="M773.3,843.7 H784.3 M778.8,843.7 V847.6 M773.3,847.6 H784.3" fill="none" stroke="#9a9ca0" stroke-width="2.6"/>
<path d="M905.5,857.2 H916.5 M911.0,857.2 V860.1 M905.5,860.1 H916.5" fill="none" stroke="#9a9ca0" stroke-width="2.6"/>
<path d="M971.7,814.4 H982.7 M977.2,814.4 V819.6 M971.7,819.6 H982.7" fill="none" stroke="#9a9ca0" stroke-width="2.6"/>
<path d="M646.7,790.5 L712.6,757.5 L778.8,834.7 L844.8,866.3 L911.0,863.2 L977.2,827.6" fill="none" stroke="#e8101c" stroke-width="2.6" stroke-linejoin="round"/>
<path d="M641.2,788.7 H652.2 M646.7,788.7 V793.1 M641.2,793.1 H652.2" fill="none" stroke="#ff0000" stroke-width="2.6"/>
<path d="M707.1,747.7 H718.1 M712.6,747.7 V767.2 M707.1,767.2 H718.1" fill="none" stroke="#ff0000" stroke-width="2.6"/>
<path d="M773.3,832.6 H784.3 M778.8,832.6 V836.7 M773.3,836.7 H784.3" fill="none" stroke="#ff0000" stroke-width="2.6"/>
<path d="M905.5,861.9 H916.5 M911.0,861.9 V864.5 M905.5,864.5 H916.5" fill="none" stroke="#ff0000" stroke-width="2.6"/>
<path d="M971.7,826.1 H982.7 M977.2,826.1 V829.5 M971.7,829.5 H982.7" fill="none" stroke="#ff0000" stroke-width="2.6"/>
<path d="M646.7,725.6 L712.6,663.3 L778.8,813.1 L844.8,866.6 L911.0,865.8 L977.2,782.7" fill="none" stroke="#0070c0" stroke-width="2.6" stroke-linejoin="round"/>
<path d="M641.2,720.4 H652.2 M646.7,720.4 V732.1 M641.2,732.1 H652.2" fill="none" stroke="#0000c4" stroke-width="2.6"/>
<path d="M707.1,658.1 H718.1 M712.6,658.1 V669.0 M707.1,669.0 H718.1" fill="none" stroke="#0000c4" stroke-width="2.6"/>
<path d="M773.3,808.7 H784.3 M778.8,808.7 V817.8 M773.3,817.8 H784.3" fill="none" stroke="#0000c4" stroke-width="2.6"/>
<path d="M971.7,776.8 H982.7 M977.2,776.8 V789.2 M971.7,789.2 H982.7" fill="none" stroke="#0000c4" stroke-width="2.6"/>
<line x1="1114.20" y1="608.40" x2="1114.20" y2="871.70" stroke="#000" stroke-width="2.6" stroke-linecap="butt"/>
<line x1="1103.20" y1="870.50" x2="1505.70" y2="870.50" stroke="#000" stroke-width="2.6" stroke-linecap="butt"/>
<line x1="1103.20" y1="609.60" x2="1114.20" y2="609.60" stroke="#000" stroke-width="2.6" stroke-linecap="butt"/>
<text x="1089.6" y="618.1" font-size="24.5" text-anchor="end" fill="#000">2.5</text>
<line x1="1103.20" y1="662.50" x2="1114.20" y2="662.50" stroke="#000" stroke-width="2.6" stroke-linecap="butt"/>
<text x="1089.6" y="671.0" font-size="24.5" text-anchor="end" fill="#000">2.0</text>
<line x1="1103.20" y1="714.50" x2="1114.20" y2="714.50" stroke="#000" stroke-width="2.6" stroke-linecap="butt"/>
<text x="1089.6" y="723.0" font-size="24.5" text-anchor="end" fill="#000">1.5</text>
<line x1="1103.20" y1="766.40" x2="1114.20" y2="766.40" stroke="#000" stroke-width="2.6" stroke-linecap="butt"/>
<text x="1089.6" y="774.9" font-size="24.5" text-anchor="end" fill="#000">1.0</text>
<line x1="1103.20" y1="818.60" x2="1114.20" y2="818.60" stroke="#000" stroke-width="2.6" stroke-linecap="butt"/>
<text x="1089.6" y="827.1" font-size="24.5" text-anchor="end" fill="#000">0.5</text>
<line x1="1103.20" y1="870.50" x2="1114.20" y2="870.50" stroke="#000" stroke-width="2.6" stroke-linecap="butt"/>
<text x="1089.6" y="879.0" font-size="24.5" text-anchor="end" fill="#000">0.0</text>
<line x1="1146.20" y1="870.50" x2="1146.20" y2="881.50" stroke="#000" stroke-width="2.6" stroke-linecap="butt"/>
<text x="1146.2" y="912.4" font-size="25" text-anchor="middle" fill="#000">0 h</text>
<line x1="1211.60" y1="870.50" x2="1211.60" y2="881.50" stroke="#000" stroke-width="2.6" stroke-linecap="butt"/>
<text x="1211.6" y="912.4" font-size="25" text-anchor="middle" fill="#000">4 h</text>
<line x1="1276.50" y1="870.50" x2="1276.50" y2="881.50" stroke="#000" stroke-width="2.6" stroke-linecap="butt"/>
<text x="1276.5" y="912.4" font-size="25" text-anchor="middle" fill="#000">8 h</text>
<line x1="1341.60" y1="870.50" x2="1341.60" y2="881.50" stroke="#000" stroke-width="2.6" stroke-linecap="butt"/>
<text x="1341.6" y="912.4" font-size="25" text-anchor="middle" fill="#000">12 h</text>
<line x1="1406.50" y1="870.50" x2="1406.50" y2="881.50" stroke="#000" stroke-width="2.6" stroke-linecap="butt"/>
<text x="1406.5" y="912.4" font-size="25" text-anchor="middle" fill="#000">16 h</text>
<line x1="1471.70" y1="870.50" x2="1471.70" y2="881.50" stroke="#000" stroke-width="2.6" stroke-linecap="butt"/>
<text x="1471.7" y="912.4" font-size="25" text-anchor="middle" fill="#000">20 h</text>
<text x="1310.2" y="587.8" font-size="25.3" text-anchor="middle" fill="#000" font-style="italic">RFT1</text>
<path d="M1146.2,782.7 L1211.6,782.0 L1276.5,847.6 L1341.6,867.1 L1406.5,861.1 L1471.7,819.9" fill="none" stroke="#9a9ca0" stroke-width="2.6" stroke-linejoin="round"/>
<path d="M1140.7,776.2 H1151.7 M1146.2,776.2 V790.5 M1140.7,790.5 H1151.7" fill="none" stroke="#9a9ca0" stroke-width="2.6"/>
<path d="M1206.1,779.4 H1217.1 M1211.6,779.4 V784.5 M1206.1,784.5 H1217.1" fill="none" stroke="#9a9ca0" stroke-width="2.6"/>
<path d="M1271.0,845.8 H1282.0 M1276.5,845.8 V849.4 M1271.0,849.4 H1282.0" fill="none" stroke="#9a9ca0" stroke-width="2.6"/>
<path d="M1401.0,859.8 H1412.0 M1406.5,859.8 V862.4 M1401.0,862.4 H1412.0" fill="none" stroke="#9a9ca0" stroke-width="2.6"/>
<path d="M1466.2,817.3 H1477.2 M1471.7,817.3 V822.5 M1466.2,822.5 H1477.2" fill="none" stroke="#9a9ca0" stroke-width="2.6"/>
<path d="M1146.2,794.4 L1211.6,760.7 L1276.5,836.7 L1341.6,868.4 L1406.5,865.3 L1471.7,830.2" fill="none" stroke="#e8101c" stroke-width="2.6" stroke-linejoin="round"/>
<path d="M1140.7,792.3 H1151.7 M1146.2,792.3 V796.5 M1140.7,796.5 H1151.7" fill="none" stroke="#ff0000" stroke-width="2.6"/>
<path d="M1206.1,751.1 H1217.1 M1211.6,751.1 V770.3 M1206.1,770.3 H1217.1" fill="none" stroke="#ff0000" stroke-width="2.6"/>
<path d="M1271.0,835.2 H1282.0 M1276.5,835.2 V838.5 M1271.0,838.5 H1282.0" fill="none" stroke="#ff0000" stroke-width="2.6"/>
<path d="M1401.0,864.0 H1412.0 M1406.5,864.0 V866.6 M1401.0,866.6 H1412.0" fill="none" stroke="#ff0000" stroke-width="2.6"/>
<path d="M1466.2,828.7 H1477.2 M1471.7,828.7 V832.1 M1466.2,832.1 H1477.2" fill="none" stroke="#ff0000" stroke-width="2.6"/>
<path d="M1146.2,730.3 L1211.6,669.0 L1276.5,816.0 L1341.6,868.4 L1406.5,867.9 L1471.7,786.1" fill="none" stroke="#0070c0" stroke-width="2.6" stroke-linejoin="round"/>
<path d="M1140.7,724.3 H1151.7 M1146.2,724.3 V736.0 M1140.7,736.0 H1151.7" fill="none" stroke="#0000c4" stroke-width="2.6"/>
<path d="M1206.1,663.3 H1217.1 M1211.6,663.3 V674.5 M1206.1,674.5 H1217.1" fill="none" stroke="#0000c4" stroke-width="2.6"/>
<path d="M1271.0,811.3 H1282.0 M1276.5,811.3 V820.4 M1271.0,820.4 H1282.0" fill="none" stroke="#0000c4" stroke-width="2.6"/>
<path d="M1466.2,780.1 H1477.2 M1471.7,780.1 V791.8 M1466.2,791.8 H1477.2" fill="none" stroke="#0000c4" stroke-width="2.6"/>
<line x1="1614.30" y1="601.10" x2="1614.30" y2="871.40" stroke="#000" stroke-width="2.6" stroke-linecap="butt"/>
<line x1="1603.30" y1="870.20" x2="2017.00" y2="870.20" stroke="#000" stroke-width="2.6" stroke-linecap="butt"/>
<line x1="1603.30" y1="602.30" x2="1614.30" y2="602.30" stroke="#000" stroke-width="2.6" stroke-linecap="butt"/>
<text x="1589.2" y="610.8" font-size="24.5" text-anchor="end" fill="#000">0.4</text>
<line x1="1603.30" y1="669.80" x2="1614.30" y2="669.80" stroke="#000" stroke-width="2.6" stroke-linecap="butt"/>
<text x="1589.2" y="678.3" font-size="24.5" text-anchor="end" fill="#000">0.3</text>
<line x1="1603.30" y1="736.50" x2="1614.30" y2="736.50" stroke="#000" stroke-width="2.6" stroke-linecap="butt"/>
<text x="1589.2" y="745.0" font-size="24.5" text-anchor="end" fill="#000">0.2</text>
<line x1="1603.30" y1="803.50" x2="1614.30" y2="803.50" stroke="#000" stroke-width="2.6" stroke-linecap="butt"/>
<text x="1589.2" y="812.0" font-size="24.5" text-anchor="end" fill="#000">0.1</text>
<line x1="1603.30" y1="870.20" x2="1614.30" y2="870.20" stroke="#000" stroke-width="2.6" stroke-linecap="butt"/>
<text x="1589.2" y="878.7" font-size="24.5" text-anchor="end" fill="#000">0.0</text>
<line x1="1647.00" y1="870.20" x2="1647.00" y2="881.20" stroke="#000" stroke-width="2.6" stroke-linecap="butt"/>
<text x="1647.0" y="913.7" font-size="25" text-anchor="middle" fill="#000">0 h</text>
<line x1="1714.00" y1="870.20" x2="1714.00" y2="881.20" stroke="#000" stroke-width="2.6" stroke-linecap="butt"/>
<text x="1714.0" y="913.7" font-size="25" text-anchor="middle" fill="#000">4 h</text>
<line x1="1781.30" y1="870.20" x2="1781.30" y2="881.20" stroke="#000" stroke-width="2.6" stroke-linecap="butt"/>
<text x="1781.3" y="913.7" font-size="25" text-anchor="middle" fill="#000">8 h</text>
<line x1="1848.20" y1="870.20" x2="1848.20" y2="881.20" stroke="#000" stroke-width="2.6" stroke-linecap="butt"/>
<text x="1848.2" y="913.7" font-size="25" text-anchor="middle" fill="#000">12 h</text>
<line x1="1915.00" y1="870.20" x2="1915.00" y2="881.20" stroke="#000" stroke-width="2.6" stroke-linecap="butt"/>
<text x="1915.0" y="913.7" font-size="25" text-anchor="middle" fill="#000">16 h</text>
<line x1="1981.70" y1="870.20" x2="1981.70" y2="881.20" stroke="#000" stroke-width="2.6" stroke-linecap="butt"/>
<text x="1981.7" y="913.7" font-size="25" text-anchor="middle" fill="#000">20 h</text>
<text x="1815.0" y="588.3" font-size="25.3" text-anchor="middle" fill="#000" font-style="italic">Ehd1</text>
<path d="M1647.0,782.7 L1714.0,867.6 L1781.3,870.2 L1848.2,869.7 L1915.0,858.0 L1981.7,834.7" fill="none" stroke="#9a9ca0" stroke-width="2.6" stroke-linejoin="round"/>
<path d="M1641.5,765.3 H1652.5 M1647.0,765.3 V793.9 M1641.5,793.9 H1652.5" fill="none" stroke="#9a9ca0" stroke-width="2.6"/>
<path d="M1909.5,856.7 H1920.5 M1915.0,856.7 V859.8 M1909.5,859.8 H1920.5" fill="none" stroke="#9a9ca0" stroke-width="2.6"/>
<path d="M1976.2,825.0 H1987.2 M1981.7,825.0 V842.4 M1976.2,842.4 H1987.2" fill="none" stroke="#9a9ca0" stroke-width="2.6"/>
<path d="M1647.0,783.5 L1714.0,865.8 L1781.3,869.7 L1848.2,865.0 L1915.0,852.3 L1981.7,835.4" fill="none" stroke="#e8101c" stroke-width="2.6" stroke-linejoin="round"/>
<path d="M1641.5,781.4 H1652.5 M1647.0,781.4 V785.3 M1641.5,785.3 H1652.5" fill="none" stroke="#ff0000" stroke-width="2.6"/>
<path d="M1909.5,850.7 H1920.5 M1915.0,850.7 V854.1 M1909.5,854.1 H1920.5" fill="none" stroke="#ff0000" stroke-width="2.6"/>
<path d="M1976.2,830.0 H1987.2 M1981.7,830.0 V841.1 M1976.2,841.1 H1987.2" fill="none" stroke="#ff0000" stroke-width="2.6"/>
<path d="M1647.0,652.9 L1714.0,846.9 L1781.3,869.7 L1848.2,857.2 L1915.0,821.7 L1981.7,780.1" fill="none" stroke="#0070c0" stroke-width="2.6" stroke-linejoin="round"/>
<path d="M1641.5,639.9 H1652.5 M1647.0,639.9 V666.7 M1641.5,666.7 H1652.5" fill="none" stroke="#0000c4" stroke-width="2.6"/>
<path d="M1708.5,845.0 H1719.5 M1714.0,845.0 V848.9 M1708.5,848.9 H1719.5" fill="none" stroke="#0000c4" stroke-width="2.6"/>
<path d="M1842.7,855.4 H1853.7 M1848.2,855.4 V859.3 M1842.7,859.3 H1853.7" fill="none" stroke="#0000c4" stroke-width="2.6"/>
<path d="M1909.5,818.6 H1920.5 M1915.0,818.6 V825.6 M1909.5,825.6 H1920.5" fill="none" stroke="#0000c4" stroke-width="2.6"/>
<path d="M1976.2,771.0 H1987.2 M1981.7,771.0 V787.9 M1976.2,787.9 H1987.2" fill="none" stroke="#0000c4" stroke-width="2.6"/>
<line x1="100.50" y1="1007.60" x2="100.50" y2="1277.90" stroke="#000" stroke-width="2.6" stroke-linecap="butt"/>
<line x1="89.50" y1="1276.70" x2="502.30" y2="1276.70" stroke="#000" stroke-width="2.6" stroke-linecap="butt"/>
<line x1="89.50" y1="1008.80" x2="100.50" y2="1008.80" stroke="#000" stroke-width="2.6" stroke-linecap="butt"/>
<text x="76.6" y="1017.3" font-size="24.5" text-anchor="end" fill="#000">6</text>
<line x1="89.50" y1="1097.80" x2="100.50" y2="1097.80" stroke="#000" stroke-width="2.6" stroke-linecap="butt"/>
<text x="76.6" y="1106.3" font-size="24.5" text-anchor="end" fill="#000">4</text>
<line x1="89.50" y1="1187.40" x2="100.50" y2="1187.40" stroke="#000" stroke-width="2.6" stroke-linecap="butt"/>
<text x="76.6" y="1195.9" font-size="24.5" text-anchor="end" fill="#000">2</text>
<line x1="89.50" y1="1276.70" x2="100.50" y2="1276.70" stroke="#000" stroke-width="2.6" stroke-linecap="butt"/>
<text x="76.6" y="1285.2" font-size="24.5" text-anchor="end" fill="#000">0</text>
<line x1="133.70" y1="1276.70" x2="133.70" y2="1287.70" stroke="#000" stroke-width="2.6" stroke-linecap="butt"/>
<text x="133.7" y="1317.6" font-size="25" text-anchor="middle" fill="#000">0 h</text>
<line x1="200.40" y1="1276.70" x2="200.40" y2="1287.70" stroke="#000" stroke-width="2.6" stroke-linecap="butt"/>
<text x="200.4" y="1317.6" font-size="25" text-anchor="middle" fill="#000">4 h</text>
<line x1="266.90" y1="1276.70" x2="266.90" y2="1287.70" stroke="#000" stroke-width="2.6" stroke-linecap="butt"/>
<text x="266.9" y="1317.6" font-size="25" text-anchor="middle" fill="#000">8 h</text>
<line x1="334.10" y1="1276.70" x2="334.10" y2="1287.70" stroke="#000" stroke-width="2.6" stroke-linecap="butt"/>
<text x="334.1" y="1317.6" font-size="25" text-anchor="middle" fill="#000">12 h</text>
<line x1="401.10" y1="1276.70" x2="401.10" y2="1287.70" stroke="#000" stroke-width="2.6" stroke-linecap="butt"/>
<text x="401.1" y="1317.6" font-size="25" text-anchor="middle" fill="#000">16 h</text>
<line x1="467.80" y1="1276.70" x2="467.80" y2="1287.70" stroke="#000" stroke-width="2.6" stroke-linecap="butt"/>
<text x="467.8" y="1317.6" font-size="25" text-anchor="middle" fill="#000">20 h</text>
<text x="301.1" y="990.9" font-size="25.3" text-anchor="middle" fill="#000" font-style="italic">Ehd3</text>
<text x="63.6" y="979.0" font-size="24.5">(10<tspan font-size="16" dy="-10">−3</tspan><tspan dy="10">)</tspan></text>
<path d="M133.7,1154.2 L200.4,1123.0 L266.9,1174.9 L334.1,1168.5 L401.1,1086.7 L467.8,1116.5" fill="none" stroke="#9a9ca0" stroke-width="2.6" stroke-linejoin="round"/>
<path d="M128.2,1142.5 H139.2 M133.7,1142.5 V1165.9 M128.2,1165.9 H139.2" fill="none" stroke="#9a9ca0" stroke-width="2.6"/>
<path d="M194.9,1121.7 H205.9 M200.4,1121.7 V1124.8 M194.9,1124.8 H205.9" fill="none" stroke="#9a9ca0" stroke-width="2.6"/>
<path d="M261.4,1165.9 H272.4 M266.9,1165.9 V1184.5 M261.4,1184.5 H272.4" fill="none" stroke="#9a9ca0" stroke-width="2.6"/>
<path d="M328.6,1152.9 H339.6 M334.1,1152.9 V1184.0 M328.6,1184.0 H339.6" fill="none" stroke="#9a9ca0" stroke-width="2.6"/>
<path d="M395.6,1068.5 H406.6 M401.1,1068.5 V1106.1 M395.6,1106.1 H406.6" fill="none" stroke="#9a9ca0" stroke-width="2.6"/>
<path d="M462.3,1090.6 H473.3 M467.8,1090.6 V1142.5 M462.3,1142.5 H473.3" fill="none" stroke="#9a9ca0" stroke-width="2.6"/>
<path d="M133.7,1147.2 L200.4,1129.0 L266.9,1162.5 L334.1,1154.2 L401.1,1084.1 L467.8,1150.3" fill="none" stroke="#e8101c" stroke-width="2.6" stroke-linejoin="round"/>
<path d="M128.2,1126.9 H139.2 M133.7,1126.9 V1167.9 M128.2,1167.9 H139.2" fill="none" stroke="#ff0000" stroke-width="2.6"/>
<path d="M194.9,1120.9 H205.9 M200.4,1120.9 V1136.8 M194.9,1136.8 H205.9" fill="none" stroke="#ff0000" stroke-width="2.6"/>
<path d="M261.4,1149.0 H272.4 M266.9,1149.0 V1175.7 M261.4,1175.7 H272.4" fill="none" stroke="#ff0000" stroke-width="2.6"/>
<path d="M328.6,1133.4 H339.6 M334.1,1133.4 V1176.8 M328.6,1176.8 H339.6" fill="none" stroke="#ff0000" stroke-width="2.6"/>
<path d="M395.6,1069.8 H406.6 M401.1,1069.8 V1097.8 M395.6,1097.8 H406.6" fill="none" stroke="#ff0000" stroke-width="2.6"/>
<path d="M462.3,1132.1 H473.3 M467.8,1132.1 V1172.9 M462.3,1172.9 H473.3" fill="none" stroke="#ff0000" stroke-width="2.6"/>
<path d="M133.7,1122.5 L200.4,1146.4 L266.9,1167.7 L334.1,1147.7 L401.1,1083.3 L467.8,1145.1" fill="none" stroke="#0070c0" stroke-width="2.6" stroke-linejoin="round"/>
<path d="M128.2,1089.3 H139.2 M133.7,1089.3 V1155.5 M128.2,1155.5 H139.2" fill="none" stroke="#0000c4" stroke-width="2.6"/>
<path d="M194.9,1126.9 H205.9 M200.4,1126.9 V1165.3 M194.9,1165.3 H205.9" fill="none" stroke="#0000c4" stroke-width="2.6"/>
<path d="M261.4,1158.8 H272.4 M266.9,1158.8 V1176.8 M261.4,1176.8 H272.4" fill="none" stroke="#0000c4" stroke-width="2.6"/>
<path d="M328.6,1116.5 H339.6 M334.1,1116.5 V1180.1 M328.6,1180.1 H339.6" fill="none" stroke="#0000c4" stroke-width="2.6"/>
<path d="M395.6,1056.8 H406.6 M401.1,1056.8 V1110.8 M395.6,1110.8 H406.6" fill="none" stroke="#0000c4" stroke-width="2.6"/>
<path d="M462.3,1134.7 H473.3 M467.8,1134.7 V1160.7 M462.3,1160.7 H473.3" fill="none" stroke="#0000c4" stroke-width="2.6"/>
<line x1="612.90" y1="1012.80" x2="612.90" y2="1279.50" stroke="#000" stroke-width="2.6" stroke-linecap="butt"/>
<line x1="601.90" y1="1278.30" x2="1009.60" y2="1278.30" stroke="#000" stroke-width="2.6" stroke-linecap="butt"/>
<line x1="601.90" y1="1014.00" x2="612.90" y2="1014.00" stroke="#000" stroke-width="2.6" stroke-linecap="butt"/>
<text x="589.0" y="1022.5" font-size="24.5" text-anchor="end" fill="#000">0.4</text>
<line x1="601.90" y1="1080.20" x2="612.90" y2="1080.20" stroke="#000" stroke-width="2.6" stroke-linecap="butt"/>
<text x="589.0" y="1088.7" font-size="24.5" text-anchor="end" fill="#000">0.3</text>
<line x1="601.90" y1="1146.40" x2="612.90" y2="1146.40" stroke="#000" stroke-width="2.6" stroke-linecap="butt"/>
<text x="589.0" y="1154.9" font-size="24.5" text-anchor="end" fill="#000">0.2</text>
<line x1="601.90" y1="1212.60" x2="612.90" y2="1212.60" stroke="#000" stroke-width="2.6" stroke-linecap="butt"/>
<text x="589.0" y="1221.1" font-size="24.5" text-anchor="end" fill="#000">0.1</text>
<line x1="601.90" y1="1278.30" x2="612.90" y2="1278.30" stroke="#000" stroke-width="2.6" stroke-linecap="butt"/>
<text x="589.0" y="1286.8" font-size="24.5" text-anchor="end" fill="#000">0.0</text>
<line x1="645.60" y1="1278.30" x2="645.60" y2="1289.30" stroke="#000" stroke-width="2.6" stroke-linecap="butt"/>
<text x="645.6" y="1320.2" font-size="25" text-anchor="middle" fill="#000">0 h</text>
<line x1="711.80" y1="1278.30" x2="711.80" y2="1289.30" stroke="#000" stroke-width="2.6" stroke-linecap="butt"/>
<text x="711.8" y="1320.2" font-size="25" text-anchor="middle" fill="#000">4 h</text>
<line x1="777.80" y1="1278.30" x2="777.80" y2="1289.30" stroke="#000" stroke-width="2.6" stroke-linecap="butt"/>
<text x="777.8" y="1320.2" font-size="25" text-anchor="middle" fill="#000">8 h</text>
<line x1="844.00" y1="1278.30" x2="844.00" y2="1289.30" stroke="#000" stroke-width="2.6" stroke-linecap="butt"/>
<text x="844.0" y="1320.2" font-size="25" text-anchor="middle" fill="#000">12 h</text>
<line x1="909.70" y1="1278.30" x2="909.70" y2="1289.30" stroke="#000" stroke-width="2.6" stroke-linecap="butt"/>
<text x="909.7" y="1320.2" font-size="25" text-anchor="middle" fill="#000">16 h</text>
<line x1="975.60" y1="1278.30" x2="975.60" y2="1289.30" stroke="#000" stroke-width="2.6" stroke-linecap="butt"/>
<text x="975.6" y="1320.2" font-size="25" text-anchor="middle" fill="#000">20 h</text>
<text x="812.0" y="990.1" font-size="25.3" text-anchor="middle" fill="#000" font-style="italic">Ehd4</text>
<path d="M645.6,1143.8 L711.8,1223.5 L777.8,1256.2 L844.0,1254.1 L909.7,1252.8 L975.6,1237.2" fill="none" stroke="#9a9ca0" stroke-width="2.6" stroke-linejoin="round"/>
<path d="M640.1,1136.5 H651.1 M645.6,1136.5 V1150.8 M640.1,1150.8 H651.1" fill="none" stroke="#9a9ca0" stroke-width="2.6"/>
<path d="M706.3,1221.7 H717.3 M711.8,1221.7 V1225.6 M706.3,1225.6 H717.3" fill="none" stroke="#9a9ca0" stroke-width="2.6"/>
<path d="M772.3,1254.6 H783.3 M777.8,1254.6 V1258.3 M772.3,1258.3 H783.3" fill="none" stroke="#9a9ca0" stroke-width="2.6"/>
<path d="M970.1,1235.4 H981.1 M975.6,1235.4 V1239.1 M970.1,1239.1 H981.1" fill="none" stroke="#9a9ca0" stroke-width="2.6"/>
<path d="M645.6,1094.5 L711.8,1211.3 L777.8,1250.2 L844.0,1248.9 L909.7,1259.8 L975.6,1232.1" fill="none" stroke="#e8101c" stroke-width="2.6" stroke-linejoin="round"/>
<path d="M640.1,1088.5 H651.1 M645.6,1088.5 V1097.8 M640.1,1097.8 H651.1" fill="none" stroke="#ff0000" stroke-width="2.6"/>
<path d="M706.3,1207.9 H717.3 M711.8,1207.9 V1214.7 M706.3,1214.7 H717.3" fill="none" stroke="#ff0000" stroke-width="2.6"/>
<path d="M772.3,1248.9 H783.3 M777.8,1248.9 V1251.5 M772.3,1251.5 H783.3" fill="none" stroke="#ff0000" stroke-width="2.6"/>
<path d="M838.5,1247.6 H849.5 M844.0,1247.6 V1250.5 M838.5,1250.5 H849.5" fill="none" stroke="#ff0000" stroke-width="2.6"/>
<path d="M904.2,1258.8 H915.2 M909.7,1258.8 V1261.4 M904.2,1261.4 H915.2" fill="none" stroke="#ff0000" stroke-width="2.6"/>
<path d="M970.1,1230.8 H981.1 M975.6,1230.8 V1233.9 M970.1,1233.9 H981.1" fill="none" stroke="#ff0000" stroke-width="2.6"/>
<path d="M645.6,1107.4 L711.8,1230.8 L777.8,1254.1 L844.0,1260.6 L909.7,1252.8 L975.6,1220.4" fill="none" stroke="#0070c0" stroke-width="2.6" stroke-linejoin="round"/>
<path d="M640.1,1101.0 H651.1 M645.6,1101.0 V1114.5 M640.1,1114.5 H651.1" fill="none" stroke="#0000c4" stroke-width="2.6"/>
<path d="M706.3,1226.1 H717.3 M711.8,1226.1 V1236.0 M706.3,1236.0 H717.3" fill="none" stroke="#0000c4" stroke-width="2.6"/>
<path d="M772.3,1252.8 H783.3 M777.8,1252.8 V1256.2 M772.3,1256.2 H783.3" fill="none" stroke="#0000c4" stroke-width="2.6"/>
<path d="M904.2,1251.5 H915.2 M909.7,1251.5 V1254.1 M904.2,1254.1 H915.2" fill="none" stroke="#0000c4" stroke-width="2.6"/>
<path d="M970.1,1218.6 H981.1 M975.6,1218.6 V1222.5 M970.1,1222.5 H981.1" fill="none" stroke="#0000c4" stroke-width="2.6"/>
<line x1="1112.40" y1="1014.10" x2="1112.40" y2="1281.30" stroke="#000" stroke-width="2.6" stroke-linecap="butt"/>
<line x1="1101.40" y1="1280.10" x2="1511.40" y2="1280.10" stroke="#000" stroke-width="2.6" stroke-linecap="butt"/>
<line x1="1101.40" y1="1015.30" x2="1112.40" y2="1015.30" stroke="#000" stroke-width="2.6" stroke-linecap="butt"/>
<text x="1088.0" y="1023.8" font-size="24.5" text-anchor="end" fill="#000">6</text>
<line x1="1101.40" y1="1103.60" x2="1112.40" y2="1103.60" stroke="#000" stroke-width="2.6" stroke-linecap="butt"/>
<text x="1088.0" y="1112.1" font-size="24.5" text-anchor="end" fill="#000">4</text>
<line x1="1101.40" y1="1191.80" x2="1112.40" y2="1191.80" stroke="#000" stroke-width="2.6" stroke-linecap="butt"/>
<text x="1088.0" y="1200.3" font-size="24.5" text-anchor="end" fill="#000">2</text>
<line x1="1101.40" y1="1280.10" x2="1112.40" y2="1280.10" stroke="#000" stroke-width="2.6" stroke-linecap="butt"/>
<text x="1088.0" y="1288.6" font-size="24.5" text-anchor="end" fill="#000">0</text>
<line x1="1145.90" y1="1280.10" x2="1145.90" y2="1291.10" stroke="#000" stroke-width="2.6" stroke-linecap="butt"/>
<text x="1145.9" y="1321.5" font-size="25" text-anchor="middle" fill="#000">0 h</text>
<line x1="1212.40" y1="1280.10" x2="1212.40" y2="1291.10" stroke="#000" stroke-width="2.6" stroke-linecap="butt"/>
<text x="1212.4" y="1321.5" font-size="25" text-anchor="middle" fill="#000">4 h</text>
<line x1="1278.60" y1="1280.10" x2="1278.60" y2="1291.10" stroke="#000" stroke-width="2.6" stroke-linecap="butt"/>
<text x="1278.6" y="1321.5" font-size="25" text-anchor="middle" fill="#000">8 h</text>
<line x1="1344.80" y1="1280.10" x2="1344.80" y2="1291.10" stroke="#000" stroke-width="2.6" stroke-linecap="butt"/>
<text x="1344.8" y="1321.5" font-size="25" text-anchor="middle" fill="#000">12 h</text>
<line x1="1410.70" y1="1280.10" x2="1410.70" y2="1291.10" stroke="#000" stroke-width="2.6" stroke-linecap="butt"/>
<text x="1410.7" y="1321.5" font-size="25" text-anchor="middle" fill="#000">16 h</text>
<line x1="1477.20" y1="1280.10" x2="1477.20" y2="1291.10" stroke="#000" stroke-width="2.6" stroke-linecap="butt"/>
<text x="1477.2" y="1321.5" font-size="25" text-anchor="middle" fill="#000">20 h</text>
<text x="1312.8" y="990.9" font-size="25.3" text-anchor="middle" fill="#000" font-style="italic">Ghd7</text>
<text x="1059.7" y="979.0" font-size="24.5">(10<tspan font-size="16" dy="-10">−2</tspan><tspan dy="10">)</tspan></text>
<path d="M1145.9,1169.8 L1212.4,1115.2 L1278.6,1211.3 L1344.8,1226.9 L1410.7,1243.7 L1477.2,1214.4" fill="none" stroke="#9a9ca0" stroke-width="2.6" stroke-linejoin="round"/>
<path d="M1140.4,1160.7 H1151.4 M1145.9,1160.7 V1177.5 M1140.4,1177.5 H1151.4" fill="none" stroke="#9a9ca0" stroke-width="2.6"/>
<path d="M1206.9,1097.1 H1217.9 M1212.4,1097.1 V1133.4 M1206.9,1133.4 H1217.9" fill="none" stroke="#9a9ca0" stroke-width="2.6"/>
<path d="M1273.1,1208.7 H1284.1 M1278.6,1208.7 V1214.4 M1273.1,1214.4 H1284.1" fill="none" stroke="#9a9ca0" stroke-width="2.6"/>
<path d="M1339.3,1213.9 H1350.3 M1344.8,1213.9 V1239.8 M1339.3,1239.8 H1350.3" fill="none" stroke="#9a9ca0" stroke-width="2.6"/>
<path d="M1405.2,1232.1 H1416.2 M1410.7,1232.1 V1256.7 M1405.2,1256.7 H1416.2" fill="none" stroke="#9a9ca0" stroke-width="2.6"/>
<path d="M1471.7,1199.1 H1482.7 M1477.2,1199.1 V1229.5 M1471.7,1229.5 H1482.7" fill="none" stroke="#9a9ca0" stroke-width="2.6"/>
<path d="M1145.9,1198.3 L1212.4,1085.4 L1278.6,1204.0 L1344.8,1217.0 L1410.7,1235.4 L1477.2,1222.5" fill="none" stroke="#e8101c" stroke-width="2.6" stroke-linejoin="round"/>
<path d="M1140.4,1183.5 H1151.4 M1145.9,1183.5 V1213.9 M1140.4,1213.9 H1151.4" fill="none" stroke="#ff0000" stroke-width="2.6"/>
<path d="M1206.9,1062.5 H1217.9 M1212.4,1062.5 V1107.4 M1206.9,1107.4 H1217.9" fill="none" stroke="#ff0000" stroke-width="2.6"/>
<path d="M1273.1,1198.3 H1284.1 M1278.6,1198.3 V1209.5 M1273.1,1209.5 H1284.1" fill="none" stroke="#ff0000" stroke-width="2.6"/>
<path d="M1339.3,1204.8 H1350.3 M1344.8,1204.8 V1229.5 M1339.3,1229.5 H1350.3" fill="none" stroke="#ff0000" stroke-width="2.6"/>
<path d="M1405.2,1232.8 H1416.2 M1410.7,1232.8 V1238.5 M1405.2,1238.5 H1416.2" fill="none" stroke="#ff0000" stroke-width="2.6"/>
<path d="M1471.7,1217.8 H1482.7 M1477.2,1217.8 V1227.6 M1471.7,1227.6 H1482.7" fill="none" stroke="#ff0000" stroke-width="2.6"/>
<path d="M1145.9,1213.9 L1212.4,1065.9 L1278.6,1212.6 L1344.8,1244.5 L1410.7,1278.8 L1477.2,1252.0" fill="none" stroke="#0070c0" stroke-width="2.6" stroke-linejoin="round"/>
<path d="M1140.4,1190.0 H1151.4 M1145.9,1190.0 V1238.0 M1140.4,1238.0 H1151.4" fill="none" stroke="#0000c4" stroke-width="2.6"/>
<path d="M1206.9,1031.6 H1217.9 M1212.4,1031.6 V1101.0 M1206.9,1101.0 H1217.9" fill="none" stroke="#0000c4" stroke-width="2.6"/>
<path d="M1273.1,1206.6 H1284.1 M1278.6,1206.6 V1220.4 M1273.1,1220.4 H1284.1" fill="none" stroke="#0000c4" stroke-width="2.6"/>
<path d="M1339.3,1240.6 H1350.3 M1344.8,1240.6 V1248.9 M1339.3,1248.9 H1350.3" fill="none" stroke="#0000c4" stroke-width="2.6"/>
<path d="M1471.7,1241.9 H1482.7 M1477.2,1241.9 V1261.9 M1471.7,1261.9 H1482.7" fill="none" stroke="#0000c4" stroke-width="2.6"/>
<line x1="1613.80" y1="1011.50" x2="1613.80" y2="1280.00" stroke="#000" stroke-width="2.6" stroke-linecap="butt"/>
<line x1="1602.80" y1="1278.80" x2="2013.60" y2="1278.80" stroke="#000" stroke-width="2.6" stroke-linecap="butt"/>
<line x1="1602.80" y1="1012.70" x2="1613.80" y2="1012.70" stroke="#000" stroke-width="2.6" stroke-linecap="butt"/>
<text x="1588.4" y="1021.2" font-size="24.5" text-anchor="end" fill="#000">1.5</text>
<line x1="1602.80" y1="1101.70" x2="1613.80" y2="1101.70" stroke="#000" stroke-width="2.6" stroke-linecap="butt"/>
<text x="1588.4" y="1110.2" font-size="24.5" text-anchor="end" fill="#000">1.0</text>
<line x1="1602.80" y1="1190.50" x2="1613.80" y2="1190.50" stroke="#000" stroke-width="2.6" stroke-linecap="butt"/>
<text x="1588.4" y="1199.0" font-size="24.5" text-anchor="end" fill="#000">0.5</text>
<line x1="1602.80" y1="1278.80" x2="1613.80" y2="1278.80" stroke="#000" stroke-width="2.6" stroke-linecap="butt"/>
<text x="1588.4" y="1287.3" font-size="24.5" text-anchor="end" fill="#000">0.0</text>
<line x1="1646.50" y1="1278.80" x2="1646.50" y2="1289.80" stroke="#000" stroke-width="2.6" stroke-linecap="butt"/>
<text x="1646.5" y="1320.2" font-size="25" text-anchor="middle" fill="#000">0 h</text>
<line x1="1713.00" y1="1278.80" x2="1713.00" y2="1289.80" stroke="#000" stroke-width="2.6" stroke-linecap="butt"/>
<text x="1713.0" y="1320.2" font-size="25" text-anchor="middle" fill="#000">4 h</text>
<line x1="1780.00" y1="1278.80" x2="1780.00" y2="1289.80" stroke="#000" stroke-width="2.6" stroke-linecap="butt"/>
<text x="1780.0" y="1320.2" font-size="25" text-anchor="middle" fill="#000">8 h</text>
<line x1="1846.20" y1="1278.80" x2="1846.20" y2="1289.80" stroke="#000" stroke-width="2.6" stroke-linecap="butt"/>
<text x="1846.2" y="1320.2" font-size="25" text-anchor="middle" fill="#000">12 h</text>
<line x1="1912.40" y1="1278.80" x2="1912.40" y2="1289.80" stroke="#000" stroke-width="2.6" stroke-linecap="butt"/>
<text x="1912.4" y="1320.2" font-size="25" text-anchor="middle" fill="#000">16 h</text>
<line x1="1979.10" y1="1278.80" x2="1979.10" y2="1289.80" stroke="#000" stroke-width="2.6" stroke-linecap="butt"/>
<text x="1979.1" y="1320.2" font-size="25" text-anchor="middle" fill="#000">20 h</text>
<text x="1813.7" y="990.9" font-size="25.3" text-anchor="middle" fill="#000" font-style="italic">OsGI</text>
<path d="M1646.5,1276.2 L1713.0,1098.4 L1780.0,1100.4 L1846.2,1114.5 L1912.4,1266.6 L1979.1,1277.5" fill="none" stroke="#9a9ca0" stroke-width="2.6" stroke-linejoin="round"/>
<path d="M1707.5,1091.3 H1718.5 M1713.0,1091.3 V1106.1 M1707.5,1106.1 H1718.5" fill="none" stroke="#9a9ca0" stroke-width="2.6"/>
<path d="M1774.5,1081.5 H1785.5 M1780.0,1081.5 V1119.1 M1774.5,1119.1 H1785.5" fill="none" stroke="#9a9ca0" stroke-width="2.6"/>
<path d="M1840.7,1112.6 H1851.7 M1846.2,1112.6 V1116.5 M1840.7,1116.5 H1851.7" fill="none" stroke="#9a9ca0" stroke-width="2.6"/>
<path d="M1646.5,1277.5 L1713.0,1110.0 L1780.0,1077.6 L1846.2,1085.4 L1912.4,1269.2 L1979.1,1278.0" fill="none" stroke="#e8101c" stroke-width="2.6" stroke-linejoin="round"/>
<path d="M1707.5,1104.3 H1718.5 M1713.0,1104.3 V1116.0 M1707.5,1116.0 H1718.5" fill="none" stroke="#ff0000" stroke-width="2.6"/>
<path d="M1774.5,1072.4 H1785.5 M1780.0,1072.4 V1083.6 M1774.5,1083.6 H1785.5" fill="none" stroke="#ff0000" stroke-width="2.6"/>
<path d="M1840.7,1076.8 H1851.7 M1846.2,1076.8 V1094.5 M1840.7,1094.5 H1851.7" fill="none" stroke="#ff0000" stroke-width="2.6"/>
<path d="M1906.9,1267.6 H1917.9 M1912.4,1267.6 V1270.2 M1906.9,1270.2 H1917.9" fill="none" stroke="#ff0000" stroke-width="2.6"/>
<path d="M1646.5,1273.1 L1713.0,1129.5 L1780.0,1087.5 L1846.2,1103.0 L1912.4,1262.7 L1979.1,1277.5" fill="none" stroke="#0070c0" stroke-width="2.6" stroke-linejoin="round"/>
<path d="M1641.0,1271.8 H1652.0 M1646.5,1271.8 V1274.9 M1641.0,1274.9 H1652.0" fill="none" stroke="#0000c4" stroke-width="2.6"/>
<path d="M1707.5,1122.5 H1718.5 M1713.0,1122.5 V1136.0 M1707.5,1136.0 H1718.5" fill="none" stroke="#0000c4" stroke-width="2.6"/>
<path d="M1774.5,1080.2 H1785.5 M1780.0,1080.2 V1095.2 M1774.5,1095.2 H1785.5" fill="none" stroke="#0000c4" stroke-width="2.6"/>
<path d="M1840.7,1095.8 H1851.7 M1846.2,1095.8 V1110.8 M1840.7,1110.8 H1851.7" fill="none" stroke="#0000c4" stroke-width="2.6"/>
<path d="M1906.9,1261.4 H1917.9 M1912.4,1261.4 V1264.0 M1906.9,1264.0 H1917.9" fill="none" stroke="#0000c4" stroke-width="2.6"/>
<line x1="100.70" y1="1408.90" x2="100.70" y2="1686.50" stroke="#000" stroke-width="2.6" stroke-linecap="butt"/>
<line x1="89.70" y1="1685.30" x2="513.50" y2="1685.30" stroke="#000" stroke-width="2.6" stroke-linecap="butt"/>
<line x1="89.70" y1="1410.10" x2="100.70" y2="1410.10" stroke="#000" stroke-width="2.6" stroke-linecap="butt"/>
<text x="76.6" y="1418.6" font-size="24.5" text-anchor="end" fill="#000">8</text>
<line x1="89.70" y1="1479.40" x2="100.70" y2="1479.40" stroke="#000" stroke-width="2.6" stroke-linecap="butt"/>
<text x="76.6" y="1487.9" font-size="24.5" text-anchor="end" fill="#000">6</text>
<line x1="89.70" y1="1547.70" x2="100.70" y2="1547.70" stroke="#000" stroke-width="2.6" stroke-linecap="butt"/>
<text x="76.6" y="1556.2" font-size="24.5" text-anchor="end" fill="#000">4</text>
<line x1="89.70" y1="1616.50" x2="100.70" y2="1616.50" stroke="#000" stroke-width="2.6" stroke-linecap="butt"/>
<text x="76.6" y="1625.0" font-size="24.5" text-anchor="end" fill="#000">2</text>
<line x1="89.70" y1="1685.30" x2="100.70" y2="1685.30" stroke="#000" stroke-width="2.6" stroke-linecap="butt"/>
<text x="76.6" y="1693.8" font-size="24.5" text-anchor="end" fill="#000">0</text>
<line x1="135.00" y1="1685.30" x2="135.00" y2="1696.30" stroke="#000" stroke-width="2.6" stroke-linecap="butt"/>
<text x="135.0" y="1726.7" font-size="25" text-anchor="middle" fill="#000">0 h</text>
<line x1="203.80" y1="1685.30" x2="203.80" y2="1696.30" stroke="#000" stroke-width="2.6" stroke-linecap="butt"/>
<text x="203.8" y="1726.7" font-size="25" text-anchor="middle" fill="#000">4 h</text>
<line x1="271.80" y1="1685.30" x2="271.80" y2="1696.30" stroke="#000" stroke-width="2.6" stroke-linecap="butt"/>
<text x="271.8" y="1726.7" font-size="25" text-anchor="middle" fill="#000">8 h</text>
<line x1="340.10" y1="1685.30" x2="340.10" y2="1696.30" stroke="#000" stroke-width="2.6" stroke-linecap="butt"/>
<text x="340.1" y="1726.7" font-size="25" text-anchor="middle" fill="#000">12 h</text>
<line x1="408.90" y1="1685.30" x2="408.90" y2="1696.30" stroke="#000" stroke-width="2.6" stroke-linecap="butt"/>
<text x="408.9" y="1726.7" font-size="25" text-anchor="middle" fill="#000">16 h</text>
<line x1="477.70" y1="1685.30" x2="477.70" y2="1696.30" stroke="#000" stroke-width="2.6" stroke-linecap="butt"/>
<text x="477.7" y="1726.7" font-size="25" text-anchor="middle" fill="#000">20 h</text>
<text x="307.1" y="1392.2" font-size="25.3" text-anchor="middle" fill="#000" font-style="italic">HD1</text>
<text x="63.6" y="1386.7" font-size="24.5">(10<tspan font-size="16" dy="-10">−3</tspan><tspan dy="10">)</tspan></text>
<path d="M135.0,1586.6 L203.8,1680.1 L271.8,1684.0 L340.1,1536.8 L408.9,1488.0 L477.7,1512.6" fill="none" stroke="#9a9ca0" stroke-width="2.6" stroke-linejoin="round"/>
<path d="M129.5,1561.4 H140.5 M135.0,1561.4 V1612.6 M129.5,1612.6 H140.5" fill="none" stroke="#9a9ca0" stroke-width="2.6"/>
<path d="M198.3,1671.8 H209.3 M203.8,1671.8 V1682.7 M198.3,1682.7 H209.3" fill="none" stroke="#9a9ca0" stroke-width="2.6"/>
<path d="M334.6,1515.2 H345.6 M340.1,1515.2 V1558.1 M334.6,1558.1 H345.6" fill="none" stroke="#9a9ca0" stroke-width="2.6"/>
<path d="M403.4,1469.0 H414.4 M408.9,1469.0 V1507.4 M403.4,1507.4 H414.4" fill="none" stroke="#9a9ca0" stroke-width="2.6"/>
<path d="M472.2,1493.2 H483.2 M477.7,1493.2 V1532.1 M472.2,1532.1 H483.2" fill="none" stroke="#9a9ca0" stroke-width="2.6"/>
<path d="M135.0,1591.3 L203.8,1678.3 L271.8,1673.6 L340.1,1491.9 L408.9,1497.1 L477.7,1560.7" fill="none" stroke="#e8101c" stroke-width="2.6" stroke-linejoin="round"/>
<path d="M129.5,1585.3 H140.5 M135.0,1585.3 V1598.3 M129.5,1598.3 H140.5" fill="none" stroke="#ff0000" stroke-width="2.6"/>
<path d="M198.3,1676.7 H209.3 M203.8,1676.7 V1680.6 M198.3,1680.6 H209.3" fill="none" stroke="#ff0000" stroke-width="2.6"/>
<path d="M266.3,1672.3 H277.3 M271.8,1672.3 V1677.5 M266.3,1677.5 H277.3" fill="none" stroke="#ff0000" stroke-width="2.6"/>
<path d="M334.6,1471.6 H345.6 M340.1,1471.6 V1511.3 M334.6,1511.3 H345.6" fill="none" stroke="#ff0000" stroke-width="2.6"/>
<path d="M403.4,1487.5 H414.4 M408.9,1487.5 V1507.4 M403.4,1507.4 H414.4" fill="none" stroke="#ff0000" stroke-width="2.6"/>
<path d="M472.2,1549.8 H483.2 M477.7,1549.8 V1572.3 M472.2,1572.3 H483.2" fill="none" stroke="#ff0000" stroke-width="2.6"/>
<path d="M135.0,1586.6 L203.8,1684.5 L271.8,1674.9 L340.1,1512.6 L408.9,1478.4 L477.7,1545.1" fill="none" stroke="#0070c0" stroke-width="2.6" stroke-linejoin="round"/>
<path d="M129.5,1540.4 H140.5 M135.0,1540.4 V1632.1 M129.5,1632.1 H140.5" fill="none" stroke="#0000c4" stroke-width="2.6"/>
<path d="M266.3,1669.7 H277.3 M271.8,1669.7 V1679.6 M266.3,1679.6 H277.3" fill="none" stroke="#0000c4" stroke-width="2.6"/>
<path d="M334.6,1495.0 H345.6 M340.1,1495.0 V1531.3 M334.6,1531.3 H345.6" fill="none" stroke="#0000c4" stroke-width="2.6"/>
<path d="M403.4,1447.2 H414.4 M408.9,1447.2 V1508.7 M403.4,1508.7 H414.4" fill="none" stroke="#0000c4" stroke-width="2.6"/>
<path d="M472.2,1534.7 H483.2 M477.7,1534.7 V1555.0 M472.2,1555.0 H483.2" fill="none" stroke="#0000c4" stroke-width="2.6"/>
<line x1="612.90" y1="1402.40" x2="612.90" y2="1684.70" stroke="#000" stroke-width="2.6" stroke-linecap="butt"/>
<line x1="601.90" y1="1683.50" x2="1015.30" y2="1683.50" stroke="#000" stroke-width="2.6" stroke-linecap="butt"/>
<line x1="601.90" y1="1403.60" x2="612.90" y2="1403.60" stroke="#000" stroke-width="2.6" stroke-linecap="butt"/>
<text x="589.6" y="1412.1" font-size="24.5" text-anchor="end" fill="#000">0.8</text>
<line x1="601.90" y1="1474.20" x2="612.90" y2="1474.20" stroke="#000" stroke-width="2.6" stroke-linecap="butt"/>
<text x="589.6" y="1482.7" font-size="24.5" text-anchor="end" fill="#000">0.6</text>
<line x1="601.90" y1="1543.80" x2="612.90" y2="1543.80" stroke="#000" stroke-width="2.6" stroke-linecap="butt"/>
<text x="589.6" y="1552.3" font-size="24.5" text-anchor="end" fill="#000">0.4</text>
<line x1="601.90" y1="1613.40" x2="612.90" y2="1613.40" stroke="#000" stroke-width="2.6" stroke-linecap="butt"/>
<text x="589.6" y="1621.9" font-size="24.5" text-anchor="end" fill="#000">0.2</text>
<line x1="601.90" y1="1683.50" x2="612.90" y2="1683.50" stroke="#000" stroke-width="2.6" stroke-linecap="butt"/>
<text x="589.6" y="1692.0" font-size="24.5" text-anchor="end" fill="#000">0.0</text>
<line x1="646.20" y1="1683.50" x2="646.20" y2="1694.50" stroke="#000" stroke-width="2.6" stroke-linecap="butt"/>
<text x="646.2" y="1726.7" font-size="25" text-anchor="middle" fill="#000">0 h</text>
<line x1="713.40" y1="1683.50" x2="713.40" y2="1694.50" stroke="#000" stroke-width="2.6" stroke-linecap="butt"/>
<text x="713.4" y="1726.7" font-size="25" text-anchor="middle" fill="#000">4 h</text>
<line x1="779.80" y1="1683.50" x2="779.80" y2="1694.50" stroke="#000" stroke-width="2.6" stroke-linecap="butt"/>
<text x="779.8" y="1726.7" font-size="25" text-anchor="middle" fill="#000">8 h</text>
<line x1="846.60" y1="1683.50" x2="846.60" y2="1694.50" stroke="#000" stroke-width="2.6" stroke-linecap="butt"/>
<text x="846.6" y="1726.7" font-size="25" text-anchor="middle" fill="#000">12 h</text>
<line x1="913.50" y1="1683.50" x2="913.50" y2="1694.50" stroke="#000" stroke-width="2.6" stroke-linecap="butt"/>
<text x="913.5" y="1726.7" font-size="25" text-anchor="middle" fill="#000">16 h</text>
<line x1="980.80" y1="1683.50" x2="980.80" y2="1694.50" stroke="#000" stroke-width="2.6" stroke-linecap="butt"/>
<text x="980.8" y="1726.7" font-size="25" text-anchor="middle" fill="#000">20 h</text>
<text x="814.1" y="1392.2" font-size="25.3" text-anchor="middle" fill="#000" font-style="italic">OsMADS50</text>
<path d="M646.2,1520.4 L713.4,1633.4 L779.8,1665.0 L846.6,1669.2 L913.5,1667.1 L980.8,1633.4" fill="none" stroke="#9a9ca0" stroke-width="2.6" stroke-linejoin="round"/>
<path d="M640.7,1510.0 H651.7 M646.2,1510.0 V1530.0 M640.7,1530.0 H651.7" fill="none" stroke="#9a9ca0" stroke-width="2.6"/>
<path d="M707.9,1631.3 H718.9 M713.4,1631.3 V1635.2 M707.9,1635.2 H718.9" fill="none" stroke="#9a9ca0" stroke-width="2.6"/>
<path d="M975.3,1631.3 H986.3 M980.8,1631.3 V1635.4 M975.3,1635.4 H986.3" fill="none" stroke="#9a9ca0" stroke-width="2.6"/>
<path d="M646.2,1472.4 L713.4,1638.5 L779.8,1664.5 L846.6,1658.5 L913.5,1669.7 L980.8,1643.2" fill="none" stroke="#e8101c" stroke-width="2.6" stroke-linejoin="round"/>
<path d="M707.9,1635.2 H718.9 M713.4,1635.2 V1641.9 M707.9,1641.9 H718.9" fill="none" stroke="#ff0000" stroke-width="2.6"/>
<path d="M841.1,1656.7 H852.1 M846.6,1656.7 V1660.6 M841.1,1660.6 H852.1" fill="none" stroke="#ff0000" stroke-width="2.6"/>
<path d="M908.0,1668.4 H919.0 M913.5,1668.4 V1671.0 M908.0,1671.0 H919.0" fill="none" stroke="#ff0000" stroke-width="2.6"/>
<path d="M975.3,1641.7 H986.3 M980.8,1641.7 V1645.0 M975.3,1645.0 H986.3" fill="none" stroke="#ff0000" stroke-width="2.6"/>
<path d="M646.2,1471.9 L713.4,1654.6 L779.8,1664.0 L846.6,1663.2 L913.5,1666.3 L980.8,1623.5" fill="none" stroke="#0070c0" stroke-width="2.6" stroke-linejoin="round"/>
<path d="M640.7,1462.0 H651.7 M646.2,1462.0 V1481.5 M640.7,1481.5 H651.7" fill="none" stroke="#0000c4" stroke-width="2.6"/>
<path d="M707.9,1652.3 H718.9 M713.4,1652.3 V1656.7 M707.9,1656.7 H718.9" fill="none" stroke="#0000c4" stroke-width="2.6"/>
<path d="M841.1,1661.9 H852.1 M846.6,1661.9 V1665.0 M841.1,1665.0 H852.1" fill="none" stroke="#0000c4" stroke-width="2.6"/>
<path d="M975.3,1621.7 H986.3 M980.8,1621.7 V1625.6 M975.3,1625.6 H986.3" fill="none" stroke="#0000c4" stroke-width="2.6"/>
<line x1="1114.20" y1="1415.40" x2="1114.20" y2="1685.40" stroke="#000" stroke-width="2.6" stroke-linecap="butt"/>
<line x1="1103.20" y1="1684.20" x2="1516.10" y2="1684.20" stroke="#000" stroke-width="2.6" stroke-linecap="butt"/>
<line x1="1103.20" y1="1416.60" x2="1114.20" y2="1416.60" stroke="#000" stroke-width="2.6" stroke-linecap="butt"/>
<text x="1090.3" y="1425.1" font-size="24.5" text-anchor="end" fill="#000">2.0</text>
<line x1="1103.20" y1="1484.10" x2="1114.20" y2="1484.10" stroke="#000" stroke-width="2.6" stroke-linecap="butt"/>
<text x="1090.3" y="1492.6" font-size="24.5" text-anchor="end" fill="#000">1.5</text>
<line x1="1103.20" y1="1550.80" x2="1114.20" y2="1550.80" stroke="#000" stroke-width="2.6" stroke-linecap="butt"/>
<text x="1090.3" y="1559.3" font-size="24.5" text-anchor="end" fill="#000">1.0</text>
<line x1="1103.20" y1="1617.30" x2="1114.20" y2="1617.30" stroke="#000" stroke-width="2.6" stroke-linecap="butt"/>
<text x="1090.3" y="1625.8" font-size="24.5" text-anchor="end" fill="#000">0.5</text>
<line x1="1103.20" y1="1684.20" x2="1114.20" y2="1684.20" stroke="#000" stroke-width="2.6" stroke-linecap="butt"/>
<text x="1090.3" y="1692.7" font-size="24.5" text-anchor="end" fill="#000">0.0</text>
<line x1="1148.00" y1="1684.20" x2="1148.00" y2="1695.20" stroke="#000" stroke-width="2.6" stroke-linecap="butt"/>
<text x="1148.0" y="1725.4" font-size="25" text-anchor="middle" fill="#000">0 h</text>
<line x1="1214.40" y1="1684.20" x2="1214.40" y2="1695.20" stroke="#000" stroke-width="2.6" stroke-linecap="butt"/>
<text x="1214.4" y="1725.4" font-size="25" text-anchor="middle" fill="#000">4 h</text>
<line x1="1281.20" y1="1684.20" x2="1281.20" y2="1695.20" stroke="#000" stroke-width="2.6" stroke-linecap="butt"/>
<text x="1281.2" y="1725.4" font-size="25" text-anchor="middle" fill="#000">8 h</text>
<line x1="1347.90" y1="1684.20" x2="1347.90" y2="1695.20" stroke="#000" stroke-width="2.6" stroke-linecap="butt"/>
<text x="1347.9" y="1725.4" font-size="25" text-anchor="middle" fill="#000">12 h</text>
<line x1="1414.80" y1="1684.20" x2="1414.80" y2="1695.20" stroke="#000" stroke-width="2.6" stroke-linecap="butt"/>
<text x="1414.8" y="1725.4" font-size="25" text-anchor="middle" fill="#000">16 h</text>
<line x1="1481.60" y1="1684.20" x2="1481.60" y2="1695.20" stroke="#000" stroke-width="2.6" stroke-linecap="butt"/>
<text x="1481.6" y="1725.4" font-size="25" text-anchor="middle" fill="#000">20 h</text>
<text x="1316.2" y="1392.2" font-size="25.3" text-anchor="middle" fill="#000" font-style="italic">OsMADS51</text>
<path d="M1148.0,1471.1 L1214.4,1574.9 L1281.2,1610.0 L1347.9,1609.2 L1414.8,1630.8 L1481.6,1621.2" fill="none" stroke="#9a9ca0" stroke-width="2.6" stroke-linejoin="round"/>
<path d="M1142.5,1457.6 H1153.5 M1148.0,1457.6 V1482.8 M1142.5,1482.8 H1153.5" fill="none" stroke="#9a9ca0" stroke-width="2.6"/>
<path d="M1208.9,1572.3 H1219.9 M1214.4,1572.3 V1576.8 M1208.9,1576.8 H1219.9" fill="none" stroke="#9a9ca0" stroke-width="2.6"/>
<path d="M1275.7,1608.2 H1286.7 M1281.2,1608.2 V1611.3 M1275.7,1611.3 H1286.7" fill="none" stroke="#9a9ca0" stroke-width="2.6"/>
<path d="M1342.4,1607.4 H1353.4 M1347.9,1607.4 V1611.3 M1342.4,1611.3 H1353.4" fill="none" stroke="#9a9ca0" stroke-width="2.6"/>
<path d="M1409.3,1628.9 H1420.3 M1414.8,1628.9 V1632.8 M1409.3,1632.8 H1420.3" fill="none" stroke="#9a9ca0" stroke-width="2.6"/>
<path d="M1476.1,1619.9 H1487.1 M1481.6,1619.9 V1623.0 M1476.1,1623.0 H1487.1" fill="none" stroke="#9a9ca0" stroke-width="2.6"/>
<path d="M1148.0,1529.5 L1214.4,1565.3 L1281.2,1614.7 L1347.9,1591.3 L1414.8,1640.6 L1481.6,1621.7" fill="none" stroke="#e8101c" stroke-width="2.6" stroke-linejoin="round"/>
<path d="M1142.5,1519.1 H1153.5 M1148.0,1519.1 V1539.9 M1142.5,1539.9 H1153.5" fill="none" stroke="#ff0000" stroke-width="2.6"/>
<path d="M1208.9,1556.0 H1219.9 M1214.4,1556.0 V1574.9 M1208.9,1574.9 H1219.9" fill="none" stroke="#ff0000" stroke-width="2.6"/>
<path d="M1275.7,1610.8 H1286.7 M1281.2,1610.8 V1619.1 M1275.7,1619.1 H1286.7" fill="none" stroke="#ff0000" stroke-width="2.6"/>
<path d="M1342.4,1584.0 H1353.4 M1347.9,1584.0 V1599.6 M1342.4,1599.6 H1353.4" fill="none" stroke="#ff0000" stroke-width="2.6"/>
<path d="M1409.3,1639.1 H1420.3 M1414.8,1639.1 V1642.4 M1409.3,1642.4 H1420.3" fill="none" stroke="#ff0000" stroke-width="2.6"/>
<path d="M1476.1,1619.1 H1487.1 M1481.6,1619.1 V1624.8 M1476.1,1624.8 H1487.1" fill="none" stroke="#ff0000" stroke-width="2.6"/>
<path d="M1148.0,1482.3 L1214.4,1598.3 L1281.2,1602.2 L1347.9,1607.4 L1414.8,1641.1 L1481.6,1596.5" fill="none" stroke="#0070c0" stroke-width="2.6" stroke-linejoin="round"/>
<path d="M1142.5,1468.0 H1153.5 M1148.0,1468.0 V1496.5 M1142.5,1496.5 H1153.5" fill="none" stroke="#0000c4" stroke-width="2.6"/>
<path d="M1208.9,1593.9 H1219.9 M1214.4,1593.9 V1603.5 M1208.9,1603.5 H1219.9" fill="none" stroke="#0000c4" stroke-width="2.6"/>
<path d="M1275.7,1596.2 H1286.7 M1281.2,1596.2 V1608.2 M1275.7,1608.2 H1286.7" fill="none" stroke="#0000c4" stroke-width="2.6"/>
<path d="M1342.4,1605.3 H1353.4 M1347.9,1605.3 V1609.5 M1342.4,1609.5 H1353.4" fill="none" stroke="#0000c4" stroke-width="2.6"/>
<path d="M1409.3,1639.8 H1420.3 M1414.8,1639.8 V1643.2 M1409.3,1643.2 H1420.3" fill="none" stroke="#0000c4" stroke-width="2.6"/>
<path d="M1476.1,1594.4 H1487.1 M1481.6,1594.4 V1598.8 M1476.1,1598.8 H1487.1" fill="none" stroke="#0000c4" stroke-width="2.6"/>
<line x1="1614.30" y1="1415.60" x2="1614.30" y2="1685.40" stroke="#000" stroke-width="2.6" stroke-linecap="butt"/>
<line x1="1603.30" y1="1684.20" x2="2014.90" y2="1684.20" stroke="#000" stroke-width="2.6" stroke-linecap="butt"/>
<line x1="1603.30" y1="1416.80" x2="1614.30" y2="1416.80" stroke="#000" stroke-width="2.6" stroke-linecap="butt"/>
<text x="1589.7" y="1425.3" font-size="24.5" text-anchor="end" fill="#000">2.0</text>
<line x1="1603.30" y1="1484.10" x2="1614.30" y2="1484.10" stroke="#000" stroke-width="2.6" stroke-linecap="butt"/>
<text x="1589.7" y="1492.6" font-size="24.5" text-anchor="end" fill="#000">1.5</text>
<line x1="1603.30" y1="1550.80" x2="1614.30" y2="1550.80" stroke="#000" stroke-width="2.6" stroke-linecap="butt"/>
<text x="1589.7" y="1559.3" font-size="24.5" text-anchor="end" fill="#000">1.0</text>
<line x1="1603.30" y1="1617.30" x2="1614.30" y2="1617.30" stroke="#000" stroke-width="2.6" stroke-linecap="butt"/>
<text x="1589.7" y="1625.8" font-size="24.5" text-anchor="end" fill="#000">0.5</text>
<line x1="1603.30" y1="1684.20" x2="1614.30" y2="1684.20" stroke="#000" stroke-width="2.6" stroke-linecap="butt"/>
<text x="1589.7" y="1692.7" font-size="24.5" text-anchor="end" fill="#000">0.0</text>
<line x1="1647.00" y1="1684.20" x2="1647.00" y2="1695.20" stroke="#000" stroke-width="2.6" stroke-linecap="butt"/>
<text x="1647.0" y="1725.4" font-size="25" text-anchor="middle" fill="#000">0 h</text>
<line x1="1713.80" y1="1684.20" x2="1713.80" y2="1695.20" stroke="#000" stroke-width="2.6" stroke-linecap="butt"/>
<text x="1713.8" y="1725.4" font-size="25" text-anchor="middle" fill="#000">4 h</text>
<line x1="1780.50" y1="1684.20" x2="1780.50" y2="1695.20" stroke="#000" stroke-width="2.6" stroke-linecap="butt"/>
<text x="1780.5" y="1725.4" font-size="25" text-anchor="middle" fill="#000">8 h</text>
<line x1="1847.50" y1="1684.20" x2="1847.50" y2="1695.20" stroke="#000" stroke-width="2.6" stroke-linecap="butt"/>
<text x="1847.5" y="1725.4" font-size="25" text-anchor="middle" fill="#000">12 h</text>
<line x1="1913.90" y1="1684.20" x2="1913.90" y2="1695.20" stroke="#000" stroke-width="2.6" stroke-linecap="butt"/>
<text x="1913.9" y="1725.4" font-size="25" text-anchor="middle" fill="#000">16 h</text>
<line x1="1980.60" y1="1684.20" x2="1980.60" y2="1695.20" stroke="#000" stroke-width="2.6" stroke-linecap="butt"/>
<text x="1980.6" y="1725.4" font-size="25" text-anchor="middle" fill="#000">20 h</text>
<text x="1815.0" y="1393.5" font-size="25.3" text-anchor="middle" fill="#000" font-style="italic">OsMADS56</text>
<path d="M1647.0,1491.9 L1713.8,1536.0 L1780.5,1569.0 L1847.5,1617.0 L1913.9,1610.0 L1980.6,1589.2" fill="none" stroke="#9a9ca0" stroke-width="2.6" stroke-linejoin="round"/>
<path d="M1641.5,1476.3 H1652.5 M1647.0,1476.3 V1505.6 M1641.5,1505.6 H1652.5" fill="none" stroke="#9a9ca0" stroke-width="2.6"/>
<path d="M1708.3,1525.6 H1719.3 M1713.8,1525.6 V1546.4 M1708.3,1546.4 H1719.3" fill="none" stroke="#9a9ca0" stroke-width="2.6"/>
<path d="M1842.0,1615.7 H1853.0 M1847.5,1615.7 V1619.1 M1842.0,1619.1 H1853.0" fill="none" stroke="#9a9ca0" stroke-width="2.6"/>
<path d="M1908.4,1608.7 H1919.4 M1913.9,1608.7 V1611.8 M1908.4,1611.8 H1919.4" fill="none" stroke="#9a9ca0" stroke-width="2.6"/>
<path d="M1975.1,1586.6 H1986.1 M1980.6,1586.6 V1591.8 M1975.1,1591.8 H1986.1" fill="none" stroke="#9a9ca0" stroke-width="2.6"/>
<path d="M1647.0,1486.7 L1713.8,1545.1 L1780.5,1567.9 L1847.5,1599.1 L1913.9,1622.5 L1980.6,1580.9" fill="none" stroke="#e8101c" stroke-width="2.6" stroke-linejoin="round"/>
<path d="M1641.5,1478.1 H1652.5 M1647.0,1478.1 V1494.5 M1641.5,1494.5 H1652.5" fill="none" stroke="#ff0000" stroke-width="2.6"/>
<path d="M1708.3,1536.8 H1719.3 M1713.8,1536.8 V1552.9 M1708.3,1552.9 H1719.3" fill="none" stroke="#ff0000" stroke-width="2.6"/>
<path d="M1775.0,1562.0 H1786.0 M1780.5,1562.0 V1574.9 M1775.0,1574.9 H1786.0" fill="none" stroke="#ff0000" stroke-width="2.6"/>
<path d="M1842.0,1590.0 H1853.0 M1847.5,1590.0 V1608.7 M1842.0,1608.7 H1853.0" fill="none" stroke="#ff0000" stroke-width="2.6"/>
<path d="M1908.4,1619.9 H1919.4 M1913.9,1619.9 V1625.6 M1908.4,1625.6 H1919.4" fill="none" stroke="#ff0000" stroke-width="2.6"/>
<path d="M1975.1,1573.1 H1986.1 M1980.6,1573.1 V1588.7 M1975.1,1588.7 H1986.1" fill="none" stroke="#ff0000" stroke-width="2.6"/>
<path d="M1647.0,1519.1 L1713.8,1547.2 L1780.5,1555.5 L1847.5,1624.3 L1913.9,1626.3 L1980.6,1573.1" fill="none" stroke="#0070c0" stroke-width="2.6" stroke-linejoin="round"/>
<path d="M1641.5,1507.4 H1652.5 M1647.0,1507.4 V1531.6 M1641.5,1531.6 H1652.5" fill="none" stroke="#0000c4" stroke-width="2.6"/>
<path d="M1708.3,1532.1 H1719.3 M1713.8,1532.1 V1562.7 M1708.3,1562.7 H1719.3" fill="none" stroke="#0000c4" stroke-width="2.6"/>
<path d="M1775.0,1550.8 H1786.0 M1780.5,1550.8 V1560.7 M1775.0,1560.7 H1786.0" fill="none" stroke="#0000c4" stroke-width="2.6"/>
<path d="M1908.4,1624.3 H1919.4 M1913.9,1624.3 V1628.7 M1908.4,1628.7 H1919.4" fill="none" stroke="#0000c4" stroke-width="2.6"/>
<path d="M1975.1,1560.1 H1986.1 M1980.6,1560.1 V1583.5 M1975.1,1583.5 H1986.1" fill="none" stroke="#0000c4" stroke-width="2.6"/>
<text transform="translate(20.8,736.6) rotate(-90)" font-size="25.2" text-anchor="middle">Relative expression level</text>
<text transform="translate(36.3,1141.8) rotate(-90)" font-size="25.2" text-anchor="middle">Relative expression level</text>
<text transform="translate(38.8,1547.5) rotate(-90)" font-size="25.2" text-anchor="middle">Relative expression level</text>
<rect x="103.0" y="1760" width="410.2" height="20" fill="#000"/>
<rect x="131.0" y="1762.3" width="230.3" height="15.1" fill="#fff"/>
<text x="315.0" y="1814.0" font-size="25.3" text-anchor="middle" fill="#000">Zeitgeber time (h)</text>
<rect x="610.1" y="1760" width="399.9" height="20" fill="#000"/>
<rect x="638.1" y="1762.3" width="230.6" height="15.1" fill="#fff"/>
<text x="808.2" y="1814.0" font-size="25.3" text-anchor="middle" fill="#000">Zeitgeber time (h)</text>
<rect x="1107.6" y="1760" width="405.6" height="20" fill="#000"/>
<rect x="1135.8" y="1762.3" width="230.2" height="15.1" fill="#fff"/>
<text x="1310.6" y="1814.0" font-size="25.3" text-anchor="middle" fill="#000">Zeitgeber time (h)</text>
<rect x="1612.1" y="1760" width="399.4" height="20" fill="#000"/>
<rect x="1640.6" y="1762.3" width="230.4" height="15.1" fill="#fff"/>
<text x="1820.8" y="1814.0" font-size="25.3" text-anchor="middle" fill="#000">Zeitgeber time (h)</text>
<line x1="753.10" y1="1853.60" x2="784.90" y2="1853.60" stroke="#00208a" stroke-width="2.6" stroke-linecap="butt"/>
<text x="792.4" y="1860.2" font-size="20.5" text-anchor="start" fill="#000">WT</text>
<line x1="933.00" y1="1853.60" x2="964.00" y2="1853.60" stroke="#e8101c" stroke-width="2.6" stroke-linecap="butt"/>
<text x="972.3" y="1860.2" font-size="20.5" text-anchor="start" fill="#000" font-style="italic">oschz1-1</text>
<line x1="1145.50" y1="1853.60" x2="1176.00" y2="1853.60" stroke="#9a9ca0" stroke-width="2.6" stroke-linecap="butt"/>
<text x="1184.5" y="1860.2" font-size="20.5" text-anchor="start" fill="#000" font-style="italic">oschz1-2</text>
</svg>
</body></html>
